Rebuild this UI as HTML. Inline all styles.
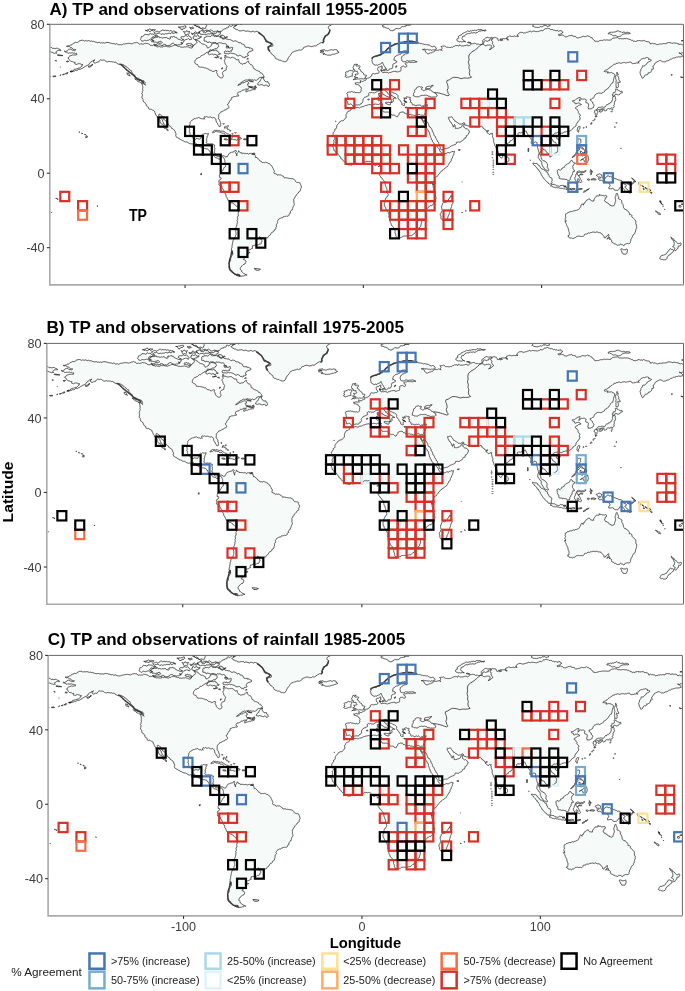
<!DOCTYPE html>
<html><head><meta charset="utf-8"><title>TP and observations of rainfall</title>
<style>
html,body{margin:0;padding:0;background:#fff;}
body{width:685px;height:991px;overflow:hidden;}
svg{display:block;will-change:transform;}
text{font-family:"Liberation Sans",sans-serif;}
.ttl{font-weight:bold;font-size:17.05px;fill:#000;}
.tk{font-size:12.6px;fill:#3d3d3d;}
.ax{font-weight:bold;font-size:14.8px;fill:#000;}
.lg{font-size:10.85px;fill:#1a1a1a;}
.lgt{font-size:11.75px;fill:#1a1a1a;}
.tp{font-weight:bold;font-size:14.1px;fill:#000;}
</style></head><body>
<svg width="685" height="991" viewBox="0 0 685 991">
<rect width="685" height="991" fill="#fff"/>
<defs><path id="coast" fill="#f6faf8" fill-rule="evenodd" stroke="#1e1e1e" stroke-width="0.8" stroke-opacity="0.95" vector-effect="non-scaling-stroke" d="M-166.9 -53.9L-165.9 -54.1L-166.2 -53.5L-167.4 -53.4L-166.9 -53.9ZM-169 -53L-167.8 -53.4L-168.3 -52.9L-169 -53ZM-170.5 -52.6L-169.8 -52.9L-170.3 -52.5ZM-174.5 -52.1L-173 -52.3L-172.6 -52L-174.2 -51.9L-174.5 -52.1ZM-176.9 -51.9L-175.8 -52L-176.2 -51.6L-177 -51.6ZM-178.3 -51.9L-177.6 -51.8L-178.1 -51.6ZM178.2 -51.8L179.6 -51.5L179 -51.4ZM172.8 -53L173.6 -52.9L173.2 -52.7ZM-163.5 -54.8L-164.8 -54.6L-164.3 -54.4L-163.3 -54.6ZM-171.8 -63.7L-169.5 -63.4L-168.7 -63.2L-170.3 -63.2L-171.8 -63.4L-171.8 -63.7ZM-166.5 -60.3L-165.5 -60.2L-165.9 -59.8L-166.9 -60L-166.5 -60.3ZM-170.3 -57.2L-170.1 -57.1L-170.2 -57ZM-173.1 -60.6L-172.3 -60.4L-172.8 -60.3ZM-152.5 -58.6L-152 -58.5L-152.4 -58.3ZM72.28 -11.5L72.5 -11.72L72.72 -11.5L72.5 -11.28L72.28 -11.5ZM72.28 -10.8L72.5 -11.02L72.72 -10.8L72.5 -10.58L72.28 -10.8ZM72.28 -10L72.5 -10.22L72.72 -10L72.5 -9.78L72.28 -10ZM72.28 -8.3L72.5 -8.52L72.72 -8.3L72.5 -8.08L72.28 -8.3ZM72.78 -7L73 -7.22L73.22 -7L73 -6.78L72.78 -7ZM72.78 -6L73 -6.22L73.22 -6L73 -5.78L72.78 -6ZM72.78 -5L73 -5.22L73.22 -5L73 -4.78L72.78 -5ZM72.78 -4.2L73 -4.42L73.22 -4.2L73 -3.98L72.78 -4.2ZM72.78 -3.3L73 -3.52L73.22 -3.3L73 -3.08L72.78 -3.3ZM72.78 -2L73 -2.22L73.22 -2L73 -1.78L72.78 -2ZM72.78 -0.5L73 -0.72L73.22 -0.5L73 -0.28L72.78 -0.5ZM72.78 0.6L73 0.38L73.22 0.6L73 0.82L72.78 0.6ZM123.5 -24.4L123.8 -24.7L124.1 -24.4L123.8 -24.1L123.5 -24.4ZM125 -24.8L125.3 -25.1L125.6 -24.8L125.3 -24.5L125 -24.8ZM127.6 -26.5L127.9 -26.8L128.2 -26.5L127.9 -26.2L127.6 -26.5ZM128 -27L128.3 -27.3L128.6 -27L128.3 -26.7L128 -27ZM129 -28.3L129.3 -28.6L129.6 -28.3L129.3 -28L129 -28.3ZM129.7 -29L130 -29.3L130.3 -29L130 -28.7L129.7 -29ZM130.3 -30.4L130.6 -30.7L130.9 -30.4L130.6 -30.1L130.3 -30.4ZM130.7 -30.6L131 -30.9L131.3 -30.6L131 -30.3L130.7 -30.6ZM139.2 -33.1L139.5 -33.4L139.8 -33.1L139.5 -32.8L139.2 -33.1ZM139.5 -34.1L139.8 -34.4L140.1 -34.1L139.8 -33.8L139.5 -34.1ZM141.9 -27.1L142.2 -27.4L142.5 -27.1L142.2 -26.8L141.9 -27.1ZM141 -24.8L141.3 -25.1L141.6 -24.8L141.3 -24.5L141 -24.8ZM-78.15 -24.4L-77.8 -24.75L-77.45 -24.4L-77.8 -24.05L-78.15 -24.4ZM-77.75 -25.1L-77.4 -25.45L-77.05 -25.1L-77.4 -24.75L-77.75 -25.1ZM-76.85 -24.3L-76.5 -24.65L-76.15 -24.3L-76.5 -23.95L-76.85 -24.3ZM-76.15 -23.5L-75.8 -23.85L-75.45 -23.5L-75.8 -23.15L-76.15 -23.5ZM-75.15 -22.8L-74.8 -23.15L-74.45 -22.8L-74.8 -22.45L-75.15 -22.8ZM-73.85 -21.2L-73.5 -21.55L-73.15 -21.2L-73.5 -20.85L-73.85 -21.2ZM-76.35 -25.4L-76 -25.75L-75.65 -25.4L-76 -25.05L-76.35 -25.4ZM-78.85 -26.6L-78.5 -26.95L-78.15 -26.6L-78.5 -26.25L-78.85 -26.6ZM-72.15 -21.8L-71.8 -22.15L-71.45 -21.8L-71.8 -21.45L-72.15 -21.8ZM156.5 6.6L157.3 7L157.6 7.4L156.9 7.2ZM158.2 7.6L159.3 8.2L159.9 8.5L159.5 8.6L158.4 8ZM157.2 8.2L158 8.5L157.7 8.8L157.1 8.5ZM161.3 10.2L162.3 10.6L162 10.8L161.3 10.5ZM166.6 14.7L167.2 15.1L167.1 15.6L166.7 15.5ZM167.2 16L167.8 16.4L167.5 16.6ZM169.2 19.4L169.5 19.5L169.3 19.7ZM168 16.8L168.4 16.7L168.3 17ZM-168 -65.6L-167.71 -65.64L-167.45 -65.5L-167.17 -65.44L-166.9 -65.57L-166.63 -65.66L-166.35 -65.74L-166.1 -65.92L-166 -66.2L-165.82 -66.42L-165.61 -66.6L-165.31 -66.57L-165.05 -66.71L-164.78 -66.71L-164.51 -66.71L-164.26 -66.58L-164 -66.5L-163.78 -66.23L-163.44 -66.13L-163.11 -66.11L-162.78 -66.05L-162.45 -65.91L-162.09 -65.92L-161.82 -66.15L-161.5 -66.3L-161.74 -66.47L-162.04 -66.46L-162.3 -66.57L-162.59 -66.56L-162.89 -66.57L-163.14 -66.74L-163.37 -66.93L-163.5 -67.2L-163.68 -67.35L-163.9 -67.41L-164.13 -67.44L-164.36 -67.4L-164.47 -67.6L-164.67 -67.71L-164.86 -67.82L-165 -68L-165.23 -68.1L-165.47 -68.17L-165.71 -68.1L-165.93 -67.97L-166.17 -68.01L-166.35 -68.19L-166.6 -68.16L-166.8 -68.3L-166.45 -68.43L-166.07 -68.39L-165.72 -68.54L-165.34 -68.43L-164.98 -68.55L-164.73 -68.85L-164.38 -69.01L-164 -69L-163.68 -69.1L-163.45 -69.34L-163.19 -69.54L-163 -69.8L-162.62 -69.92L-162.25 -70.06L-161.85 -70.16L-161.57 -70.47L-161.18 -70.29L-160.76 -70.23L-160.44 -70.53L-160 -70.6L-159.75 -70.94L-159.4 -71.18L-159 -71.29L-158.61 -71.46L-158.19 -71.44L-157.78 -71.49L-157.35 -71.46L-157 -71.2L-156.76 -71.06L-156.48 -71.09L-156.28 -71.28L-155.99 -71.28L-155.75 -71.2L-155.5 -71.16L-155.24 -71.21L-155 -71.1L-154.65 -71.31L-154.23 -71.28L-153.87 -71.13L-153.5 -71L-153.09 -70.91L-152.72 -71.11L-152.35 -70.97L-152 -70.8L-151.54 -70.88L-151.11 -70.73L-150.68 -70.57L-150.27 -70.39L-149.8 -70.38L-149.4 -70.14L-148.95 -70.24L-148.5 -70.3L-148.02 -70.32L-147.65 -70L-147.22 -70.19L-146.76 -70.07L-146.31 -70L-145.88 -70.11L-145.44 -69.97L-145 -70.1L-144.5 -70.24L-144 -70.35L-143.48 -70.27L-142.96 -70.25L-142.5 -70.02L-141.98 -69.99L-141.5 -69.8L-141 -69.7L-140.6 -69.58L-140.22 -69.74L-139.83 -69.65L-139.51 -69.41L-139.09 -69.37L-138.74 -69.61L-138.34 -69.52L-138 -69.3L-137.76 -69.18L-137.53 -69.04L-137.27 -69.13L-136.99 -69.13L-136.72 -69.1L-136.46 -69.19L-136.25 -69L-136 -68.9L-135.77 -69.04L-135.52 -69.11L-135.29 -69.24L-135.03 -69.3L-134.8 -69.47L-134.52 -69.44L-134.26 -69.44L-134 -69.5L-133.64 -69.64L-133.26 -69.66L-132.89 -69.72L-132.51 -69.76L-132.14 -69.85L-131.75 -69.85L-131.38 -69.76L-131 -69.7L-130.73 -69.68L-130.46 -69.63L-130.19 -69.58L-129.93 -69.53L-129.66 -69.62L-129.47 -69.82L-129.2 -69.9L-129 -70.1L-128.81 -70.14L-128.61 -70.15L-128.4 -70.17L-128.22 -70.09L-128.04 -70.18L-127.84 -70.19L-127.68 -70.31L-127.5 -70.4L-127.28 -70.19L-126.98 -70.15L-126.68 -70.21L-126.42 -70.06L-126.26 -69.81L-126.08 -69.57L-125.82 -69.39L-125.5 -69.4L-125.22 -69.41L-125.01 -69.61L-124.73 -69.62L-124.5 -69.46L-124.25 -69.38L-124 -69.46L-123.74 -69.51L-123.5 -69.4L-123.2 -69.54L-122.94 -69.76L-122.62 -69.9L-122.28 -69.84L-121.95 -69.77L-121.62 -69.81L-121.29 -69.77L-121 -69.6L-120.53 -69.51L-120.1 -69.28L-119.8 -68.89L-119.36 -68.67L-118.87 -68.77L-118.39 -68.62L-118 -68.94L-117.5 -69L-117.18 -68.78L-116.8 -68.81L-116.64 -68.47L-116.36 -68.23L-115.98 -68.23L-115.7 -67.98L-115.35 -67.92L-115 -68L-114.75 -68.1L-114.48 -68.08L-114.25 -67.95L-114 -67.85L-113.73 -67.81L-113.48 -67.91L-113.2 -67.9L-113 -67.7L-112.69 -67.97L-112.34 -68.19L-111.93 -68.32L-111.53 -68.15L-111.14 -68.27L-110.74 -68.36L-110.35 -68.22L-110 -68L-109.67 -68.06L-109.35 -67.99L-109.02 -67.93L-108.73 -67.8L-108.44 -67.98L-108.18 -68.2L-107.84 -68.18L-107.5 -68.2L-107.32 -68.33L-107.1 -68.35L-106.96 -68.5L-106.81 -68.66L-106.59 -68.63L-106.41 -68.75L-106.21 -68.8L-106 -68.8L-105.6 -68.82L-105.21 -68.74L-104.84 -68.58L-104.53 -68.34L-104.13 -68.35L-103.77 -68.19L-103.37 -68.23L-103 -68.1L-102.69 -67.84L-102.3 -67.78L-101.9 -67.89L-101.52 -67.72L-101.14 -67.78L-100.77 -67.85L-100.37 -67.96L-100 -67.8L-99.75 -67.86L-99.5 -67.94L-99.26 -68.03L-99 -68.06L-98.76 -67.95L-98.53 -67.81L-98.26 -67.9L-98 -67.8L-97.8 -67.61L-97.56 -67.49L-97.29 -67.45L-97.05 -67.34L-96.78 -67.32L-96.51 -67.35L-96.28 -67.51L-96 -67.5L-96.07 -67.81L-95.92 -68.09L-95.66 -68.24L-95.5 -68.5L-95.34 -68.58L-95.17 -68.66L-95.06 -68.8L-94.92 -68.92L-94.88 -69.11L-94.78 -69.26L-94.59 -69.33L-94.5 -69.5L-94.2 -69.6L-93.96 -69.79L-93.68 -69.94L-93.5 -70.2L-93.58 -70.44L-93.76 -70.62L-93.73 -70.88L-93.81 -71.12L-93.98 -71.3L-94.21 -71.41L-94.38 -71.58L-94.5 -71.8L-94.31 -71.7L-94.1 -71.75L-93.89 -71.7L-93.76 -71.53L-93.54 -71.48L-93.41 -71.3L-93.21 -71.36L-93 -71.3L-92.81 -71.13L-92.57 -71.09L-92.33 -71.01L-92.1 -70.96L-91.92 -70.75L-91.92 -70.48L-91.66 -70.41L-91.5 -70.2L-91.24 -70.09L-91.04 -69.88L-90.86 -69.65L-90.6 -69.53L-90.33 -69.44L-90.07 -69.31L-89.78 -69.39L-89.5 -69.3L-89.28 -69.29L-89.11 -69.16L-88.94 -69.03L-88.73 -68.98L-88.59 -68.82L-88.42 -68.69L-88.22 -68.61L-88 -68.6L-88.06 -68.42L-88 -68.23L-87.87 -68.1L-87.78 -67.94L-87.69 -67.77L-87.71 -67.59L-87.63 -67.42L-87.5 -67.3L-87.26 -67.48L-86.96 -67.47L-86.69 -67.58L-86.5 -67.8L-86.25 -67.96L-85.96 -68.05L-85.69 -68.21L-85.58 -68.51L-85.38 -68.73L-85.34 -69.03L-85.23 -69.31L-85.2 -69.6L-84.91 -69.47L-84.61 -69.55L-84.41 -69.78L-84.12 -69.87L-83.83 -69.89L-83.55 -69.97L-83.25 -69.96L-83 -69.8L-82.85 -69.66L-82.68 -69.52L-82.47 -69.52L-82.27 -69.45L-82.06 -69.51L-81.84 -69.46L-81.67 -69.33L-81.5 -69.2L-81.45 -68.97L-81.36 -68.75L-81.36 -68.5L-81.2 -68.3L-81.33 -68.06L-81.59 -67.96L-81.74 -67.76L-81.79 -67.5L-82.04 -67.42L-82.2 -67.2L-82.35 -67L-82.5 -66.8L-82.74 -66.97L-83.03 -66.96L-83.31 -66.95L-83.58 -66.86L-83.75 -66.63L-83.94 -66.43L-84.24 -66.43L-84.5 -66.3L-84.73 -66.28L-84.92 -66.14L-85.14 -66.17L-85.36 -66.13L-85.55 -66.25L-85.78 -66.27L-85.98 -66.36L-86.2 -66.4L-86.31 -66.24L-86.3 -66.04L-86.29 -65.84L-86.41 -65.67L-86.47 -65.47L-86.64 -65.36L-86.79 -65.22L-87 -65.2L-87.29 -65.16L-87.54 -65.02L-87.8 -64.86L-88.1 -64.9L-88.25 -64.64L-88.49 -64.48L-88.76 -64.37L-89 -64.2L-89.21 -64.06L-89.45 -63.98L-89.57 -63.77L-89.75 -63.59L-89.97 -63.46L-90.19 -63.34L-90.44 -63.43L-90.7 -63.4L-90.93 -63.24L-91.17 -63.1L-91.29 -62.85L-91.5 -62.66L-91.74 -62.49L-91.93 -62.27L-92.21 -62.19L-92.5 -62.2L-92.63 -61.98L-92.86 -61.88L-93.09 -61.86L-93.33 -61.82L-93.59 -61.8L-93.78 -61.63L-93.93 -61.44L-94 -61.2L-94.14 -61.01L-94.3 -60.83L-94.47 -60.66L-94.51 -60.41L-94.64 -60.21L-94.63 -59.96L-94.72 -59.74L-94.7 -59.5L-94.71 -59.26L-94.57 -59.07L-94.37 -58.95L-94.2 -58.8L-93.9 -58.67L-93.62 -58.51L-93.29 -58.47L-93 -58.3L-92.91 -58.13L-92.93 -57.95L-92.79 -57.82L-92.67 -57.69L-92.57 -57.52L-92.59 -57.33L-92.41 -57.26L-92.3 -57.1L-92 -57.13L-91.73 -56.99L-91.44 -57.01L-91.15 -57.04L-90.86 -57.03L-90.58 -56.95L-90.29 -56.95L-90 -57L-89.76 -56.89L-89.51 -56.81L-89.29 -56.62L-89.01 -56.64L-88.74 -56.61L-88.49 -56.52L-88.21 -56.49L-88 -56.3L-87.65 -56.19L-87.29 -56.24L-87.02 -56.01L-86.73 -55.8L-86.53 -55.48L-86.21 -55.3L-85.84 -55.35L-85.5 -55.2L-85.08 -55.07L-84.76 -54.77L-84.33 -54.75L-83.9 -54.72L-83.52 -54.95L-83.18 -55.24L-82.74 -55.24L-82.3 -55.2L-82.25 -54.98L-82.25 -54.75L-82.27 -54.51L-82.44 -54.34L-82.43 -54.1L-82.27 -53.93L-82.19 -53.72L-82.2 -53.5L-82.07 -53.35L-81.89 -53.26L-81.81 -53.07L-81.82 -52.87L-81.86 -52.67L-81.78 -52.48L-81.66 -52.32L-81.5 -52.2L-81.32 -52.11L-81.18 -51.97L-80.98 -51.9L-80.86 -51.74L-80.74 -51.57L-80.58 -51.44L-80.38 -51.4L-80.2 -51.3L-79.89 -51.19L-79.57 -51.24L-79.28 -51.35L-79 -51.5L-78.94 -51.79L-78.75 -52.02L-78.65 -52.3L-78.7 -52.6L-78.83 -52.78L-78.93 -52.98L-79.07 -53.15L-79.21 -53.32L-79.16 -53.56L-79 -53.74L-78.99 -53.98L-79.1 -54.2L-78.86 -54.41L-78.63 -54.63L-78.46 -54.91L-78.21 -55.1L-77.88 -55.14L-77.55 -55.15L-77.31 -55.38L-77 -55.5L-77.09 -55.73L-77.09 -55.97L-77.09 -56.22L-76.96 -56.44L-76.84 -56.65L-76.85 -56.9L-76.74 -57.11L-76.6 -57.3L-76.65 -57.48L-76.7 -57.66L-76.85 -57.78L-76.93 -57.95L-77.06 -58.09L-77.23 -58.17L-77.34 -58.32L-77.4 -58.5L-77.52 -58.74L-77.69 -58.94L-77.64 -59.21L-77.69 -59.47L-77.82 -59.69L-77.93 -59.92L-78.07 -60.14L-78.1 -60.4L-78.05 -60.57L-78.08 -60.75L-77.96 -60.88L-77.84 -61.01L-77.6 -61.24L-77.4 -61.5L-77.58 -61.7L-77.72 -61.94L-77.87 -62.16L-78 -62.4L-77.69 -62.49L-77.37 -62.45L-77.06 -62.49L-76.74 -62.49L-76.42 -62.45L-76.1 -62.52L-75.81 -62.38L-75.5 -62.3L-75.24 -62.23L-75.03 -62.07L-74.78 -61.97L-74.51 -62.05L-74.3 -62.21L-74.04 -62.24L-73.77 -62.29L-73.6 -62.5L-73.31 -62.35L-73.08 -62.12L-72.74 -62.2L-72.44 -62.03L-72.25 -61.76L-71.96 -61.63L-71.66 -61.49L-71.5 -61.2L-71.38 -61.03L-71.17 -60.98L-70.98 -60.89L-70.77 -60.92L-70.6 -61.04L-70.39 -61L-70.2 -61.01L-70 -61L-69.97 -60.78L-69.8 -60.63L-69.89 -60.43L-69.85 -60.22L-69.85 -60.01L-69.75 -59.82L-69.68 -59.62L-69.5 -59.5L-69.33 -59.36L-69.25 -59.16L-69.05 -59.08L-68.84 -59.07L-68.65 -58.96L-68.43 -58.95L-68.28 -58.8L-68.2 -58.6L-67.95 -58.55L-67.73 -58.68L-67.53 -58.81L-67.39 -59.01L-67.16 -58.91L-66.92 -58.99L-66.69 -58.94L-66.5 -58.8L-66.41 -58.97L-66.31 -59.12L-66.11 -59.13L-65.96 -59.26L-65.81 -59.36L-65.71 -59.51L-65.58 -59.64L-65.5 -59.8L-65.29 -59.99L-65.03 -60.11L-64.76 -60.19L-64.5 -60.3L-64.37 -60.05L-64.42 -59.77L-64.41 -59.49L-64.21 -59.28L-63.98 -59.14L-63.84 -58.9L-63.69 -58.69L-63.5 -58.5L-63.28 -58.4L-63.04 -58.39L-62.8 -58.36L-62.57 -58.26L-62.39 -58.1L-62.3 -57.87L-62.15 -57.68L-62 -57.5L-61.97 -57.32L-61.95 -57.15L-61.92 -56.97L-61.88 -56.8L-61.79 -56.63L-61.79 -56.44L-61.61 -56.37L-61.5 -56.2L-61.26 -56.19L-61.03 -56.14L-60.85 -55.99L-60.74 -55.77L-60.62 -55.57L-60.4 -55.49L-60.2 -55.39L-60 -55.3L-59.74 -55.16L-59.44 -55.14L-59.17 -55.05L-58.92 -54.89L-58.62 -54.83L-58.34 -54.71L-58.1 -54.5L-58 -54.2L-57.8 -54.06L-57.65 -53.86L-57.42 -53.76L-57.17 -53.82L-56.96 -53.72L-56.84 -53.51L-56.65 -53.38L-56.5 -53.2L-56.39 -52.91L-56.17 -52.68L-55.94 -52.47L-55.8 -52.2L-55.94 -52.05L-56.06 -51.88L-56.27 -51.85L-56.46 -51.77L-56.65 -51.68L-56.79 -51.52L-57 -51.55L-57.2 -51.5L-57.47 -51.48L-57.74 -51.5L-58.02 -51.53L-58.28 -51.4L-58.45 -51.17L-58.74 -51.09L-58.95 -50.89L-59 -50.6L-59.25 -50.47L-59.43 -50.25L-59.72 -50.22L-59.92 -50.01L-60.2 -49.91L-60.49 -49.95L-60.78 -50.01L-61 -50.2L-61.33 -50.15L-61.62 -49.98L-61.93 -50.11L-62.25 -50.19L-62.57 -50.24L-62.88 -50.15L-63.21 -50.15L-63.5 -50.3L-63.8 -50.48L-64.15 -50.44L-64.43 -50.26L-64.75 -50.15L-65.07 -50.06L-65.38 -49.95L-65.67 -50.14L-66 -50.2L-66.19 -50.08L-66.38 -49.98L-66.6 -49.92L-66.83 -49.95L-66.94 -49.74L-67.06 -49.54L-67.26 -49.41L-67.5 -49.4L-67.75 -49.4L-67.93 -49.24L-68.11 -49.09L-68.26 -48.91L-68.5 -48.89L-68.67 -48.71L-68.82 -48.55L-69 -48.4L-69.2 -48.25L-69.44 -48.15L-69.55 -47.93L-69.68 -47.71L-69.91 -47.62L-70.16 -47.57L-70.29 -47.34L-70.5 -47.2L-70.25 -47.31L-69.99 -47.36L-69.75 -47.5L-69.5 -47.6L-69.28 -47.61L-69.07 -47.68L-68.9 -47.82L-68.7 -47.9L-68.54 -48.07L-68.5 -48.29L-68.31 -48.4L-68.2 -48.6L-67.97 -48.61L-67.74 -48.57L-67.53 -48.69L-67.29 -48.64L-67.04 -48.62L-66.82 -48.74L-66.66 -48.92L-66.5 -49.1L-66.23 -49.11L-65.99 -49.23L-65.73 -49.28L-65.47 -49.3L-65.2 -49.29L-64.95 -49.19L-64.75 -49L-64.5 -48.9L-64.51 -48.71L-64.48 -48.53L-64.43 -48.34L-64.3 -48.2L-64.5 -48.05L-64.75 -48.04L-64.98 -47.98L-65.2 -47.9L-65.04 -47.71L-64.92 -47.48L-64.85 -47.25L-64.8 -47L-64.67 -46.79L-64.64 -46.54L-64.44 -46.4L-64.3 -46.2L-64.08 -46.34L-63.81 -46.36L-63.55 -46.32L-63.34 -46.17L-63.16 -46L-62.92 -45.94L-62.66 -45.9L-62.5 -45.7L-62.31 -45.75L-62.12 -45.76L-61.95 -45.65L-61.75 -45.64L-61.56 -45.61L-61.38 -45.56L-61.2 -45.65L-61 -45.6L-60.8 -45.82L-60.59 -46.03L-60.3 -46.07L-60 -46.1L-60.27 -45.9L-60.48 -45.63L-60.5 -45.29L-60.7 -45L-60.93 -44.97L-61.15 -44.94L-61.38 -44.88L-61.61 -44.9L-61.84 -44.97L-62.08 -44.9L-62.32 -44.86L-62.5 -44.7L-62.72 -44.64L-62.92 -44.75L-63.08 -44.61L-63.28 -44.53L-63.49 -44.53L-63.65 -44.39L-63.79 -44.24L-64 -44.2L-64.27 -44.2L-64.5 -44.32L-64.72 -44.18L-64.95 -44.06L-65.15 -43.89L-65.4 -43.88L-65.63 -43.78L-65.8 -43.6L-65.88 -43.8L-65.93 -44.01L-66.04 -44.19L-66.1 -44.4L-65.93 -44.48L-65.79 -44.6L-65.63 -44.72L-65.43 -44.71L-65.23 -44.72L-65.07 -44.83L-64.95 -44.98L-64.8 -45.1L-64.63 -45.29L-64.5 -45.5L-64.68 -45.38L-64.9 -45.4L-65.06 -45.27L-65.21 -45.13L-65.4 -45.22L-65.59 -45.31L-65.78 -45.19L-66 -45.2L-66.31 -45.19L-66.58 -45.03L-66.78 -44.77L-67.1 -44.7L-67.3 -44.66L-67.49 -44.7L-67.69 -44.74L-67.89 -44.7L-67.97 -44.51L-68.13 -44.37L-68.29 -44.22L-68.5 -44.2L-68.64 -44L-68.84 -43.88L-69.06 -43.8L-69.29 -43.73L-69.52 -43.73L-69.75 -43.73L-69.97 -43.64L-70.2 -43.6L-70.38 -43.4L-70.52 -43.17L-70.61 -42.9L-70.8 -42.7L-70.6 -42.5L-70.58 -42.22L-70.31 -42.19L-70.1 -42L-70.01 -41.81L-70 -41.6L-70.27 -41.44L-70.59 -41.44L-70.89 -41.57L-71.2 -41.5L-71.37 -41.37L-71.57 -41.32L-71.76 -41.21L-71.98 -41.25L-72.18 -41.21L-72.39 -41.22L-72.59 -41.15L-72.8 -41.2L-72.97 -41.15L-73.14 -41.1L-73.23 -40.94L-73.34 -40.8L-73.47 -40.67L-73.65 -40.62L-73.81 -40.73L-74 -40.7L-74 -40.51L-74.11 -40.36L-74.08 -40.18L-74.1 -40L-74.17 -39.69L-74.31 -39.4L-74.63 -39.29L-74.8 -39L-74.91 -38.83L-75.08 -38.73L-75.23 -38.59L-75.3 -38.4L-75.47 -38.1L-75.44 -37.76L-75.73 -37.59L-75.9 -37.3L-76.04 -37.07L-76.3 -37L-76.23 -36.7L-75.98 -36.51L-75.84 -36.25L-75.7 -36L-75.6 -35.81L-75.63 -35.59L-75.5 -35.42L-75.5 -35.2L-75.77 -35.08L-75.95 -34.86L-76.21 -34.72L-76.5 -34.7L-76.69 -34.63L-76.88 -34.55L-77.01 -34.38L-77.08 -34.19L-77.23 -34.06L-77.42 -34L-77.63 -34.01L-77.8 -33.9L-78.01 -33.93L-78.21 -33.84L-78.39 -33.73L-78.5 -33.55L-78.63 -33.39L-78.81 -33.29L-79.02 -33.32L-79.2 -33.2L-79.41 -33.21L-79.59 -33.11L-79.81 -33.14L-79.98 -33.02L-80.01 -32.8L-80.12 -32.61L-80.28 -32.46L-80.5 -32.4L-80.74 -32.16L-80.96 -31.9L-81.15 -31.61L-81.3 -31.3L-81.32 -31.05L-81.28 -30.79L-81.26 -30.53L-81.4 -30.3L-81.35 -30.03L-81.25 -29.78L-81.4 -29.53L-81.35 -29.24L-81.13 -29.09L-80.92 -28.93L-80.82 -28.67L-80.6 -28.5L-80.59 -28.24L-80.42 -28.03L-80.47 -27.78L-80.42 -27.53L-80.33 -27.29L-80.17 -27.1L-80.1 -26.85L-80.1 -26.6L-80.08 -26.4L-80.16 -26.21L-80.03 -26.06L-80.02 -25.85L-80.13 -25.67L-80.09 -25.45L-80.21 -25.29L-80.4 -25.2L-80.58 -25.2L-80.75 -25.14L-80.93 -25.17L-81.1 -25.2L-81.19 -25.5L-81.35 -25.77L-81.59 -25.97L-81.8 -26.2L-81.78 -26.4L-81.84 -26.6L-81.95 -26.77L-82.01 -26.97L-82.15 -27.11L-82.3 -27.24L-82.45 -27.37L-82.6 -27.5L-82.66 -27.82L-82.74 -28.14L-82.78 -28.47L-82.8 -28.8L-82.88 -28.97L-82.98 -29.13L-83.13 -29.24L-83.3 -29.31L-83.34 -29.49L-83.43 -29.65L-83.54 -29.8L-83.7 -29.9L-83.98 -30L-84.27 -29.89L-84.55 -29.83L-84.8 -29.7L-84.97 -29.73L-85.15 -29.75L-85.28 -29.87L-85.4 -29.99L-85.51 -30.14L-85.64 -30.27L-85.82 -30.26L-86 -30.3L-86.28 -30.27L-86.5 -30.09L-86.79 -30.15L-87.04 -30.01L-87.27 -30.16L-87.54 -30.21L-87.78 -30.35L-88 -30.5L-88.19 -30.42L-88.33 -30.27L-88.53 -30.19L-88.73 -30.26L-88.91 -30.37L-89.13 -30.35L-89.32 -30.29L-89.5 -30.2L-89.41 -29.93L-89.33 -29.66L-89.36 -29.35L-89.2 -29.1L-89.43 -29.23L-89.7 -29.27L-89.92 -29.09L-90.2 -29.1L-90.36 -29.2L-90.48 -29.33L-90.66 -29.32L-90.85 -29.31L-91.02 -29.25L-91.21 -29.28L-91.39 -29.35L-91.5 -29.5L-91.79 -29.52L-92 -29.71L-92.26 -29.79L-92.46 -29.98L-92.75 -29.91L-92.94 -29.69L-93.22 -29.62L-93.5 -29.7L-93.81 -29.58L-94.04 -29.33L-94.23 -29.35L-94.39 -29.24L-94.56 -29.29L-94.7 -29.4L-94.94 -29.27L-95.21 -29.22L-95.34 -28.97L-95.59 -28.84L-95.82 -28.71L-96.07 -28.6L-96.31 -28.5L-96.5 -28.3L-96.65 -28.05L-96.87 -27.87L-97.06 -27.66L-97.3 -27.5L-97.28 -27.29L-97.39 -27.11L-97.31 -26.93L-97.24 -26.74L-97.36 -26.58L-97.43 -26.39L-97.42 -26.2L-97.4 -26L-97.49 -25.78L-97.7 -25.64L-97.76 -25.41L-97.86 -25.21L-97.93 -24.97L-97.86 -24.74L-97.78 -24.52L-97.7 -24.3L-97.7 -24.06L-97.62 -23.84L-97.55 -23.62L-97.52 -23.39L-97.59 -23.16L-97.57 -22.91L-97.72 -22.73L-97.8 -22.5L-97.61 -22.41L-97.5 -22.23L-97.44 -22.04L-97.44 -21.84L-97.36 -21.66L-97.37 -21.47L-97.35 -21.28L-97.3 -21.1L-97.32 -20.86L-97.25 -20.64L-97.09 -20.44L-97.11 -20.2L-96.86 -20.14L-96.64 -20.04L-96.46 -19.85L-96.4 -19.6L-96.09 -19.48L-95.8 -19.3L-95.68 -19.17L-95.55 -19.05L-95.59 -18.87L-95.5 -18.7L-95.23 -18.58L-94.93 -18.6L-94.72 -18.4L-94.5 -18.2L-94.24 -18.17L-94.03 -18.31L-93.93 -18.56L-93.71 -18.68L-93.47 -18.6L-93.23 -18.7L-93.01 -18.62L-92.8 -18.5L-92.62 -18.46L-92.45 -18.49L-92.3 -18.4L-92.13 -18.34L-91.95 -18.34L-91.77 -18.35L-91.6 -18.44L-91.5 -18.6L-91.52 -18.79L-91.44 -18.96L-91.35 -19.12L-91.22 -19.25L-91.03 -19.27L-90.89 -19.39L-90.77 -19.53L-90.6 -19.6L-90.56 -19.94L-90.65 -20.27L-90.71 -20.45L-90.64 -20.63L-90.55 -20.79L-90.4 -20.9L-90.22 -21.02L-90.01 -21.05L-89.8 -21.07L-89.6 -21L-89.41 -21.08L-89.27 -21.24L-89.09 -21.33L-88.9 -21.4L-88.68 -21.32L-88.44 -21.28L-88.19 -21.27L-87.98 -21.15L-87.73 -21.17L-87.48 -21.16L-87.29 -21.33L-87.1 -21.5L-87.01 -21.19L-87.12 -20.89L-87.12 -20.57L-87.3 -20.3L-87.52 -20.11L-87.67 -19.87L-87.8 -19.59L-87.7 -19.3L-87.8 -19.05L-87.88 -18.79L-88.03 -18.56L-88.1 -18.3L-88.08 -18.05L-88.07 -17.81L-87.95 -17.58L-87.97 -17.33L-87.98 -17.08L-88.08 -16.84L-88.2 -16.63L-88.3 -16.4L-88.13 -16.29L-88.02 -16.13L-87.88 -15.98L-87.7 -15.9L-87.5 -15.85L-87.34 -15.72L-87.15 -15.8L-86.95 -15.8L-86.76 -15.71L-86.56 -15.76L-86.37 -15.79L-86.2 -15.9L-85.99 -15.89L-85.81 -15.78L-85.6 -15.73L-85.4 -15.8L-85.19 -15.81L-85 -15.71L-84.8 -15.77L-84.6 -15.8L-84.42 -15.68L-84.36 -15.48L-84.26 -15.3L-84.07 -15.2L-83.89 -15.11L-83.7 -15.04L-83.49 -15.1L-83.3 -15L-83.45 -14.87L-83.61 -14.75L-83.64 -14.55L-83.7 -14.35L-83.66 -14.15L-83.76 -13.96L-83.68 -13.78L-83.6 -13.6L-83.47 -13.43L-83.44 -13.21L-83.48 -13L-83.56 -12.8L-83.43 -12.62L-83.45 -12.39L-83.49 -12.18L-83.6 -12L-83.65 -11.73L-83.57 -11.47L-83.74 -11.26L-83.8 -11L-83.47 -10.88L-83.2 -10.66L-83.25 -10.48L-83.18 -10.31L-83.07 -10.17L-83 -10L-82.93 -9.69L-82.74 -9.42L-82.51 -9.2L-82.2 -9.1L-81.89 -9.03L-81.62 -8.86L-81.3 -8.92L-81 -8.8L-80.82 -8.89L-80.72 -9.06L-80.55 -9.15L-80.44 -9.31L-80.24 -9.23L-80.03 -9.27L-79.87 -9.38L-79.7 -9.5L-79.43 -9.31L-79.11 -9.35L-78.81 -9.42L-78.5 -9.4L-78.17 -9.34L-77.87 -9.17L-77.68 -8.89L-77.4 -8.7L-77.17 -8.78L-76.97 -8.91L-76.75 -8.78L-76.5 -8.8L-76.45 -9.02L-76.35 -9.22L-76.18 -9.37L-76 -9.5L-75.95 -9.78L-75.8 -10.02L-75.74 -10.32L-75.5 -10.5L-75.32 -10.7L-75.1 -10.83L-74.87 -10.99L-74.6 -11L-74.31 -11.09L-74.09 -11.31L-73.8 -11.39L-73.5 -11.3L-73.34 -11.42L-73.14 -11.41L-72.95 -11.43L-72.79 -11.53L-72.58 -11.57L-72.45 -11.73L-72.38 -11.92L-72.3 -12.1L-72.12 -12.13L-71.94 -12.15L-71.77 -12.23L-71.6 -12.3L-71.52 -12.12L-71.38 -11.98L-71.35 -11.79L-71.3 -11.6L-71.55 -11.4L-71.8 -11.2L-71.68 -11.02L-71.61 -10.82L-71.59 -10.61L-71.6 -10.4L-71.33 -10.22L-71.14 -9.94L-71.08 -9.63L-71.1 -9.3L-71.03 -9.64L-71.12 -9.97L-71 -10.28L-70.9 -10.6L-70.75 -10.82L-70.58 -11.03L-70.4 -11.23L-70.2 -11.4L-70.14 -11.58L-70.16 -11.77L-70.04 -11.91L-70 -12.1L-69.88 -11.97L-69.75 -11.85L-69.76 -11.67L-69.7 -11.5L-69.6 -11.33L-69.42 -11.27L-69.28 -11.14L-69.13 -11.04L-68.95 -11.09L-68.76 -11.14L-68.58 -11.07L-68.4 -11L-68.34 -10.7L-68.1 -10.5L-67.94 -10.7L-67.69 -10.76L-67.45 -10.67L-67.21 -10.76L-67.01 -10.63L-66.76 -10.63L-66.53 -10.69L-66.3 -10.6L-66.03 -10.59L-65.81 -10.44L-65.6 -10.6L-65.34 -10.65L-65.09 -10.63L-64.85 -10.55L-64.71 -10.35L-64.5 -10.2L-64.31 -10.31L-64.2 -10.5L-64 -10.6L-63.78 -10.55L-63.59 -10.63L-63.38 -10.57L-63.21 -10.7L-63 -10.7L-62.76 -10.62L-62.5 -10.63L-62.26 -10.54L-62 -10.6L-62.16 -10.49L-62.35 -10.41L-62.48 -10.26L-62.6 -10.1L-62.38 -10.04L-62.16 -10.11L-61.93 -10.13L-61.74 -10.26L-61.54 -10.17L-61.34 -10.07L-61.15 -9.96L-61 -9.8L-60.87 -9.66L-60.72 -9.55L-60.67 -9.37L-60.69 -9.18L-60.62 -9.01L-60.52 -8.86L-60.51 -8.67L-60.6 -8.5L-60.39 -8.48L-60.2 -8.37L-60.01 -8.46L-59.8 -8.52L-59.7 -8.34L-59.55 -8.2L-59.41 -8.05L-59.2 -8L-59.17 -7.79L-59.03 -7.64L-58.87 -7.52L-58.67 -7.46L-58.55 -7.3L-58.39 -7.18L-58.29 -7.01L-58.3 -6.8L-58.15 -6.68L-58.01 -6.56L-57.82 -6.56L-57.64 -6.56L-57.54 -6.41L-57.39 -6.3L-57.33 -6.13L-57.2 -6L-56.9 -5.85L-56.57 -5.76L-56.23 -5.72L-55.9 -5.8L-55.66 -5.69L-55.4 -5.72L-55.19 -5.86L-54.94 -5.92L-54.72 -5.82L-54.48 -5.76L-54.24 -5.74L-54 -5.7L-53.74 -5.48L-53.48 -5.26L-53.14 -5.22L-52.8 -5.2L-52.75 -5.01L-52.61 -4.87L-52.44 -4.78L-52.32 -4.62L-52.15 -4.51L-51.96 -4.49L-51.85 -4.33L-51.7 -4.2L-51.62 -3.97L-51.41 -3.84L-51.25 -3.67L-51.1 -3.5L-51.04 -3.3L-51.04 -3.08L-50.89 -2.94L-50.79 -2.76L-50.73 -2.55L-50.57 -2.41L-50.51 -2.21L-50.5 -2L-50.31 -1.76L-50.05 -1.6L-50.11 -1.29L-50 -1L-50.04 -0.79L-50.11 -0.58L-50.24 -0.41L-50.3 -0.2L-50.15 -0.1L-50.03 0.05L-49.84 0.1L-49.73 0.25L-49.54 0.28L-49.36 0.21L-49.2 0.32L-49 0.3L-48.86 0.51L-48.62 0.58L-48.49 0.78L-48.4 1L-48.18 1L-47.97 1.03L-47.78 0.92L-47.61 0.78L-47.42 0.87L-47.22 0.94L-47.01 0.96L-46.8 0.9L-46.58 0.92L-46.36 0.89L-46.13 0.9L-45.96 1.05L-45.8 1.21L-45.59 1.29L-45.4 1.4L-45.3 1.6L-45.13 1.69L-44.95 1.74L-44.78 1.81L-44.63 1.93L-44.54 2.1L-44.55 2.3L-44.4 2.43L-44.3 2.6L-44.04 2.56L-43.8 2.43L-43.54 2.4L-43.28 2.47L-43.01 2.44L-42.76 2.54L-42.51 2.63L-42.3 2.8L-42.02 2.71L-41.72 2.75L-41.43 2.77L-41.15 2.83L-40.86 2.86L-40.57 2.84L-40.3 2.95L-40 2.9L-39.78 2.94L-39.61 3.07L-39.42 3.18L-39.2 3.2L-39 3.32L-38.78 3.35L-38.65 3.54L-38.5 3.7L-38.37 3.89L-38.21 4.05L-38.17 4.28L-38.05 4.48L-37.85 4.62L-37.68 4.79L-37.44 4.89L-37.2 4.8L-37.05 4.92L-36.89 5.02L-36.7 5L-36.52 5.02L-36.33 4.97L-36.15 5.02L-35.97 5.05L-35.8 5.1L-35.6 5.2L-35.51 5.41L-35.5 5.62L-35.5 5.83L-35.36 5.97L-35.19 6.1L-35.2 6.31L-35.1 6.5L-34.89 6.75L-34.84 7.07L-34.87 7.39L-34.8 7.7L-34.85 7.92L-34.98 8.11L-35.1 8.3L-35.28 8.43L-35.25 8.65L-35.3 8.87L-35.31 9.1L-35.2 9.3L-35.37 9.49L-35.51 9.69L-35.78 9.66L-36 9.8L-36.13 10.01L-36.34 10.14L-36.41 10.38L-36.5 10.6L-36.77 10.66L-36.92 10.89L-37.08 11.1L-37.27 11.28L-37.45 11.47L-37.64 11.66L-37.75 11.92L-37.7 12.2L-37.88 12.36L-38.11 12.44L-38.33 12.56L-38.47 12.76L-38.52 13L-38.58 13.23L-38.67 13.47L-38.9 13.6L-38.99 13.85L-39.13 14.08L-39.11 14.35L-39.02 14.6L-39.1 14.85L-39 15.1L-39.12 15.34L-39.1 15.6L-38.97 15.85L-38.99 16.13L-38.83 16.36L-38.75 16.62L-38.75 16.9L-38.9 17.14L-39.07 17.36L-39.2 17.6L-39.35 17.82L-39.42 18.08L-39.49 18.33L-39.64 18.56L-39.64 18.83L-39.76 19.07L-39.88 19.33L-39.8 19.6L-40.13 19.61L-40.37 19.82L-40.49 20.11L-40.68 20.36L-40.91 20.58L-41.01 20.89L-41.01 21.2L-40.9 21.5L-41.13 21.6L-41.39 21.61L-41.55 21.8L-41.72 21.99L-41.67 22.24L-41.68 22.5L-41.82 22.71L-42 22.9L-42.18 22.98L-42.35 23.07L-42.54 23.1L-42.73 23.15L-42.95 23.14L-43.11 22.99L-43.3 23.04L-43.5 23.1L-43.82 23.25L-44.16 23.19L-44.45 23.38L-44.8 23.4L-45.06 23.46L-45.27 23.63L-45.35 23.87L-45.51 24.08L-45.78 24.11L-46.01 23.96L-46.28 23.96L-46.5 24.1L-46.69 24.33L-46.97 24.45L-47.27 24.49L-47.5 24.68L-47.73 24.89L-47.78 25.19L-48 25.39L-48.2 25.6L-48.27 25.84L-48.19 26.07L-48.08 26.28L-48.08 26.53L-48.28 26.66L-48.4 26.87L-48.41 27.13L-48.6 27.3L-48.69 27.45L-48.8 27.58L-48.73 27.76L-48.8 27.93L-48.86 28.27L-48.8 28.6L-48.87 28.94L-49.11 29.2L-49.12 29.53L-49.12 29.87L-49.43 30.03L-49.59 30.34L-49.88 30.51L-50.2 30.6L-50.19 30.87L-50.32 31.1L-50.38 31.37L-50.61 31.52L-50.82 31.67L-51.08 31.71L-51.35 31.77L-51.5 32L-51.72 32.11L-51.82 32.34L-51.91 32.56L-52.11 32.71L-52.14 32.95L-52.27 33.15L-52.5 33.26L-52.6 33.5L-52.93 33.6L-53.2 33.8L-53.37 34.09L-53.5 34.4L-53.59 34.59L-53.78 34.67L-53.97 34.76L-54.18 34.72L-54.37 34.69L-54.55 34.78L-54.74 34.79L-54.9 34.9L-55.22 35.04L-55.55 34.94L-55.88 34.96L-56.2 34.9L-56.38 34.79L-56.6 34.76L-56.81 34.73L-57.02 34.79L-57.22 34.72L-57.43 34.69L-57.65 34.66L-57.8 34.5L-57.94 34.36L-58.12 34.3L-58.31 34.27L-58.5 34.3L-58.33 34.38L-58.15 34.47L-58.02 34.62L-57.85 34.71L-57.82 34.92L-57.8 35.12L-57.66 35.27L-57.5 35.4L-57.35 35.67L-57.21 35.94L-56.92 36.09L-56.8 36.4L-56.86 36.64L-56.95 36.87L-57.19 36.97L-57.32 37.19L-57.38 37.43L-57.36 37.68L-57.45 37.91L-57.6 38.1L-57.83 38.13L-58.05 38.17L-58.28 38.2L-58.5 38.13L-58.67 38.28L-58.82 38.45L-59.01 38.57L-59.2 38.7L-59.49 38.58L-59.81 38.58L-60.14 38.58L-60.39 38.36L-60.68 38.54L-60.85 38.83L-61.18 38.76L-61.5 38.9L-61.7 38.95L-61.9 38.93L-62.1 38.98L-62.3 39L-62.3 39.2L-62.24 39.39L-62.3 39.58L-62.46 39.71L-62.36 39.87L-62.27 40.03L-62.22 40.21L-62.2 40.4L-62.43 40.35L-62.66 40.4L-62.83 40.55L-63.05 40.63L-63.18 40.82L-63.37 40.96L-63.6 40.99L-63.8 41.1L-64.12 41.22L-64.46 41.17L-64.78 41.08L-65.1 41L-65.06 41.32L-64.88 41.58L-64.95 41.89L-64.9 42.2L-64.72 42.27L-64.53 42.27L-64.35 42.35L-64.26 42.53L-64.07 42.51L-63.9 42.58L-63.71 42.64L-63.6 42.8L-63.78 42.73L-63.96 42.77L-64.14 42.82L-64.3 42.9L-64.55 43.05L-64.71 43.3L-64.96 43.44L-65.2 43.6L-65.33 43.88L-65.31 44.2L-65.32 44.5L-65.3 44.8L-65.63 44.9L-65.84 45.18L-66.18 45.22L-66.5 45.1L-66.63 45.28L-66.61 45.49L-66.78 45.61L-66.87 45.81L-66.98 45.99L-67.18 46.06L-67.36 46.15L-67.5 46.3L-67.3 46.43L-67.06 46.48L-66.83 46.51L-66.61 46.59L-66.48 46.81L-66.23 46.88L-66.13 47.1L-66 47.3L-65.94 47.51L-66.02 47.71L-66.03 47.93L-65.9 48.1L-66.11 48.28L-66.37 48.39L-66.5 48.63L-66.62 48.88L-66.9 48.9L-67.19 48.92L-67.36 49.14L-67.6 49.3L-67.83 49.53L-68.08 49.72L-68.38 49.88L-68.5 50.2L-68.65 50.32L-68.8 50.44L-68.89 50.6L-68.93 50.79L-69.06 50.93L-69.12 51.12L-69.17 51.31L-69.1 51.5L-69.01 51.77L-68.87 52.01L-68.63 52.15L-68.4 52.3L-68.3 52.49L-68.35 52.7L-68.38 52.91L-68.3 53.1L-68.14 53.18L-67.96 53.2L-67.84 53.32L-67.7 53.43L-67.44 53.65L-67.2 53.9L-66.92 53.93L-66.67 54.06L-66.55 54.31L-66.33 54.49L-66.06 54.48L-65.81 54.58L-65.57 54.71L-65.3 54.7L-65.63 54.74L-65.95 54.66L-66.23 54.81L-66.5 55L-66.7 55.12L-66.93 55.08L-67.13 55.19L-67.34 55.26L-67.55 55.32L-67.78 55.28L-68 55.3L-68.2 55.4L-68.42 55.34L-68.63 55.45L-68.85 55.48L-69.05 55.37L-69.25 55.51L-69.49 55.5L-69.73 55.47L-69.9 55.3L-70.1 55.2L-70.31 55.1L-70.54 55.15L-70.76 55.09L-70.98 54.95L-71.23 54.99L-71.34 54.78L-71.5 54.6L-71.72 54.51L-71.95 54.46L-72.15 54.31L-72.4 54.32L-72.57 54.15L-72.78 54.03L-72.86 53.8L-73 53.6L-73.21 53.4L-73.42 53.22L-73.6 52.98L-73.61 52.69L-73.74 52.4L-74.01 52.26L-74.3 52.18L-74.6 52.2L-74.88 52.14L-75.1 51.95L-75.25 51.72L-75.34 51.45L-75.33 51.18L-75.4 50.93L-75.46 50.66L-75.4 50.4L-75.42 50.17L-75.5 49.96L-75.44 49.73L-75.31 49.54L-75.35 49.32L-75.31 49.1L-75.37 48.88L-75.5 48.7L-75.51 48.48L-75.45 48.26L-75.41 48.03L-75.25 47.87L-75.09 47.72L-74.96 47.55L-74.8 47.39L-74.7 47.2L-74.59 46.89L-74.51 46.56L-74.57 46.23L-74.6 45.9L-74.43 45.72L-74.35 45.49L-74.39 45.24L-74.32 45.01L-74.26 44.76L-74.09 44.58L-73.89 44.45L-73.7 44.3L-73.65 43.99L-73.43 43.77L-73.37 43.49L-73.3 43.2L-73.4 43.05L-73.42 42.86L-73.54 42.72L-73.61 42.56L-73.63 42.36L-73.63 42.17L-73.79 42.07L-73.9 41.9L-74.08 41.69L-74.17 41.42L-74.13 41.14L-74.1 40.87L-74.09 40.6L-74.02 40.34L-73.94 40.06L-73.7 39.9L-73.76 39.68L-73.87 39.49L-73.78 39.27L-73.83 39.04L-73.76 38.8L-73.57 38.66L-73.56 38.43L-73.6 38.2L-73.53 37.88L-73.52 37.56L-73.4 37.26L-73.2 37L-73.3 36.79L-73.24 36.57L-73.18 36.36L-73.15 36.15L-73.09 35.94L-72.97 35.74L-72.76 35.67L-72.6 35.5L-72.33 35.36L-72.17 35.11L-72.25 34.81L-72.13 34.53L-71.99 34.29L-71.91 34.03L-71.79 33.78L-71.8 33.5L-71.64 33.31L-71.47 33.13L-71.49 32.88L-71.47 32.63L-71.52 32.39L-71.63 32.17L-71.65 31.91L-71.5 31.7L-71.69 31.46L-71.7 31.16L-71.64 30.87L-71.79 30.6L-71.6 30.37L-71.44 30.1L-71.47 29.8L-71.5 29.5L-71.55 29.31L-71.54 29.11L-71.48 28.92L-71.4 28.74L-71.23 28.61L-71.18 28.4L-71.12 28.2L-71.2 28L-71.04 27.87L-70.99 27.66L-70.94 27.47L-70.86 27.29L-70.89 27.09L-70.91 26.89L-70.88 26.69L-70.8 26.5L-70.73 26.22L-70.72 25.93L-70.8 25.63L-71.04 25.44L-70.85 25.23L-70.64 25.04L-70.57 24.77L-70.5 24.5L-70.65 24.27L-70.7 24L-70.78 23.72L-70.67 23.45L-70.54 23.18L-70.27 23.06L-70.23 22.78L-70.2 22.5L-70.3 22.24L-70.21 21.98L-70.32 21.74L-70.39 21.49L-70.26 21.25L-70.09 21.04L-70.07 20.77L-70.1 20.5L-70.12 20.23L-70.06 19.97L-70.07 19.7L-70.17 19.45L-70.3 19.2L-70.27 18.93L-70.3 18.66L-70.3 18.4L-70.42 18.26L-70.58 18.17L-70.76 18.11L-70.95 18.13L-71.17 17.86L-71.4 17.6L-71.69 17.41L-71.92 17.16L-72 16.99L-72.16 16.9L-72.32 16.81L-72.5 16.8L-72.73 16.62L-72.93 16.4L-73.1 16.13L-73.4 16.03L-73.71 15.99L-74.02 16.01L-74.27 15.82L-74.5 15.6L-74.72 15.54L-74.94 15.46L-75.17 15.39L-75.34 15.23L-75.53 15.08L-75.74 14.96L-75.87 14.75L-75.9 14.5L-76.09 14.23L-76.2 13.92L-76.38 13.63L-76.4 13.3L-76.54 13.15L-76.59 12.95L-76.78 12.87L-76.93 12.73L-77.08 12.58L-77.09 12.38L-77.1 12.18L-77.2 12L-77.19 11.8L-77.3 11.63L-77.24 11.44L-77.28 11.25L-77.44 11.14L-77.6 11.03L-77.67 10.85L-77.8 10.7L-77.99 10.54L-78.11 10.33L-78.22 10.11L-78.22 9.86L-78.28 9.63L-78.33 9.39L-78.48 9.21L-78.6 9L-78.69 8.83L-78.74 8.64L-78.79 8.44L-78.96 8.32L-79.14 8.24L-79.25 8.06L-79.36 7.9L-79.4 7.7L-79.37 7.42L-79.48 7.16L-79.63 6.91L-79.9 6.8L-80.08 6.74L-80.26 6.67L-80.45 6.63L-80.65 6.63L-80.78 6.49L-80.95 6.39L-81.11 6.27L-81.2 6.1L-81.2 5.86L-81.08 5.65L-80.99 5.44L-81 5.2L-81.03 4.94L-81.14 4.7L-81.2 4.44L-81.3 4.2L-81.14 3.9L-80.82 3.77L-80.57 3.57L-80.3 3.4L-80.13 3.22L-80.09 2.98L-79.88 2.84L-79.8 2.6L-80.04 2.41L-80.29 2.23L-80.6 2.24L-80.9 2.2L-80.84 1.92L-80.77 1.65L-80.76 1.36L-80.9 1.1L-80.7 0.95L-80.52 0.78L-80.52 0.52L-80.4 0.3L-80.29 0.02L-80.26 -0.27L-80.09 -0.52L-80 -0.8L-79.73 -0.92L-79.43 -0.92L-79.21 -1.1L-79 -1.3L-79 -1.62L-78.84 -1.89L-78.6 -2.1L-78.5 -2.4L-78.42 -2.62L-78.32 -2.84L-78.19 -3.04L-78.06 -3.24L-77.86 -3.36L-77.68 -3.52L-77.44 -3.6L-77.3 -3.8L-77.37 -4.01L-77.35 -4.23L-77.51 -4.41L-77.52 -4.64L-77.5 -4.87L-77.57 -5.09L-77.49 -5.3L-77.4 -5.5L-77.55 -5.66L-77.75 -5.76L-77.76 -5.99L-77.89 -6.17L-77.79 -6.37L-77.7 -6.57L-77.79 -6.77L-77.8 -7L-77.96 -7.28L-78.06 -7.6L-78.19 -7.9L-78.3 -8.2L-78.59 -8.29L-78.76 -8.54L-78.92 -8.79L-79.2 -8.9L-79.46 -8.69L-79.78 -8.56L-80.06 -8.37L-80.4 -8.3L-80.35 -8.08L-80.31 -7.85L-80.25 -7.63L-80.3 -7.4L-80.51 -7.5L-80.75 -7.49L-80.97 -7.55L-81.2 -7.6L-81.45 -7.8L-81.69 -8.01L-82.02 -8.03L-82.3 -8.2L-82.56 -8.24L-82.82 -8.27L-83.04 -8.42L-83.3 -8.5L-83.43 -8.69L-83.58 -8.86L-83.67 -9.07L-83.7 -9.3L-83.89 -9.32L-84.08 -9.37L-84.21 -9.51L-84.31 -9.68L-84.49 -9.72L-84.66 -9.78L-84.82 -9.88L-85 -9.9L-85.18 -9.93L-85.35 -10.01L-85.51 -9.91L-85.7 -9.9L-85.72 -10.18L-85.79 -10.45L-85.77 -10.72L-85.8 -11L-85.99 -11.16L-86.03 -11.39L-86.07 -11.62L-86.21 -11.81L-86.44 -11.87L-86.65 -11.99L-86.72 -12.23L-86.9 -12.4L-87.06 -12.59L-87.2 -12.8L-87.37 -12.98L-87.6 -13.1L-87.83 -13.06L-88.07 -13.01L-88.25 -13.18L-88.5 -13.2L-88.71 -13.19L-88.91 -13.28L-89.12 -13.26L-89.32 -13.32L-89.55 -13.32L-89.75 -13.44L-89.94 -13.57L-90 -13.8L-90.19 -13.85L-90.38 -13.79L-90.58 -13.77L-90.74 -13.65L-90.84 -13.82L-91.04 -13.87L-91.2 -14.01L-91.4 -14L-91.67 -14.2L-91.97 -14.31L-92.21 -14.54L-92.5 -14.7L-92.73 -14.77L-92.96 -14.82L-93.13 -14.98L-93.26 -15.18L-93.39 -15.37L-93.59 -15.5L-93.76 -15.66L-93.8 -15.9L-93.97 -16.04L-94.17 -16.12L-94.39 -16.14L-94.6 -16.06L-94.81 -16.01L-94.98 -15.88L-95.19 -15.86L-95.4 -15.9L-95.59 -15.9L-95.74 -15.77L-95.92 -15.78L-96.09 -15.73L-96.26 -15.82L-96.45 -15.83L-96.62 -15.77L-96.8 -15.7L-97 -15.69L-97.16 -15.81L-97.35 -15.82L-97.51 -15.92L-97.68 -16L-97.84 -16.09L-98.04 -16.08L-98.2 -16.2L-98.32 -16.38L-98.5 -16.49L-98.7 -16.56L-98.88 -16.68L-99.1 -16.7L-99.27 -16.85L-99.49 -16.84L-99.7 -16.8L-99.94 -16.8L-100.18 -16.87L-100.43 -16.91L-100.59 -17.11L-100.77 -17.28L-101.01 -17.33L-101.24 -17.41L-101.4 -17.6L-101.59 -17.51L-101.79 -17.56L-101.97 -17.66L-102.13 -17.77L-102.32 -17.87L-102.4 -18.06L-102.6 -18.07L-102.8 -18.1L-102.97 -18.28L-103.22 -18.32L-103.38 -18.5L-103.44 -18.74L-103.67 -18.73L-103.88 -18.84L-104.1 -18.89L-104.3 -19L-104.49 -19.09L-104.64 -19.24L-104.86 -19.29L-104.99 -19.48L-105.17 -19.6L-105.25 -19.81L-105.29 -20.02L-105.4 -20.2L-105.37 -20.53L-105.23 -20.84L-105.26 -21.17L-105.3 -21.5L-105.54 -21.67L-105.66 -21.94L-105.65 -22.22L-105.7 -22.5L-105.88 -22.6L-106.04 -22.74L-106.07 -22.95L-106.15 -23.15L-106.28 -23.3L-106.45 -23.41L-106.66 -23.44L-106.8 -23.6L-106.95 -23.79L-107.19 -23.85L-107.36 -24.03L-107.6 -24.06L-107.71 -24.3L-107.95 -24.41L-107.92 -24.66L-108 -24.9L-108.17 -25.01L-108.33 -25.15L-108.54 -25.14L-108.74 -25.22L-108.83 -25.41L-109.01 -25.52L-109.11 -25.71L-109.3 -25.8L-109.44 -26.05L-109.47 -26.34L-109.73 -26.51L-109.8 -26.8L-109.9 -27.12L-110.06 -27.41L-110.35 -27.58L-110.6 -27.8L-110.71 -27.95L-110.85 -28.08L-111.02 -28.15L-111.2 -28.2L-111.31 -28.35L-111.46 -28.45L-111.62 -28.56L-111.8 -28.6L-111.98 -28.85L-112.1 -29.14L-112.36 -29.31L-112.5 -29.6L-112.6 -29.77L-112.74 -29.92L-112.87 -30.07L-112.91 -30.27L-112.98 -30.46L-113.01 -30.65L-113.05 -30.86L-113.2 -31L-113.39 -31.13L-113.63 -31.12L-113.8 -31.26L-114 -31.35L-114.16 -31.51L-114.36 -31.63L-114.57 -31.71L-114.8 -31.7L-114.92 -31.45L-114.94 -31.18L-114.85 -30.93L-114.7 -30.7L-114.66 -30.47L-114.51 -30.31L-114.39 -30.12L-114.2 -30L-114.1 -29.81L-113.98 -29.64L-113.79 -29.55L-113.63 -29.42L-113.5 -29.26L-113.36 -29.11L-113.23 -28.96L-113.1 -28.8L-112.83 -28.58L-112.76 -28.24L-112.68 -27.92L-112.6 -27.6L-112.49 -27.41L-112.4 -27.21L-112.37 -26.98L-112.24 -26.8L-112.04 -26.7L-111.89 -26.53L-111.77 -26.34L-111.6 -26.2L-111.36 -25.95L-111.28 -25.61L-111.11 -25.32L-111 -25L-110.93 -24.73L-110.81 -24.48L-110.65 -24.24L-110.4 -24.1L-110.19 -23.96L-110.02 -23.76L-109.98 -23.49L-109.8 -23.3L-109.64 -23.22L-109.5 -23.1L-109.82 -23.05L-110.1 -22.9L-110.29 -23.16L-110.37 -23.47L-110.62 -23.65L-110.9 -23.8L-111.07 -23.97L-111.28 -24.06L-111.51 -24.08L-111.74 -24.05L-111.83 -24.25L-111.96 -24.43L-112.07 -24.62L-112.2 -24.8L-112.22 -25.12L-112.09 -25.41L-112.2 -25.71L-112.3 -26L-112.47 -26.11L-112.58 -26.28L-112.77 -26.31L-112.97 -26.32L-113.15 -26.37L-113.31 -26.46L-113.5 -26.53L-113.6 -26.7L-113.86 -26.91L-113.94 -27.22L-114.2 -27.41L-114.5 -27.5L-114.34 -27.69L-114.27 -27.92L-114.32 -28.17L-114.2 -28.4L-114.33 -28.55L-114.38 -28.74L-114.45 -28.92L-114.56 -29.08L-114.75 -29.17L-114.84 -29.35L-115 -29.47L-115.2 -29.5L-115.35 -29.6L-115.46 -29.74L-115.64 -29.79L-115.76 -29.93L-115.7 -30.12L-115.75 -30.31L-115.83 -30.5L-116 -30.6L-116.12 -30.73L-116.24 -30.86L-116.35 -31.01L-116.36 -31.2L-116.46 -31.35L-116.61 -31.45L-116.64 -31.63L-116.7 -31.8L-116.83 -32.05L-116.81 -32.33L-117.03 -32.49L-117.2 -32.7L-117.14 -32.99L-117.28 -33.24L-117.44 -33.48L-117.7 -33.6L-117.92 -33.66L-118.12 -33.77L-118.28 -33.93L-118.5 -34L-118.76 -34.11L-118.96 -34.3L-119.21 -34.44L-119.5 -34.4L-119.78 -34.29L-120.07 -34.38L-120.34 -34.48L-120.6 -34.6L-120.67 -34.82L-120.74 -35.04L-120.69 -35.28L-120.8 -35.5L-120.98 -35.6L-121.18 -35.61L-121.32 -35.75L-121.42 -35.93L-121.6 -36.01L-121.76 -36.13L-121.88 -36.29L-121.9 -36.5L-121.9 -36.77L-122.03 -37.01L-122.16 -37.26L-122.4 -37.4L-122.4 -37.61L-122.5 -37.8L-122.78 -37.89L-123 -38.1L-123.22 -38.33L-123.53 -38.41L-123.65 -38.7L-123.7 -39L-123.75 -39.2L-123.74 -39.4L-123.74 -39.61L-123.8 -39.8L-123.96 -39.94L-124.09 -40.11L-124.2 -40.31L-124.4 -40.4L-124.43 -40.73L-124.24 -41L-124.27 -41.32L-124.1 -41.6L-124.17 -41.93L-124.11 -42.26L-124.33 -42.52L-124.5 -42.8L-124.28 -43.05L-124.14 -43.35L-124.12 -43.67L-124.1 -44L-123.99 -44.17L-123.93 -44.36L-123.85 -44.54L-123.81 -44.73L-123.96 -44.88L-124.02 -45.09L-124.04 -45.29L-124 -45.5L-123.9 -45.66L-123.84 -45.83L-123.93 -46.01L-123.9 -46.2L-123.94 -46.45L-123.94 -46.71L-123.98 -46.97L-124.1 -47.2L-124.18 -47.54L-124.24 -47.88L-124.44 -48.17L-124.7 -48.4L-124.52 -48.38L-124.36 -48.31L-124.23 -48.45L-124.05 -48.47L-123.75 -48.32L-123.5 -48.1L-123.32 -48.03L-123.13 -48.07L-123.02 -47.93L-122.86 -47.83L-122.82 -47.64L-122.71 -47.49L-122.58 -47.35L-122.4 -47.3L-122.6 -47.53L-122.7 -47.81L-122.77 -48.13L-122.6 -48.4L-122.59 -48.74L-122.8 -49L-122.96 -49.1L-123.08 -49.25L-123.18 -49.41L-123.2 -49.6L-123.37 -49.67L-123.54 -49.7L-123.72 -49.74L-123.89 -49.66L-124.04 -49.77L-124.22 -49.79L-124.32 -49.95L-124.5 -50L-124.81 -50.03L-125.09 -50.15L-125.39 -50.27L-125.6 -50.5L-125.73 -50.65L-125.86 -50.8L-126.04 -50.9L-126.21 -51L-126.4 -51.08L-126.61 -51.04L-126.8 -51.03L-127 -51L-127.28 -51.06L-127.53 -51.2L-127.68 -51.44L-127.8 -51.7L-127.94 -51.9L-128.16 -52.02L-128.19 -52.26L-128.2 -52.5L-128.38 -52.57L-128.55 -52.65L-128.62 -52.84L-128.8 -52.94L-128.95 -53.09L-129.15 -53.13L-129.27 -53.3L-129.3 -53.5L-129.58 -53.69L-129.88 -53.87L-130.05 -54.16L-130.3 -54.4L-130.21 -54.62L-130.24 -54.86L-130.33 -55.08L-130.4 -55.3L-130.58 -55.23L-130.76 -55.26L-130.91 -55.37L-131.08 -55.44L-131.22 -55.55L-131.3 -55.71L-131.48 -55.76L-131.6 -55.9L-131.73 -56.15L-131.89 -56.38L-132.15 -56.47L-132.4 -56.6L-132.52 -56.74L-132.65 -56.88L-132.8 -57.02L-132.99 -57.05L-133.19 -57.11L-133.31 -57.27L-133.38 -57.45L-133.5 -57.6L-133.68 -57.66L-133.83 -57.79L-134.02 -57.77L-134.21 -57.76L-134.34 -57.91L-134.53 -57.96L-134.67 -58.1L-134.7 -58.3L-135.01 -58.36L-135.29 -58.49L-135.59 -58.55L-135.9 -58.5L-136.13 -58.55L-136.35 -58.47L-136.57 -58.39L-136.8 -58.4L-136.97 -58.5L-137.17 -58.52L-137.37 -58.51L-137.54 -58.61L-137.7 -58.74L-137.91 -58.73L-138.09 -58.83L-138.2 -59L-138.45 -59.03L-138.65 -59.19L-138.81 -59.37L-138.88 -59.61L-139.12 -59.64L-139.34 -59.7L-139.59 -59.71L-139.8 -59.6L-140 -59.67L-140.21 -59.7L-140.36 -59.87L-140.56 -59.95L-140.75 -59.82L-140.98 -59.86L-141.19 -59.89L-141.4 -59.9L-141.6 -59.99L-141.82 -59.97L-142.05 -59.95L-142.22 -59.81L-142.36 -59.99L-142.57 -60.06L-142.79 -60.09L-143 -60.1L-143.26 -60.06L-143.44 -59.86L-143.69 -59.82L-143.94 -59.87L-144.17 -59.93L-144.4 -60.03L-144.62 -60.13L-144.8 -60.3L-144.99 -60.41L-145.17 -60.53L-145.31 -60.71L-145.53 -60.78L-145.75 -60.78L-145.96 -60.82L-146.19 -60.9L-146.4 -60.8L-146.64 -60.79L-146.87 -60.83L-147.12 -60.79L-147.34 -60.9L-147.6 -60.93L-147.82 -60.8L-148.02 -60.67L-148.2 -60.5L-148.34 -60.39L-148.46 -60.25L-148.44 -60.07L-148.5 -59.9L-148.82 -59.78L-149.12 -59.62L-149.28 -59.72L-149.46 -59.74L-149.64 -59.7L-149.8 -59.6L-149.99 -59.51L-150.2 -59.52L-150.36 -59.37L-150.44 -59.18L-150.63 -59.2L-150.82 -59.26L-151.01 -59.24L-151.2 -59.3L-151.28 -59.51L-151.39 -59.71L-151.6 -59.79L-151.8 -59.9L-151.67 -60.04L-151.57 -60.2L-151.49 -60.38L-151.42 -60.56L-151.21 -60.56L-151.05 -60.69L-150.98 -60.89L-150.8 -61L-150.99 -60.92L-151.18 -60.83L-151.32 -60.66L-151.53 -60.61L-151.73 -60.52L-151.95 -60.54L-152.14 -60.44L-152.3 -60.3L-152.43 -60.14L-152.59 -60L-152.79 -59.99L-153 -59.98L-153.1 -59.82L-153.23 -59.67L-153.32 -59.49L-153.5 -59.4L-153.72 -59.25L-153.8 -59L-153.94 -58.77L-154.2 -58.7L-154.26 -58.52L-154.35 -58.35L-154.49 -58.2L-154.5 -58L-154.72 -58.04L-154.94 -58.01L-155.13 -57.87L-155.37 -57.88L-155.58 -57.76L-155.82 -57.77L-155.97 -57.6L-156.1 -57.4L-156.33 -57.39L-156.52 -57.25L-156.73 -57.16L-156.95 -57.11L-157.11 -56.95L-157.22 -56.75L-157.37 -56.56L-157.6 -56.5L-157.92 -56.38L-158.26 -56.31L-158.51 -56.08L-158.8 -55.9L-159.04 -55.91L-159.27 -55.84L-159.5 -55.89L-159.73 -55.92L-159.96 -55.87L-160.16 -55.72L-160.31 -55.54L-160.5 -55.4L-160.71 -55.38L-160.87 -55.26L-161.07 -55.25L-161.27 -55.27L-161.47 -55.29L-161.66 -55.2L-161.85 -55.13L-162 -55L-162.32 -54.9L-162.64 -54.8L-162.97 -54.83L-163.3 -54.8L-163.48 -54.85L-163.67 -54.87L-163.86 -54.93L-164.05 -54.88L-164.22 -54.77L-164.42 -54.78L-164.6 -54.67L-164.7 -54.5L-164.55 -54.67L-164.35 -54.78L-164.12 -54.8L-163.9 -54.8L-163.67 -54.88L-163.44 -54.79L-163.27 -54.94L-163.1 -55.1L-162.98 -55.28L-162.77 -55.36L-162.61 -55.5L-162.59 -55.73L-162.41 -55.83L-162.21 -55.86L-162 -55.87L-161.8 -55.9L-161.59 -56.03L-161.37 -56.12L-161.12 -56.07L-160.89 -56.16L-160.65 -56.2L-160.4 -56.23L-160.25 -56.44L-160 -56.5L-159.77 -56.5L-159.54 -56.48L-159.31 -56.51L-159.12 -56.66L-159.03 -56.88L-158.83 -57L-158.67 -57.15L-158.5 -57.3L-158.39 -57.48L-158.19 -57.53L-158.13 -57.72L-158.11 -57.91L-157.97 -58.04L-157.87 -58.2L-157.68 -58.22L-157.5 -58.3L-157.69 -58.33L-157.82 -58.47L-158 -58.47L-158.17 -58.38L-158.49 -58.52L-158.7 -58.8L-158.95 -58.79L-159.21 -58.84L-159.47 -58.86L-159.67 -59.05L-159.93 -58.98L-160.09 -58.76L-160.35 -58.8L-160.6 -58.7L-160.77 -58.61L-160.91 -58.47L-161.1 -58.42L-161.29 -58.47L-161.45 -58.57L-161.63 -58.61L-161.82 -58.6L-162 -58.6L-162.13 -58.84L-162.1 -59.12L-162.09 -59.4L-161.9 -59.6L-162.11 -59.62L-162.32 -59.62L-162.53 -59.57L-162.73 -59.66L-162.89 -59.81L-163.07 -59.93L-163.29 -59.96L-163.5 -60L-163.69 -59.98L-163.88 -60.05L-164.07 -60.06L-164.26 -60.07L-164.38 -60.21L-164.52 -60.34L-164.66 -60.47L-164.8 -60.6L-164.91 -60.83L-165.13 -60.95L-165.24 -61.16L-165.3 -61.4L-165.46 -61.58L-165.7 -61.64L-165.83 -61.84L-166 -62L-165.69 -62.04L-165.48 -62.28L-165.43 -62.59L-165.2 -62.8L-165.02 -62.92L-164.91 -63.11L-164.7 -63.13L-164.5 -63.2L-164.24 -63.19L-164 -63.3L-163.74 -63.39L-163.59 -63.62L-163.34 -63.57L-163.09 -63.6L-162.85 -63.53L-162.6 -63.5L-162.4 -63.61L-162.17 -63.59L-161.96 -63.5L-161.74 -63.5L-161.51 -63.55L-161.35 -63.71L-161.12 -63.63L-160.9 -63.7L-160.98 -63.87L-161.01 -64.05L-161.06 -64.22L-161.1 -64.4L-161.32 -64.37L-161.49 -64.23L-161.69 -64.31L-161.91 -64.31L-162.07 -64.46L-162.27 -64.55L-162.48 -64.5L-162.7 -64.5L-162.9 -64.55L-163.09 -64.62L-163.27 -64.74L-163.49 -64.74L-163.68 -64.66L-163.89 -64.64L-164.1 -64.66L-164.3 -64.6L-164.54 -64.59L-164.78 -64.63L-165.02 -64.64L-165.25 -64.73L-165.44 -64.54L-165.7 -64.5L-165.96 -64.49L-166.2 -64.6L-166.32 -64.76L-166.44 -64.92L-166.63 -64.98L-166.8 -65.1L-167.14 -65.14L-167.47 -65.17L-167.73 -65.39L-168 -65.6ZM-120 -76.2L-119.59 -76.21L-119.4 -76.58L-119.04 -76.71L-118.89 -77.07L-118.49 -76.95L-118.34 -76.56L-117.98 -76.38L-117.6 -76.5L-117.38 -76.66L-117.23 -76.88L-116.93 -76.92L-116.8 -77.2L-117.14 -77.12L-117.49 -77.15L-117.82 -77.22L-118.15 -77.35L-118.51 -77.17L-118.84 -76.95L-119.23 -77.08L-119.5 -77.4L-119.89 -77.66L-120.34 -77.52L-120.64 -77.21L-121.04 -77.05L-121.52 -77.07L-121.78 -76.67L-122.17 -76.88L-122.6 -76.8L-122.29 -76.65L-121.96 -76.74L-121.78 -76.73L-121.61 -76.65L-121.62 -76.45L-121.5 -76.3L-121.26 -76.33L-121.12 -76.54L-120.92 -76.63L-120.72 -76.72L-120.53 -76.59L-120.4 -76.41L-120.26 -76.18L-120 -76.2ZM-103 -77.9L-102.65 -77.66L-102.41 -77.3L-101.97 -77.31L-101.6 -77.08L-101.47 -77.55L-101.15 -77.92L-100.67 -77.94L-100.2 -77.9L-100.07 -78.1L-99.88 -78.24L-99.76 -78.46L-99.5 -78.5L-99.74 -78.79L-99.72 -79.16L-100.07 -79.16L-100.41 -79.27L-100.63 -79.05L-100.88 -78.87L-101.21 -78.98L-101.5 -78.8L-101.81 -78.73L-102.12 -78.7L-102.45 -78.8L-102.75 -78.63L-103.05 -78.52L-103.37 -78.48L-103.68 -78.52L-104 -78.5L-103.66 -78.45L-103.32 -78.51L-103.11 -78.46L-102.97 -78.3L-102.96 -78.1L-103 -77.9ZM-97 -77.6L-96.73 -77.65L-96.51 -77.47L-96.25 -77.57L-96.17 -77.84L-95.95 -77.84L-95.73 -77.84L-95.51 -77.86L-95.3 -77.9L-95.36 -78.16L-95.52 -78.38L-95.73 -78.56L-96 -78.6L-96.25 -78.53L-96.33 -78.29L-96.56 -78.31L-96.78 -78.35L-97.01 -78.28L-97.2 -78.13L-97.38 -78.3L-97.6 -78.4L-97.29 -78.39L-97.07 -78.17L-97.07 -77.88L-97 -77.6ZM-80.5 -73L-80.07 -73.03L-79.69 -72.83L-79.44 -72.49L-79.07 -72.27L-78.73 -72.52L-78.32 -72.62L-77.91 -72.86L-77.5 -72.6L-77.34 -72.79L-77.09 -72.78L-77.19 -73.01L-77.07 -73.23L-76.83 -73.21L-76.68 -73.38L-76.47 -73.32L-76.3 -73.2L-76.55 -73.07L-76.81 -73.16L-77.08 -73.12L-77.29 -72.97L-77.47 -73.22L-77.79 -73.19L-77.98 -73.41L-78 -73.7L-78.34 -73.84L-78.66 -74.03L-79.08 -74.03L-79.28 -74.41L-79.61 -74.18L-79.75 -73.8L-80.18 -73.9L-80.5 -73.6L-80.37 -73.3L-80.5 -73ZM-77 -67.5L-76.84 -67.37L-76.64 -67.37L-76.43 -67.39L-76.26 -67.27L-76.07 -67.13L-75.87 -67.25L-75.71 -67.39L-75.5 -67.4L-75.67 -67.56L-75.64 -67.79L-75.75 -67.98L-75.7 -68.2L-75.91 -68.26L-76.1 -68.14L-76.22 -68.31L-76.4 -68.41L-76.55 -68.29L-76.73 -68.23L-76.91 -68.17L-77.1 -68.2L-77.07 -68L-76.91 -67.87L-76.98 -67.69L-77 -67.5ZM-80.6 -61.8L-80.34 -61.66L-80.05 -61.65L-79.79 -61.51L-79.5 -61.5L-79.63 -61.65L-79.68 -61.84L-79.73 -62.02L-79.8 -62.2L-79.99 -62.05L-80.12 -61.84L-80.36 -61.85L-80.6 -61.8ZM-79.7 -56L-79 -56.2L-79.2 -56.8ZM-78 -63.1L-77 -63L-77.5 -63.5ZM-65.5 -61.3L-64.5 -61.5L-65 -61.8ZM-73.2 -78.4L-72.97 -78.3L-72.76 -78.17L-72.51 -78.07L-72.38 -77.84L-72.17 -77.68L-72.03 -77.45L-71.76 -77.45L-71.5 -77.4L-71.16 -77.16L-70.74 -77.17L-70.35 -77.05L-70.07 -76.75L-69.72 -76.5L-69.3 -76.53L-68.89 -76.47L-68.5 -76.6L-68.17 -76.64L-67.84 -76.65L-67.53 -76.77L-67.19 -76.74L-66.88 -76.57L-66.52 -76.64L-66.21 -76.48L-66 -76.2L-65.51 -76.39L-64.99 -76.47L-64.48 -76.38L-64 -76.16L-63.48 -76.08L-62.98 -75.94L-62.56 -76.3L-62 -76.3L-61.59 -76.24L-61.27 -75.97L-60.85 -75.91L-60.5 -76.13L-60.12 -76.28L-59.72 -76.17L-59.35 -76.08L-59 -75.9L-58.74 -75.84L-58.58 -75.62L-58.31 -75.58L-58.13 -75.38L-57.9 -75.26L-57.67 -75.16L-57.53 -74.93L-57.3 -74.8L-57.1 -74.72L-57 -74.52L-56.95 -74.3L-56.77 -74.17L-56.57 -74.06L-56.34 -74.07L-56.26 -73.86L-56.1 -73.7L-55.87 -73.48L-55.79 -73.18L-55.58 -72.93L-55.6 -72.6L-55.41 -72.55L-55.27 -72.43L-55.24 -72.24L-55.11 -72.1L-55.06 -71.93L-55.03 -71.75L-55.05 -71.57L-55 -71.4L-54.93 -71.08L-54.82 -70.78L-54.61 -70.52L-54.3 -70.4L-54 -70.47L-53.7 -70.49L-53.43 -70.35L-53.14 -70.26L-52.84 -70.26L-52.57 -70.12L-52.28 -70.09L-52 -70L-51.78 -69.83L-51.55 -69.66L-51.29 -69.53L-51 -69.5L-50.95 -69.25L-50.84 -69.01L-50.82 -68.76L-50.8 -68.5L-50.98 -68.29L-51.26 -68.25L-51.54 -68.25L-51.77 -68.1L-52.04 -68.17L-52.3 -68.08L-52.54 -67.97L-52.8 -67.9L-53.1 -67.81L-53.31 -67.58L-53.38 -67.28L-53.5 -67L-53.43 -66.72L-53.55 -66.47L-53.42 -66.24L-53.3 -66L-53.1 -65.99L-52.94 -65.89L-52.78 -65.76L-52.74 -65.56L-52.68 -65.38L-52.53 -65.26L-52.33 -65.24L-52.2 -65.1L-51.97 -64.96L-51.82 -64.72L-51.75 -64.46L-51.7 -64.2L-51.57 -64.05L-51.43 -63.92L-51.23 -63.96L-51.04 -63.88L-51.04 -63.68L-50.9 -63.53L-50.76 -63.4L-50.6 -63.3L-50.42 -63.24L-50.25 -63.17L-50.09 -63.08L-49.97 -62.93L-49.8 -62.83L-49.71 -62.66L-49.71 -62.47L-49.6 -62.3L-49.54 -62.11L-49.49 -61.91L-49.39 -61.73L-49.2 -61.64L-49 -61.61L-48.82 -61.52L-48.7 -61.36L-48.5 -61.3L-48.26 -61.35L-48.04 -61.25L-47.87 -61.09L-47.68 -60.95L-47.46 -60.88L-47.26 -60.78L-47.03 -60.82L-46.8 -60.8L-46.62 -60.73L-46.44 -60.78L-46.26 -60.74L-46.13 -60.59L-45.99 -60.48L-45.86 -60.36L-45.68 -60.33L-45.5 -60.3L-45.33 -60.21L-45.2 -60.06L-45.01 -60.04L-44.82 -60.03L-44.64 -60.1L-44.45 -60.05L-44.3 -59.91L-44.1 -59.9L-43.84 -60L-43.57 -59.94L-43.35 -60.11L-43.1 -60.2L-42.99 -60.46L-42.89 -60.72L-42.66 -60.89L-42.4 -61L-42.39 -61.26L-42.35 -61.51L-42.3 -61.76L-42.2 -62L-42.04 -62.16L-42.02 -62.37L-41.85 -62.49L-41.65 -62.56L-41.57 -62.74L-41.42 -62.87L-41.34 -63.06L-41.2 -63.2L-40.95 -63.43L-40.79 -63.74L-40.53 -63.98L-40.4 -64.3L-40.22 -64.56L-40.02 -64.82L-39.8 -65.07L-39.5 -65.2L-39.22 -65.22L-39.01 -65.41L-38.75 -65.51L-38.56 -65.71L-38.3 -65.62L-38.02 -65.65L-37.78 -65.8L-37.5 -65.8L-37.26 -65.86L-37.02 -65.88L-36.8 -66.01L-36.64 -66.2L-36.4 -66.2L-36.17 -66.28L-35.93 -66.27L-35.7 -66.2L-35.5 -66.12L-35.29 -66.1L-35.09 -66.17L-34.92 -66.3L-34.74 -66.38L-34.54 -66.41L-34.35 -66.46L-34.2 -66.6L-33.97 -66.76L-33.79 -66.97L-33.64 -67.21L-33.62 -67.5L-33.36 -67.58L-33.14 -67.74L-32.87 -67.82L-32.6 -67.8L-32.25 -67.9L-32.03 -68.18L-31.68 -68.21L-31.35 -68.32L-31.01 -68.34L-30.67 -68.41L-30.34 -68.34L-30 -68.3L-29.7 -68.14L-29.39 -68.03L-29.05 -68.05L-28.73 -68.17L-28.41 -68.15L-28.09 -68.22L-27.84 -68.45L-27.5 -68.5L-27.2 -68.44L-26.9 -68.42L-26.6 -68.46L-26.31 -68.56L-26.07 -68.77L-25.91 -69.05L-25.61 -69.16L-25.3 -69.2L-25.17 -69.4L-24.99 -69.57L-24.77 -69.7L-24.52 -69.66L-24.43 -69.88L-24.22 -70.01L-24.02 -70.12L-23.8 -70.2L-23.61 -70.27L-23.41 -70.25L-23.21 -70.18L-23.01 -70.26L-22.83 -70.33L-22.64 -70.41L-22.48 -70.51L-22.3 -70.6L-22.46 -70.79L-22.59 -71L-22.6 -71.25L-22.6 -71.5L-22.43 -71.59L-22.3 -71.74L-22.22 -71.93L-22.04 -72.03L-22.01 -72.23L-21.93 -72.41L-21.9 -72.62L-22 -72.8L-21.93 -72.96L-21.83 -73.11L-21.83 -73.3L-21.9 -73.46L-21.65 -73.69L-21.5 -74L-21.27 -73.91L-21.02 -73.91L-20.77 -73.92L-20.57 -74.07L-20.41 -74.25L-20.23 -74.4L-19.99 -74.44L-19.8 -74.6L-19.85 -74.93L-19.75 -75.25L-19.5 -75.48L-19.4 -75.8L-19.29 -76.1L-19.02 -76.28L-18.92 -76.58L-18.7 -76.8L-18.79 -77.12L-18.95 -77.42L-19.26 -77.56L-19.5 -77.8L-19.59 -78.11L-19.68 -78.42L-19.58 -78.73L-19.4 -79L-19.16 -79.14L-18.95 -79.32L-18.7 -79.43L-18.42 -79.44L-18.29 -79.7L-18.05 -79.87L-17.76 -79.88L-17.5 -80L-17.17 -80.39L-16.81 -80.76L-16.49 -81.16L-16.04 -81.42L-15.56 -81.13L-15.01 -81.23L-14.5 -81.36L-14 -81.5L-16.06 -81.6L-18.05 -82.11L-20.1 -82.52L-21.86 -83.64L-23.86 -83.11L-25.92 -83.05L-27.95 -83.36L-30 -83.5L-32.49 -84.08L-35 -84.55L-37.53 -84.93L-40 -85.6L-42.57 -85.43L-45.11 -85.09L-47.83 -85.14L-50 -83.5L-51.41 -82.7L-52.81 -81.88L-54.4 -82.24L-55.97 -82.63L-57.41 -81.91L-58.93 -81.37L-60.54 -81.57L-62 -82.3L-62.58 -82.33L-63.06 -81.99L-63.61 -82.09L-64.16 -82.14L-64.66 -81.93L-65.08 -81.58L-65.54 -81.29L-66 -81L-66.55 -80.63L-67.18 -80.47L-67.81 -80.3L-68.46 -80.25L-69.11 -80.46L-69.79 -80.35L-70.34 -79.96L-71 -79.8L-71.28 -79.55L-71.65 -79.54L-71.83 -79.23L-71.98 -78.92L-72.32 -78.9L-72.64 -78.78L-72.87 -78.52L-73.2 -78.4ZM-80 -73.7L-79.91 -73.3L-79.59 -73.05L-79.17 -72.92L-79.02 -72.51L-78.71 -72.12L-78.2 -72.14L-77.79 -72.35L-77.5 -72.7L-77.13 -72.45L-76.91 -72.05L-76.46 -71.97L-76.04 -72.12L-75.71 -71.8L-75.27 -71.94L-74.92 -71.66L-74.5 -71.8L-74.11 -71.63L-73.86 -71.28L-73.49 -71.11L-73.13 -70.91L-72.71 -70.94L-72.32 -71.12L-71.89 -71.24L-71.5 -71L-71.17 -70.96L-70.87 -70.8L-70.63 -70.54L-70.28 -70.51L-70.09 -70.17L-69.72 -70.03L-69.4 -70.29L-69 -70.2L-68.78 -70.07L-68.54 -69.99L-68.45 -69.76L-68.39 -69.52L-68.19 -69.4L-67.96 -69.37L-67.71 -69.46L-67.5 -69.3L-67.29 -69.23L-67.12 -69.1L-66.88 -69.1L-66.72 -68.93L-66.73 -68.71L-66.68 -68.5L-66.54 -68.32L-66.5 -68.1L-66.28 -67.78L-65.89 -67.79L-65.57 -67.58L-65.21 -67.7L-64.82 -67.61L-64.45 -67.72L-64.31 -67.35L-64 -67.1L-63.84 -67.43L-63.48 -67.45L-63.25 -67.21L-62.92 -67.16L-62.73 -66.94L-62.57 -66.69L-62.26 -66.78L-62 -66.6L-61.97 -66.4L-61.96 -66.19L-62.05 -65.98L-62.28 -65.93L-62.42 -65.78L-62.62 -65.72L-62.82 -65.7L-63 -65.8L-63.21 -65.7L-63.28 -65.48L-63.49 -65.52L-63.7 -65.45L-63.88 -65.32L-64.1 -65.37L-64.27 -65.26L-64.4 -65.1L-64.46 -64.83L-64.72 -64.71L-64.84 -64.49L-65 -64.3L-65 -64.01L-64.96 -63.73L-64.83 -63.43L-64.5 -63.4L-64.67 -63.16L-64.84 -62.94L-65.15 -62.98L-65.4 -62.8L-65.62 -62.77L-65.82 -62.88L-66.01 -62.77L-66.22 -62.73L-66.09 -62.5L-66.24 -62.28L-66.41 -62.13L-66.6 -62L-66.82 -62.05L-66.88 -62.28L-67.1 -62.27L-67.25 -62.42L-67.45 -62.34L-67.66 -62.36L-67.9 -62.38L-68 -62.6L-68.24 -62.76L-68.39 -63.01L-68.63 -63.16L-68.89 -63.28L-69.23 -63.25L-69.49 -63.46L-69.7 -63.21L-70 -63.1L-70.21 -63.13L-70.41 -63.2L-70.62 -63.12L-70.84 -63.18L-70.96 -63.38L-71.06 -63.58L-71.31 -63.53L-71.5 -63.7L-71.65 -63.87L-71.78 -64.06L-72.01 -63.96L-72.23 -64.09L-72.44 -64.14L-72.65 -64.16L-72.87 -64.21L-73 -64.4L-73.29 -64.48L-73.5 -64.27L-73.78 -64.19L-74 -64.39L-74.2 -64.61L-74.5 -64.6L-74.76 -64.53L-75 -64.4L-75.31 -64.38L-75.56 -64.19L-75.88 -64.13L-76.15 -64.31L-76.43 -64.23L-76.72 -64.28L-77.01 -64.32L-77.3 -64.3L-77.56 -64.5L-77.88 -64.4L-77.91 -64.73L-78.2 -64.9L-78.04 -65.06L-78.08 -65.29L-77.93 -65.42L-77.78 -65.57L-77.62 -65.75L-77.37 -65.74L-77.13 -65.71L-77 -65.5L-76.61 -65.5L-76.25 -65.67L-75.8 -65.67L-75.6 -65.27L-75.23 -65.28L-74.91 -65.47L-74.56 -65.69L-74.2 -65.5L-74 -65.59L-73.96 -65.81L-73.92 -66.03L-74.09 -66.17L-73.99 -66.32L-73.85 -66.43L-73.67 -66.42L-73.5 -66.5L-73.37 -66.77L-73.53 -67.03L-73.5 -67.31L-73.3 -67.5L-73.62 -67.57L-73.9 -67.74L-74.17 -67.56L-74.44 -67.37L-74.79 -67.45L-75.1 -67.26L-75.44 -67.43L-75.5 -67.8L-75.72 -67.99L-75.99 -67.89L-76.23 -67.98L-76.49 -67.95L-76.5 -68.22L-76.47 -68.48L-76.67 -68.67L-76.8 -68.9L-76.84 -69.18L-76.99 -69.42L-77.23 -69.57L-77.52 -69.57L-77.73 -69.75L-78 -69.73L-78.22 -69.56L-78.5 -69.6L-78.76 -69.68L-79.03 -69.69L-79.18 -69.94L-79.45 -70.03L-79.75 -69.97L-79.98 -70.17L-80.21 -69.99L-80.5 -70L-80.82 -70L-81.01 -70.26L-81.24 -70.1L-81.5 -69.97L-81.68 -69.72L-81.99 -69.77L-82.24 -69.87L-82.5 -69.9L-82.89 -69.97L-83.06 -70.32L-83.37 -70.06L-83.75 -70.21L-84.1 -70.22L-84.44 -70.32L-84.72 -70.11L-85 -69.9L-85.3 -70.09L-85.52 -70.37L-85.87 -70.29L-86.21 -70.38L-86.52 -70.6L-86.9 -70.59L-87.08 -70.2L-87.5 -70.2L-87.66 -70.38L-87.7 -70.62L-87.97 -70.61L-88.12 -70.84L-88.39 -70.88L-88.54 -71.11L-88.81 -71.1L-89 -70.9L-89.19 -71.15L-89.49 -71.09L-89.42 -71.37L-89.6 -71.6L-89.38 -71.81L-89.46 -72.11L-89.39 -72.37L-89.47 -72.63L-89.36 -72.93L-89.09 -73.08L-88.77 -73.21L-88.5 -73L-88.27 -73.23L-88.22 -73.56L-87.9 -73.59L-87.62 -73.73L-87.36 -73.51L-87.05 -73.65L-86.79 -73.52L-86.5 -73.5L-86.13 -73.35L-85.77 -73.52L-85.58 -73.84L-85.29 -74.07L-84.93 -74.21L-84.54 -74.24L-84.13 -74.11L-84 -73.7L-83.8 -73.49L-83.51 -73.52L-83.23 -73.5L-82.99 -73.63L-82.73 -73.59L-82.5 -73.73L-82.26 -73.81L-82 -73.8L-81.75 -73.73L-81.49 -73.69L-81.24 -73.63L-81.01 -73.51L-80.74 -73.37L-80.5 -73.55L-80.22 -73.53L-80 -73.7ZM-117.5 -69L-117.24 -68.77L-117.19 -68.42L-116.86 -68.46L-116.53 -68.41L-116.27 -68.58L-115.97 -68.56L-115.64 -68.6L-115.5 -68.9L-115.23 -68.98L-114.96 -68.93L-114.68 -68.89L-114.43 -69.04L-114.16 -68.87L-113.86 -68.95L-113.6 -68.79L-113.5 -68.5L-113.07 -68.68L-112.63 -68.51L-112.69 -69.01L-112.28 -69.31L-111.89 -69.2L-111.48 -69.24L-111.05 -69.06L-111 -68.6L-110.67 -68.61L-110.37 -68.49L-110.06 -68.63L-109.73 -68.61L-109.33 -68.64L-109.03 -68.38L-108.88 -68.76L-108.5 -68.9L-108.1 -69.01L-107.98 -69.41L-107.68 -69.64L-107.34 -69.76L-106.94 -69.83L-106.53 -69.8L-106.21 -69.55L-106 -69.2L-105.81 -69.14L-105.62 -69.14L-105.39 -69.17L-105.26 -68.98L-105.05 -68.94L-104.87 -69.06L-104.65 -69.06L-104.5 -68.9L-104.2 -68.85L-103.95 -69.02L-103.63 -68.99L-103.42 -69.22L-103.17 -69.03L-102.86 -69.14L-102.6 -69.31L-102.3 -69.2L-102.03 -69.32L-102.01 -69.61L-101.75 -69.73L-101.5 -69.6L-101.72 -69.83L-101.89 -70.09L-102.17 -70.29L-102.5 -70.2L-102.41 -69.94L-102.14 -69.89L-101.9 -69.83L-101.66 -69.91L-101.55 -70.11L-101.35 -70.22L-101.14 -70.32L-101 -70.5L-100.83 -70.78L-100.9 -71.1L-101.19 -71.13L-101.32 -71.38L-101.53 -71.55L-101.55 -71.83L-101.77 -71.65L-101.96 -71.44L-102.25 -71.45L-102.5 -71.6L-102.79 -71.63L-102.97 -71.86L-103.24 -71.88L-103.47 -72.03L-103.76 -71.93L-103.99 -72.13L-104.23 -72.28L-104.5 -72.3L-104.74 -72.55L-104.83 -72.89L-104.99 -73L-105.14 -73.13L-105.34 -73.13L-105.5 -73L-105.7 -73.19L-105.96 -73.11L-106.1 -73.31L-106.1 -73.56L-106.31 -73.6L-106.51 -73.54L-106.75 -73.59L-106.9 -73.4L-107.11 -73.28L-107.34 -73.19L-107.58 -73.29L-107.72 -73.5L-107.97 -73.42L-108.04 -73.16L-108.27 -73.24L-108.5 -73.2L-108.44 -72.89L-108.3 -72.6L-108.35 -72.32L-108.61 -72.19L-108.87 -72.13L-109.13 -72.13L-109.2 -72.42L-109.48 -72.52L-109.74 -72.42L-110 -72.5L-110.1 -72.71L-110.31 -72.83L-110.46 -73L-110.66 -73.12L-110.82 -72.91L-111.08 -72.97L-111.24 -72.76L-111.5 -72.8L-111.75 -72.97L-112.02 -72.85L-112.32 -72.89L-112.51 -72.66L-112.77 -72.67L-113 -72.79L-113.24 -72.87L-113.5 -72.9L-113.7 -73.02L-113.94 -72.98L-114.16 -72.95L-114.36 -72.84L-114.59 -72.9L-114.66 -73.14L-114.72 -73.36L-114.9 -73.5L-115.1 -73.29L-115.35 -73.15L-115.64 -73.11L-115.92 -73.09L-116.2 -73.14L-116.48 -73.07L-116.74 -73.2L-117 -73.3L-117.31 -73.14L-117.65 -73.09L-117.89 -73.39L-118.27 -73.38L-118.38 -73.05L-118.57 -72.76L-118.96 -72.82L-119.2 -72.5L-119.18 -72.18L-119.05 -71.89L-118.75 -71.8L-118.5 -71.6L-118.22 -71.54L-118.03 -71.32L-117.8 -71.11L-117.5 -71.2L-117.74 -71.36L-117.98 -71.21L-118.15 -71.41L-118.41 -71.42L-118.6 -71.28L-118.72 -71.08L-118.88 -70.9L-119 -70.7L-118.75 -70.67L-118.51 -70.62L-118.24 -70.7L-118.13 -70.95L-117.93 -70.79L-117.9 -70.54L-117.7 -70.43L-117.5 -70.3L-117.38 -70.5L-117.15 -70.53L-116.94 -70.53L-116.73 -70.5L-116.55 -70.4L-116.33 -70.43L-116.1 -70.41L-116 -70.2L-115.65 -70.41L-115.26 -70.53L-114.86 -70.59L-114.5 -70.79L-114.05 -70.89L-113.6 -70.88L-113.28 -70.56L-113 -70.2L-113.25 -69.97L-113.58 -69.9L-113.93 -69.97L-114.21 -69.76L-114.64 -69.8L-114.84 -70.18L-115.16 -69.97L-115.5 -69.8L-115.7 -69.57L-115.88 -69.33L-116.23 -69.33L-116.41 -69.03L-116.64 -69.25L-116.96 -69.26L-117.27 -69.28L-117.5 -69.5L-117.54 -69.25L-117.5 -69ZM-125.2 -71.9L-125.12 -72.16L-124.92 -72.35L-125.02 -72.64L-124.85 -72.89L-124.9 -73.24L-124.61 -73.45L-124.31 -73.51L-124 -73.5L-123.67 -73.82L-123.25 -74.01L-123.03 -74.41L-122.73 -74.75L-122.3 -74.58L-121.85 -74.58L-121.37 -74.59L-121 -74.3L-120.47 -74.39L-120.21 -74.86L-119.7 -75.11L-119.23 -74.8L-118.75 -74.8L-118.26 -74.81L-117.78 -74.63L-117.5 -74.2L-117.15 -74.15L-116.86 -73.94L-116.47 -74.01L-116.32 -74.37L-116.06 -74.19L-115.78 -74.06L-115.68 -73.76L-115.5 -73.5L-115.68 -73.78L-116.01 -73.82L-116.26 -73.62L-116.57 -73.6L-116.81 -73.46L-117.02 -73.27L-117.11 -73.01L-117.3 -72.8L-117.68 -72.96L-118 -72.71L-118 -72.31L-118.34 -72.09L-118.63 -71.96L-118.89 -71.77L-119.16 -71.55L-119.5 -71.6L-119.79 -71.6L-120.02 -71.77L-120.33 -71.78L-120.51 -71.54L-120.8 -71.49L-121.05 -71.61L-121.23 -71.4L-121.5 -71.3L-121.78 -71.24L-122.02 -71.38L-122.3 -71.35L-122.53 -71.5L-122.81 -71.5L-123.03 -71.35L-123.25 -71.2L-123.5 -71.1L-123.75 -70.93L-124.02 -71.08L-124.27 -71.18L-124.53 -71.11L-124.68 -71.33L-124.88 -71.49L-125.03 -71.71L-125.2 -71.9ZM-90 -76.5L-89.48 -76.45L-88.96 -76.55L-88.5 -76.8L-87.98 -76.87L-87.39 -76.94L-87.02 -76.48L-86.55 -76.16L-86 -76.3L-85.64 -75.8L-85.26 -75.31L-84.63 -75.38L-84.03 -75.22L-83.41 -75.21L-82.79 -75.24L-82.26 -75.61L-82 -76.2L-81.74 -75.88L-81.33 -75.84L-80.94 -75.98L-80.56 -75.82L-80.43 -76.23L-80.03 -76.37L-79.62 -76.35L-79.3 -76.6L-79.16 -76.73L-79.11 -76.91L-78.96 -77.02L-78.81 -77.12L-78.67 -77.26L-78.57 -77.41L-78.39 -77.49L-78.2 -77.5L-77.92 -77.48L-77.76 -77.72L-77.52 -77.64L-77.27 -77.66L-77.22 -77.93L-77 -78.09L-76.75 -78.17L-76.5 -78.2L-76.03 -78.11L-75.71 -78.47L-75.74 -78.91L-75.46 -79.26L-75.07 -79.24L-74.75 -79.03L-74.38 -78.83L-74 -79L-73.76 -79.35L-73.38 -79.56L-73.01 -79.73L-72.63 -79.9L-72.35 -79.48L-71.87 -79.35L-71.52 -79.74L-71 -79.7L-70.91 -80.54L-70.24 -81.06L-69.55 -81.64L-68.71 -81.32L-67.98 -81.22L-67.25 -81.35L-66.43 -81.31L-66 -80.6L-65.47 -80.72L-64.92 -80.67L-64.41 -80.84L-63.92 -81.08L-63.34 -80.68L-62.69 -80.98L-62.09 -81.32L-62 -82L-63.97 -82.31L-65.94 -82.63L-68.13 -81.98L-68.71 -79.76L-70.5 -81.08L-70.88 -83.27L-72.93 -82.91L-75 -83L-76.83 -84.07L-78.91 -83.63L-80.56 -82.5L-82.46 -81.86L-84.37 -82.39L-86.21 -83.16L-88.22 -82.96L-90 -82L-90.81 -82.23L-91.49 -81.73L-91.54 -80.87L-92.29 -80.44L-93.05 -80.22L-93.64 -80.76L-94.36 -80.66L-95 -81L-94.87 -80.81L-94.94 -80.59L-95.15 -80.49L-95.17 -80.25L-95.04 -80.1L-94.99 -79.9L-94.88 -79.7L-95 -79.5L-94.57 -79.53L-94.18 -79.35L-93.75 -79.27L-93.46 -78.94L-93 -79.11L-92.53 -78.97L-92.02 -78.75L-92 -78.2L-91.76 -78.09L-91.51 -78L-91.26 -77.91L-91.03 -77.77L-90.8 -77.56L-90.6 -77.33L-90.32 -77.49L-90 -77.5L-90.16 -77.26L-90.06 -77L-90.15 -76.74L-90 -76.5ZM-80.5 -74.6L-81.03 -74.57L-81.43 -74.22L-81.69 -73.75L-82.2 -73.58L-82.72 -73.68L-83.05 -74.11L-83.53 -74.24L-84 -74.4L-84.55 -74.68L-84.84 -75.23L-85.37 -74.9L-85.99 -74.98L-86.52 -74.77L-87.05 -74.97L-87.58 -74.85L-88 -74.5L-88.52 -74.42L-88.85 -74.85L-89.28 -74.7L-89.74 -74.69L-90.21 -74.62L-90.62 -74.38L-90.98 -74.75L-91.5 -74.7L-91.64 -74.83L-91.63 -75.03L-91.82 -75.12L-91.81 -75.33L-92.03 -75.39L-92.11 -75.59L-92.3 -75.51L-92.5 -75.5L-92.38 -75.71L-92.16 -75.82L-92.19 -76.05L-92.29 -76.27L-92.08 -76.17L-91.88 -76.26L-91.73 -76.43L-91.5 -76.4L-90.98 -76.69L-90.39 -76.59L-90.03 -76.15L-89.73 -75.68L-89.14 -75.89L-88.61 -75.56L-88.1 -75.89L-88 -76.5L-87.53 -76.33L-87.11 -76.61L-86.64 -76.6L-86.24 -76.84L-85.79 -77.12L-85.29 -76.92L-84.94 -76.59L-84.5 -76.4L-84.21 -76.02L-83.73 -76.05L-83.28 -76.09L-82.98 -76.44L-82.55 -76.3L-82.17 -76.56L-81.72 -76.5L-81.5 -76.1L-81.33 -76.31L-81.06 -76.26L-80.94 -76.02L-80.67 -76.01L-80.44 -76L-80.23 -75.89L-80.19 -75.65L-80 -75.5L-80.25 -75.36L-80.3 -75.08L-80.27 -74.78L-80.5 -74.6ZM-95 -72.1L-94.89 -71.9L-94.67 -71.85L-94.48 -71.97L-94.26 -71.88L-94.06 -71.79L-93.85 -71.72L-93.75 -71.96L-93.5 -72L-93.31 -72.18L-93.06 -72.1L-92.97 -72.31L-92.8 -72.47L-92.59 -72.33L-92.33 -72.34L-92.08 -72.44L-92 -72.7L-91.79 -72.72L-91.63 -72.86L-91.42 -72.91L-91.22 -72.84L-91.13 -73.02L-91.04 -73.2L-90.97 -73.39L-91 -73.6L-91.35 -73.56L-91.47 -73.23L-91.75 -73.32L-92.05 -73.29L-92.29 -73.47L-92.56 -73.57L-92.54 -73.9L-92.8 -74.1L-93.15 -74.11L-93.44 -73.91L-93.75 -73.78L-93.96 -73.51L-94.2 -73.77L-94.5 -73.97L-94.85 -73.94L-95.2 -73.9L-95.23 -73.56L-95.13 -73.24L-95.32 -73.22L-95.52 -73.24L-95.53 -73.03L-95.7 -72.9L-95.54 -72.67L-95.47 -72.39L-95.29 -72.15L-95 -72.1ZM-97 -71.6L-97.27 -71.94L-97.69 -71.85L-97.91 -72.14L-98.2 -72.38L-98.56 -72.29L-98.81 -72.01L-99.18 -71.97L-99.5 -71.8L-99.99 -71.77L-100.34 -71.44L-100.83 -71.57L-101.05 -72.02L-101.46 -72L-101.85 -72.12L-102.13 -72.42L-102.5 -72.6L-102.44 -72.88L-102.5 -73.16L-102.23 -73.24L-102 -73.4L-101.67 -73.45L-101.35 -73.51L-101.05 -73.32L-100.7 -73.4L-100.54 -73.75L-100.16 -73.8L-99.86 -74.02L-99.5 -73.9L-99.22 -73.79L-98.97 -73.63L-98.65 -73.57L-98.39 -73.76L-98.12 -73.98L-97.79 -73.85L-97.61 -73.58L-97.3 -73.5L-97.16 -73.21L-96.98 -72.94L-96.66 -72.8L-96.5 -72.5L-96.69 -72.27L-96.61 -71.97L-96.85 -71.83L-97 -71.6ZM-104.5 -75.5L-104.76 -75.75L-105.13 -75.78L-105.44 -75.59L-105.81 -75.65L-106.13 -75.48L-106.3 -75.16L-106.66 -75.23L-107 -75.1L-107.26 -75.54L-107.77 -75.53L-108.05 -75.16L-108.5 -75.05L-108.86 -75.23L-109.25 -75.16L-109.66 -75.24L-110 -75L-110.38 -74.93L-110.76 -74.96L-111.17 -75.07L-111.49 -74.78L-111.86 -74.62L-112.25 -74.74L-112.61 -74.97L-113 -74.8L-113.64 -74.6L-114.1 -75.08L-114.65 -75.39L-115.24 -75.16L-115.92 -75.21L-116.4 -74.72L-116.94 -75.03L-117.5 -75.3L-117.49 -75.57L-117.32 -75.79L-117.06 -75.83L-116.81 -75.88L-116.65 -76.06L-116.42 -76.13L-116.18 -76.14L-116 -76.3L-115.41 -76.37L-114.98 -75.98L-114.4 -76.01L-114 -76.42L-113.49 -76.65L-113.04 -76.99L-112.45 -77L-112 -76.6L-111.54 -76.76L-111.15 -77.04L-110.8 -76.61L-110.25 -76.69L-109.81 -76.8L-109.38 -76.65L-108.93 -76.45L-108.5 -76.7L-108.15 -76.6L-107.78 -76.59L-107.61 -76.26L-107.33 -76.02L-107.03 -76.25L-106.73 -76.49L-106.41 -76.22L-106 -76.3L-105.69 -76.32L-105.5 -76.07L-105.37 -75.81L-105.45 -75.53L-105.21 -75.45L-104.98 -75.35L-104.72 -75.36L-104.5 -75.5ZM-97.8 -75L-98.1 -74.72L-98.42 -74.44L-98.8 -74.71L-99.24 -74.58L-99.68 -74.43L-100.1 -74.64L-100.27 -75.04L-100.5 -75.4L-100.59 -75.62L-100.76 -75.8L-100.86 -76.01L-101 -76.2L-100.68 -76.25L-100.47 -76L-100.21 -75.9L-99.93 -75.86L-99.7 -76.1L-99.64 -76.43L-99.34 -76.67L-99 -76.5L-98.77 -76.44L-98.68 -76.22L-98.58 -75.99L-98.32 -75.99L-98.11 -76.13L-97.89 -75.99L-97.74 -76.19L-97.5 -76.2L-97.65 -75.92L-97.8 -75.64L-97.81 -75.42L-98 -75.32L-97.89 -75.17L-97.8 -75ZM-88.5 -78L-88.92 -77.68L-89.4 -77.91L-89.83 -78.02L-90.24 -78.21L-90.69 -78.01L-91.12 -77.78L-91.61 -77.89L-92 -78.2L-92.24 -78.39L-92.54 -78.32L-92.84 -78.4L-92.97 -78.68L-93.18 -78.87L-93.45 -78.94L-93.74 -78.81L-94 -79L-94.14 -79.31L-94.46 -79.42L-94.42 -79.73L-94.4 -80.04L-94.64 -80.21L-94.93 -80.25L-95.21 -80.18L-95.5 -80.2L-94.94 -79.93L-94.43 -80.27L-93.89 -80.58L-93.89 -81.2L-93.48 -80.9L-92.98 -80.8L-92.43 -80.62L-92 -81L-91.61 -81.16L-91.22 -81.01L-90.82 -80.83L-90.43 -81.03L-90 -80.93L-89.57 -81.05L-89.28 -80.73L-89 -80.4L-88.94 -80.18L-88.73 -80.09L-88.5 -80.11L-88.37 -79.91L-88.28 -79.72L-88.11 -79.59L-88.04 -79.4L-88 -79.2L-88.22 -78.94L-88.27 -78.61L-88.46 -78.55L-88.57 -78.37L-88.6 -78.18L-88.5 -78ZM-93 -74.8L-93.39 -74.92L-93.73 -75.13L-94.11 -74.99L-94.52 -74.95L-94.91 -74.71L-95.3 -74.96L-95.59 -74.67L-96 -74.6L-96.32 -74.64L-96.51 -74.91L-96.5 -75.2L-96.5 -75.5L-96.25 -75.2L-95.89 -75.03L-95.51 -75.13L-95.15 -75.27L-94.77 -75.46L-94.74 -75.89L-94.38 -76.01L-94 -76L-93.84 -75.77L-93.62 -75.58L-93.37 -75.39L-93.06 -75.49L-92.82 -75.64L-92.53 -75.69L-92.23 -75.69L-92 -75.5L-92.18 -75.59L-92.35 -75.5L-92.4 -75.33L-92.54 -75.2L-92.73 -74.95L-93 -74.8ZM-86 -63.8L-85.76 -63.93L-85.5 -64.03L-85.23 -64.03L-84.96 -64.08L-84.69 -64.03L-84.48 -63.84L-84.31 -63.59L-84 -63.6L-83.69 -63.88L-83.27 -63.84L-82.83 -63.85L-82.62 -63.45L-82.19 -63.49L-81.82 -63.28L-81.66 -63.67L-81.3 -63.9L-81.19 -64.06L-81 -64.09L-80.88 -63.92L-80.68 -63.92L-80.36 -64.01L-80.2 -64.3L-80.44 -64.28L-80.67 -64.24L-80.79 -64.49L-81.06 -64.53L-81.24 -64.68L-81.28 -64.91L-81.4 -65.1L-81.5 -65.3L-81.74 -65.56L-82.1 -65.51L-82.2 -65.81L-82.35 -66.09L-82.68 -66.05L-82.97 -66.23L-83.22 -66.05L-83.5 -65.9L-83.71 -66.1L-83.99 -66.05L-84.22 -65.88L-84.5 -65.98L-84.67 -66.26L-84.99 -66.25L-85.19 -66.02L-85.5 -66L-85.53 -65.79L-85.73 -65.72L-85.89 -65.63L-86.08 -65.66L-86.38 -65.51L-86.7 -65.4L-86.89 -65.17L-86.88 -64.86L-87.13 -64.7L-87.2 -64.4L-87.04 -64.22L-87.12 -63.99L-86.93 -63.92L-86.74 -63.83L-86.58 -63.68L-86.37 -63.67L-86.18 -63.73L-86 -63.8ZM-98.3 -68.7L-97.96 -68.74L-97.77 -68.46L-97.51 -68.61L-97.3 -68.81L-97.06 -68.63L-97.04 -68.33L-96.8 -68.15L-96.5 -68.2L-96.34 -68.3L-96.15 -68.28L-95.96 -68.33L-95.79 -68.22L-95.72 -68.39L-95.7 -68.58L-95.51 -68.63L-95.4 -68.8L-95.53 -68.99L-95.76 -69L-95.99 -69.04L-96.17 -68.9L-96.25 -69.09L-96.42 -69.21L-96.48 -69.4L-96.5 -69.6L-96.71 -69.52L-96.9 -69.63L-97.11 -69.64L-97.29 -69.53L-97.52 -69.51L-97.66 -69.69L-97.79 -69.87L-98 -69.9L-98.19 -69.78L-98.38 -69.66L-98.61 -69.65L-98.81 -69.77L-98.96 -69.57L-99.2 -69.58L-99.2 -69.34L-99.4 -69.2L-99.2 -68.94L-98.87 -68.9L-98.6 -68.77L-98.3 -68.7ZM-83.5 -62.2L-83.29 -62.32L-83.06 -62.26L-82.86 -62.15L-82.64 -62.11L-82.44 -62.28L-82.19 -62.26L-82.06 -62.47L-82 -62.7L-81.77 -62.58L-81.51 -62.55L-81.25 -62.48L-81 -62.6L-81.28 -62.54L-81.48 -62.34L-81.78 -62.38L-81.93 -62.65L-82.19 -62.59L-82.27 -62.33L-82.35 -62.08L-82.6 -62L-82.78 -62.17L-83.02 -62.25L-83.26 -62.25L-83.5 -62.2ZM-59.3 -47.6L-59.02 -47.46L-58.71 -47.55L-58.46 -47.37L-58.15 -47.39L-57.85 -47.49L-57.61 -47.7L-57.31 -47.64L-57 -47.6L-56.89 -47.44L-56.7 -47.39L-56.51 -47.42L-56.34 -47.32L-56.15 -47.28L-56.04 -47.12L-55.86 -47.1L-55.7 -47L-55.51 -47.08L-55.3 -47.04L-55.18 -47.21L-54.97 -47.27L-54.81 -47.41L-54.59 -47.44L-54.4 -47.36L-54.2 -47.3L-54.01 -47.13L-53.77 -47.06L-53.73 -46.81L-53.6 -46.6L-53.32 -46.65L-53.12 -46.85L-52.85 -46.96L-52.7 -47.2L-52.65 -47.5L-52.81 -47.75L-52.75 -48.04L-52.9 -48.3L-53.07 -48.39L-53.23 -48.49L-53.41 -48.57L-53.6 -48.6L-53.61 -48.78L-53.66 -48.95L-53.69 -49.12L-53.7 -49.3L-53.9 -49.36L-54.1 -49.31L-54.29 -49.26L-54.48 -49.2L-54.68 -49.21L-54.87 -49.28L-55.06 -49.34L-55.2 -49.5L-55.34 -49.67L-55.54 -49.77L-55.57 -49.99L-55.6 -50.2L-55.8 -50.35L-56.02 -50.45L-56.15 -50.66L-56.2 -50.9L-56.1 -51.12L-56.02 -51.36L-55.79 -51.44L-55.6 -51.6L-55.81 -51.47L-56.05 -51.44L-56.25 -51.59L-56.51 -51.59L-56.7 -51.44L-56.79 -51.21L-57 -51.12L-57.2 -51L-57.43 -50.81L-57.6 -50.56L-57.66 -50.27L-57.8 -50L-57.91 -49.68L-58.02 -49.36L-58.21 -49.36L-58.38 -49.28L-58.51 -49.16L-58.6 -49L-58.81 -48.83L-58.93 -48.58L-59.09 -48.37L-59.3 -48.2L-59.39 -47.9L-59.3 -47.6ZM-64.5 -49.9L-62 -49.4L-61.7 -49.1L-63.5 -49.3L-64.5 -49.9ZM-64.4 -46.6L-62 -46.5L-62.5 -46L-64 -46.3L-64.4 -46.6ZM-61.5 -45.6L-60.6 -46.2L-60.3 -47L-61.4 -46.6L-61.5 -45.6ZM-84.9 -21.9L-84.73 -22.16L-84.52 -22.38L-84.21 -22.46L-84 -22.7L-83.92 -22.91L-83.74 -23.04L-83.53 -23.09L-83.32 -23.15L-83.14 -23.01L-82.92 -22.98L-82.73 -23.11L-82.5 -23.1L-82.29 -23.13L-82.09 -23.05L-81.97 -22.87L-81.75 -22.82L-81.55 -22.89L-81.34 -22.86L-81.12 -22.91L-81 -23.1L-80.8 -23.01L-80.67 -22.83L-80.5 -22.7L-80.35 -22.55L-80.15 -22.67L-79.93 -22.64L-79.71 -22.64L-79.5 -22.6L-79.29 -22.59L-79.1 -22.68L-78.89 -22.72L-78.69 -22.75L-78.51 -22.61L-78.43 -22.39L-78.22 -22.33L-78 -22.3L-77.83 -22.04L-77.55 -21.88L-77.28 -21.72L-77 -21.6L-76.86 -21.49L-76.74 -21.35L-76.58 -21.25L-76.41 -21.19L-76.23 -21.14L-76.07 -21.04L-75.88 -21.05L-75.7 -21.1L-75.57 -20.91L-75.39 -20.79L-75.19 -20.66L-74.95 -20.7L-74.72 -20.7L-74.54 -20.57L-74.36 -20.45L-74.2 -20.3L-74.52 -20.18L-74.84 -20.07L-75.17 -20L-75.5 -19.9L-75.75 -19.87L-75.98 -19.98L-76.17 -19.82L-76.4 -19.73L-76.63 -19.76L-76.87 -19.72L-77.05 -19.88L-77.3 -19.9L-77.44 -20.07L-77.43 -20.29L-77.5 -20.49L-77.5 -20.7L-77.75 -20.92L-78.02 -21.13L-78.3 -21.33L-78.5 -21.6L-78.75 -21.47L-79.02 -21.54L-79.29 -21.48L-79.54 -21.6L-79.81 -21.7L-79.96 -21.94L-80.23 -22L-80.5 -22L-80.82 -22.1L-81.13 -22.22L-81.46 -22.18L-81.8 -22.2L-82.02 -22.37L-82.29 -22.41L-82.53 -22.55L-82.8 -22.6L-82.96 -22.47L-83.14 -22.36L-83.23 -22.17L-83.39 -22.03L-83.6 -22.05L-83.8 -22.01L-84.01 -21.99L-84.2 -21.9L-84.38 -21.9L-84.55 -21.84L-84.74 -21.8L-84.9 -21.9ZM-74.4 -18.4L-74.2 -18.49L-74.01 -18.59L-73.86 -18.74L-73.74 -18.93L-73.75 -19.15L-73.63 -19.34L-73.47 -19.49L-73.4 -19.7L-73.19 -19.79L-72.96 -19.84L-72.73 -19.86L-72.5 -19.9L-72.18 -19.78L-71.85 -19.7L-71.67 -19.65L-71.48 -19.67L-71.33 -19.78L-71.2 -19.9L-70.89 -19.96L-70.57 -19.99L-70.29 -19.83L-70 -19.7L-69.81 -19.54L-69.66 -19.35L-69.43 -19.27L-69.2 -19.2L-68.95 -19.11L-68.81 -18.89L-68.58 -18.77L-68.4 -18.6L-68.6 -18.48L-68.83 -18.4L-69.06 -18.45L-69.3 -18.4L-69.59 -18.27L-69.87 -18.1L-70.2 -18.04L-70.5 -18.2L-70.73 -18.06L-70.93 -17.87L-71.2 -17.8L-71.4 -17.6L-71.56 -17.74L-71.74 -17.86L-71.82 -18.06L-72 -18.2L-72.17 -18.09L-72.37 -18.09L-72.56 -18.16L-72.75 -18.18L-72.94 -18.15L-73.13 -18.14L-73.3 -18.22L-73.5 -18.2L-73.74 -18.24L-73.98 -18.18L-74.23 -18.21L-74.4 -18.4ZM-78.3 -18.4L-77 -18.5L-76.2 -18L-76.8 -17.9L-77.9 -18L-78.3 -18.4ZM-67.2 -18.5L-65.6 -18.4L-65.7 -18L-67.2 -18L-67.2 -18.5ZM-128.4 -50.8L-128.21 -50.75L-128.09 -50.6L-127.9 -50.67L-127.71 -50.59L-127.54 -50.71L-127.34 -50.69L-127.16 -50.61L-127 -50.5L-126.77 -50.38L-126.68 -50.15L-126.43 -50.15L-126.21 -50.04L-126.02 -49.88L-125.76 -49.89L-125.53 -49.94L-125.3 -50L-125.13 -49.86L-124.93 -49.75L-124.71 -49.71L-124.49 -49.71L-124.38 -49.52L-124.27 -49.34L-124.14 -49.17L-124 -49L-123.79 -48.89L-123.62 -48.74L-123.51 -48.52L-123.3 -48.4L-123.46 -48.48L-123.64 -48.54L-123.83 -48.56L-124 -48.49L-124.17 -48.53L-124.35 -48.55L-124.52 -48.6L-124.7 -48.6L-125.02 -48.6L-125.29 -48.76L-125.49 -49.02L-125.8 -49.1L-126.04 -49.02L-126.28 -49.08L-126.43 -49.28L-126.68 -49.34L-126.74 -49.57L-126.92 -49.73L-127.12 -49.86L-127.3 -50L-127.47 -50.09L-127.65 -50.07L-127.76 -50.21L-127.91 -50.32L-128.03 -50.45L-128.1 -50.61L-128.29 -50.65L-128.4 -50.8ZM-132.9 -54L-132.62 -53.85L-132.32 -53.75L-132.03 -53.92L-131.7 -53.9L-131.67 -53.62L-131.55 -53.36L-131.49 -53.08L-131.5 -52.8L-131.35 -52.64L-131.13 -52.6L-131.01 -52.42L-131 -52.2L-131.22 -52.38L-131.44 -52.54L-131.71 -52.68L-132 -52.6L-132.16 -52.74L-132.37 -52.77L-132.48 -52.94L-132.6 -53.1L-132.67 -53.34L-132.62 -53.59L-132.77 -53.79L-132.9 -54ZM-154.6 -57.3L-153.3 -57.8L-152.2 -58.2L-152.8 -57.5L-154 -56.9L-154.6 -57.3ZM-61.9 -10.7L-61 -10.8L-61 -10.1L-61.9 -10.1ZM-74 41.8L-73.5 41.8L-73.5 43.3L-74.3 43.2ZM-71 54.2L-69.5 54.5L-70.5 55ZM-61.3 51.2L-59.5 51.3L-57.8 51.6L-58.7 52.2L-60.5 52.1L-61.3 51.2ZM-155.9 -19L-155 -19.4L-155.1 -19.9L-155.8 -20.2L-155.9 -19ZM-156.7 -20.9L-156 -20.8L-156.4 -20.6L-156.7 -20.9ZM-158.3 -21.6L-157.7 -21.3L-158.2 -21.3L-158.3 -21.6ZM-159.8 -22.2L-159.3 -22.2L-159.5 -21.9L-159.8 -22.2ZM-91.5 0.3L-90.8 0.2L-91.1 1L-91.5 0.3ZM-5.9 -35.8L-6.17 -35.61L-6.3 -35.3L-6.37 -35.13L-6.4 -34.95L-6.55 -34.83L-6.62 -34.66L-6.77 -34.54L-6.82 -34.35L-6.9 -34.19L-6.9 -34L-7.14 -33.97L-7.34 -33.84L-7.49 -33.67L-7.62 -33.48L-7.81 -33.33L-8.05 -33.31L-8.27 -33.32L-8.5 -33.3L-8.67 -33.07L-8.83 -32.83L-9.09 -32.7L-9.3 -32.5L-9.3 -32.18L-9.45 -31.9L-9.66 -31.68L-9.8 -31.4L-9.72 -31.08L-9.78 -30.75L-9.67 -30.43L-9.7 -30.1L-9.75 -29.84L-9.9 -29.63L-10.14 -29.5L-10.3 -29.3L-10.42 -29.13L-10.59 -29.02L-10.71 -28.84L-10.89 -28.73L-11.02 -28.56L-11.11 -28.37L-11.34 -28.36L-11.5 -28.2L-11.72 -28.19L-11.93 -28.25L-12.15 -28.24L-12.35 -28.15L-12.56 -28.07L-12.77 -27.98L-12.92 -27.81L-13 -27.6L-13.29 -27.59L-13.51 -27.4L-13.61 -27.15L-13.77 -26.93L-13.91 -26.71L-14.1 -26.52L-14.28 -26.34L-14.5 -26.2L-14.61 -26.01L-14.77 -25.85L-14.86 -25.63L-15.04 -25.49L-15.07 -25.25L-14.94 -25.05L-15.01 -24.83L-15 -24.6L-15.04 -24.42L-15.06 -24.23L-15.19 -24.08L-15.34 -23.98L-15.51 -23.91L-15.66 -23.82L-15.82 -23.74L-16 -23.7L-15.99 -23.4L-15.95 -23.1L-16.05 -22.8L-16.3 -22.6L-16.32 -22.4L-16.47 -22.27L-16.56 -22.09L-16.74 -22L-16.89 -21.87L-16.99 -21.69L-16.98 -21.5L-17 -21.3L-16.91 -21.1L-16.96 -20.88L-16.85 -20.69L-16.76 -20.5L-16.63 -20.33L-16.5 -20.17L-16.38 -20L-16.3 -19.8L-16.24 -19.61L-16.28 -19.41L-16.2 -19.22L-16.09 -19.06L-15.98 -18.87L-15.99 -18.66L-16.13 -18.5L-16.2 -18.3L-16.35 -18.06L-16.57 -17.89L-16.66 -17.61L-16.59 -17.34L-16.56 -17.05L-16.38 -16.83L-16.45 -16.57L-16.5 -16.3L-16.56 -16.1L-16.63 -15.9L-16.84 -15.84L-16.98 -15.68L-17.03 -15.49L-17.08 -15.29L-17.12 -15.1L-17.1 -14.9L-17.32 -14.85L-17.5 -14.7L-17.39 -14.41L-17.21 -14.16L-16.99 -13.94L-16.8 -13.7L-16.81 -13.37L-16.68 -13.06L-16.64 -12.88L-16.56 -12.72L-16.63 -12.56L-16.7 -12.4L-16.39 -12.32L-16.1 -12.17L-15.95 -11.89L-15.8 -11.6L-15.68 -11.35L-15.48 -11.16L-15.23 -11.04L-15 -10.9L-14.68 -10.78L-14.39 -10.61L-14.19 -10.33L-14.1 -10L-13.85 -9.8L-13.68 -9.52L-13.44 -9.29L-13.3 -9L-13.18 -8.86L-13.11 -8.69L-12.92 -8.67L-12.77 -8.56L-12.69 -8.23L-12.6 -7.9L-12.48 -7.73L-12.28 -7.69L-12.12 -7.56L-11.92 -7.54L-11.75 -7.44L-11.64 -7.27L-11.62 -7.07L-11.5 -6.9L-11.4 -6.74L-11.32 -6.56L-11.18 -6.42L-11.01 -6.34L-10.85 -6.22L-10.67 -6.17L-10.5 -6.07L-10.3 -6.1L-10.07 -6L-9.96 -5.77L-9.75 -5.67L-9.53 -5.58L-9.42 -5.37L-9.26 -5.2L-9.05 -5.09L-8.9 -4.9L-8.74 -4.77L-8.53 -4.78L-8.49 -4.58L-8.33 -4.45L-8.15 -4.55L-7.95 -4.54L-7.75 -4.53L-7.6 -4.4L-7.36 -4.45L-7.14 -4.54L-6.95 -4.36L-6.7 -4.33L-6.47 -4.39L-6.32 -4.57L-6.19 -4.76L-6 -4.9L-5.82 -4.93L-5.64 -4.93L-5.47 -5.01L-5.29 -4.99L-5.1 -4.95L-4.91 -4.97L-4.71 -5.03L-4.6 -5.2L-4.4 -5.24L-4.2 -5.31L-4 -5.33L-3.79 -5.33L-3.58 -5.31L-3.4 -5.2L-3.22 -5.07L-3 -5.1L-2.75 -5.01L-2.49 -4.98L-2.22 -4.96L-2 -4.8L-1.83 -4.95L-1.61 -5.02L-1.38 -5.04L-1.18 -4.92L-1.07 -5.11L-0.87 -5.21L-0.68 -5.29L-0.5 -5.4L-0.31 -5.5L-0.2 -5.69L-0.03 -5.83L0.18 -5.85L0.37 -5.98L0.59 -5.94L0.8 -5.98L1 -5.9L1.1 -6.1L1.29 -6.21L1.48 -6.29L1.68 -6.35L1.89 -6.33L2.09 -6.35L2.3 -6.31L2.5 -6.3L2.69 -6.28L2.85 -6.37L3 -6.3L3.16 -6.21L3.5 -6.23L3.8 -6.4L4.06 -6.34L4.29 -6.23L4.55 -6.16L4.8 -6.1L4.99 -5.84L5.26 -5.64L5.47 -5.4L5.6 -5.1L5.79 -4.87L6.08 -4.81L6.27 -4.59L6.3 -4.3L6.57 -4.31L6.81 -4.2L7.09 -4.23L7.3 -4.4L7.58 -4.56L7.9 -4.53L8.2 -4.53L8.5 -4.6L8.78 -4.55L9.03 -4.4L9.07 -4.1L9.3 -3.9L9.49 -3.75L9.58 -3.52L9.74 -3.33L9.8 -3.1L9.85 -2.82L9.95 -2.56L9.9 -2.28L9.9 -2L9.86 -1.73L9.81 -1.46L9.58 -1.28L9.5 -1L9.55 -0.73L9.4 -0.5L9.35 -0.25L9.3 -0L9.21 0.2L9.08 0.37L9.05 0.59L9 0.8L9.09 0.99L9.14 1.2L9.26 1.37L9.45 1.47L9.55 1.65L9.68 1.81L9.81 1.98L9.8 2.2L9.97 2.33L10.18 2.37L10.31 2.53L10.36 2.74L10.58 2.76L10.74 2.91L10.82 3.11L10.9 3.3L11.08 3.59L11.29 3.86L11.53 4.09L11.8 4.3L11.92 4.5L12.14 4.57L12.21 4.77L12.21 4.99L12.3 5.19L12.3 5.4L12.22 5.59L12.2 5.8L12.28 6.08L12.29 6.37L12.43 6.62L12.5 6.9L12.6 7.1L12.78 7.23L12.89 7.43L12.84 7.65L12.97 7.83L12.96 8.05L13.09 8.22L13.2 8.4L13.25 8.68L13.37 8.94L13.3 9.22L13.3 9.5L13.41 9.82L13.65 10.05L13.7 10.37L13.7 10.7L13.73 11.01L13.97 11.22L13.96 11.51L13.9 11.8L13.79 12L13.75 12.22L13.61 12.4L13.5 12.6L13.31 12.65L13.13 12.74L13.05 12.93L12.89 13.05L12.8 13.23L12.78 13.43L12.6 13.52L12.5 13.7L12.51 13.89L12.41 14.05L12.38 14.24L12.48 14.41L12.37 14.58L12.18 14.63L12.18 14.83L12.1 15L12.22 15.16L12.23 15.36L12.26 15.56L12.18 15.75L11.99 15.84L11.87 16L11.77 16.19L11.8 16.4L11.8 16.68L11.89 16.95L11.96 17.24L11.8 17.5L11.88 17.68L11.97 17.85L12.13 17.96L12.29 18.08L12.34 18.26L12.41 18.43L12.42 18.63L12.5 18.8L12.58 18.97L12.75 19.06L12.85 19.22L12.91 19.4L13 19.55L13.12 19.69L13.21 19.85L13.3 20L13.42 20.25L13.58 20.47L13.67 20.73L13.85 20.95L14.03 21.16L14.22 21.37L14.21 21.67L14.4 21.9L14.35 22.16L14.48 22.4L14.46 22.65L14.5 22.9L14.48 23.14L14.32 23.32L14.26 23.56L14.36 23.78L14.55 23.93L14.69 24.12L14.77 24.36L14.7 24.6L14.8 24.87L15.05 25.02L15.03 25.3L15.09 25.56L15.16 25.84L15.02 26.1L15.1 26.35L15.2 26.6L15.42 26.86L15.62 27.13L15.72 27.46L15.7 27.8L15.85 28.05L15.99 28.31L16.28 28.4L16.5 28.6L16.64 28.72L16.79 28.81L16.9 28.96L16.97 29.13L16.9 29.32L16.97 29.5L17.14 29.61L17.2 29.8L17.18 30.05L17.33 30.25L17.55 30.34L17.68 30.54L17.76 30.77L17.7 31L17.75 31.22L17.9 31.4L17.91 31.6L17.81 31.78L17.79 31.98L17.89 32.16L18.01 32.33L17.99 32.54L18.13 32.69L18.3 32.8L18.18 33.07L18.15 33.37L18.26 33.64L18.4 33.9L18.62 34.13L18.8 34.4L19.07 34.58L19.36 34.73L19.67 34.85L20 34.8L20.19 34.75L20.39 34.74L20.59 34.8L20.78 34.71L20.98 34.66L21.12 34.52L21.32 34.49L21.5 34.4L21.79 34.3L22.03 34.1L22.27 33.89L22.6 33.9L22.87 33.87L23.12 33.79L23.39 33.86L23.66 33.82L23.94 33.84L24.21 33.72L24.47 33.83L24.7 34L24.94 33.88L25.17 33.75L25.43 33.67L25.7 33.7L25.99 33.63L26.3 33.62L26.6 33.51L26.9 33.6L27.1 33.55L27.28 33.47L27.44 33.35L27.61 33.24L27.75 33.1L27.93 32.99L28.05 32.83L28.2 32.7L28.37 32.54L28.53 32.38L28.76 32.35L28.98 32.31L29.09 32.11L29.22 31.94L29.33 31.73L29.3 31.5L29.45 31.37L29.64 31.35L29.83 31.3L29.95 31.15L30.02 30.97L30.19 30.86L30.29 30.69L30.3 30.5L30.47 30.36L30.69 30.36L30.84 30.21L30.9 30.01L30.88 29.8L30.92 29.6L31.05 29.44L31.2 29.3L31.37 29.27L31.54 29.23L31.69 29.11L31.74 28.94L32.01 28.76L32.3 28.6L32.31 28.29L32.34 27.97L32.39 27.65L32.6 27.4L32.59 27.2L32.63 27.01L32.72 26.82L32.91 26.73L32.83 26.56L32.84 26.37L32.92 26.19L32.9 26L32.76 25.89L32.6 25.8L32.76 25.61L32.91 25.41L33.14 25.28L33.4 25.3L33.62 25.25L33.85 25.26L34.03 25.13L34.23 25.01L34.43 24.92L34.59 24.76L34.79 24.66L35 24.6L35.12 24.39L35.18 24.16L35.28 23.92L35.5 23.8L35.47 23.56L35.58 23.35L35.54 23.12L35.37 22.95L35.34 22.74L35.35 22.53L35.29 22.3L35.4 22.1L35.34 21.81L35.18 21.57L35.04 21.3L35.1 21L35.08 20.67L34.91 20.4L34.75 20.12L34.7 19.8L34.89 19.68L35.11 19.69L35.19 19.49L35.33 19.33L35.54 19.3L35.71 19.18L35.88 19.07L36 18.9L36.17 18.73L36.34 18.55L36.47 18.35L36.6 18.14L36.78 17.97L36.97 17.82L37.23 17.8L37.4 17.6L37.63 17.43L37.91 17.35L38.2 17.4L38.49 17.36L38.74 17.23L38.91 16.99L39.05 16.74L39.3 16.6L39.53 16.49L39.64 16.27L39.72 16.04L39.74 15.81L39.99 15.78L40.16 15.6L40.37 15.5L40.5 15.3L40.59 15.13L40.56 14.95L40.5 14.78L40.41 14.62L40.5 14.46L40.47 14.27L40.63 14.18L40.7 14L40.79 13.77L40.81 13.53L40.84 13.29L40.88 13.05L40.69 12.87L40.65 12.62L40.59 12.37L40.4 12.2L40.38 12L40.4 11.81L40.46 11.62L40.53 11.44L40.47 11.25L40.38 11.08L40.33 10.89L40.3 10.7L40.24 10.47L40.18 10.23L40.16 10L40.07 9.77L39.94 9.57L39.82 9.36L39.66 9.18L39.5 9L39.53 8.65L39.61 8.32L39.57 8.14L39.57 7.95L39.43 7.84L39.3 7.7L39.32 7.5L39.26 7.3L39.25 7.08L39.37 6.91L39.29 6.72L39.25 6.52L39.08 6.4L39 6.2L38.96 5.89L38.83 5.61L38.92 5.3L38.8 5L39.01 4.76L39.32 4.72L39.47 4.47L39.6 4.2L39.77 4.07L39.98 4L40.02 3.79L40.14 3.6L40.1 3.39L40.01 3.19L40.08 2.98L40.2 2.8L40.26 2.5L40.46 2.26L40.7 2.06L41 2L41.25 1.93L41.42 1.73L41.65 1.61L41.8 1.4L41.94 1.11L42.18 0.89L42.38 0.63L42.6 0.4L42.76 0.25L42.8 0.03L42.91 -0.15L43.11 -0.24L43.28 -0.39L43.3 -0.61L43.47 -0.74L43.6 -0.9L43.78 -1.04L43.95 -1.18L44.13 -1.35L44.37 -1.36L44.52 -1.55L44.58 -1.78L44.8 -1.87L45 -2L45.16 -2.2L45.33 -2.41L45.6 -2.41L45.82 -2.57L46.02 -2.73L46.17 -2.93L46.41 -3.03L46.6 -3.2L46.82 -3.28L47.05 -3.34L47.22 -3.51L47.36 -3.7L47.39 -3.94L47.57 -4.11L47.75 -4.27L47.8 -4.5L47.98 -4.79L48.16 -5.08L48.4 -5.33L48.6 -5.6L48.58 -5.92L48.79 -6.17L49.1 -6.26L49.3 -6.5L49.44 -6.76L49.43 -7.05L49.44 -7.35L49.6 -7.6L49.74 -7.78L49.79 -8.01L49.95 -8.17L50.16 -8.25L50.09 -8.47L50.1 -8.7L50.12 -8.94L50.3 -9.1L50.39 -9.26L50.43 -9.44L50.59 -9.54L50.7 -9.69L50.75 -9.88L50.87 -10.03L50.79 -10.21L50.8 -10.4L50.91 -10.56L50.89 -10.75L51.02 -10.9L51.05 -11.09L51.14 -11.25L51.17 -11.43L51.13 -11.62L51.2 -11.8L50.98 -11.64L50.72 -11.58L50.48 -11.72L50.2 -11.7L49.86 -11.69L49.62 -11.45L49.32 -11.33L49 -11.3L48.74 -11.1L48.44 -10.97L48.11 -11L47.8 -11.1L47.6 -11.17L47.38 -11.13L47.24 -10.96L47.03 -10.91L46.87 -10.78L46.68 -10.71L46.5 -10.63L46.3 -10.6L45.96 -10.53L45.64 -10.67L45.35 -10.49L45 -10.5L44.75 -10.47L44.49 -10.47L44.25 -10.56L44 -10.6L43.88 -10.73L43.79 -10.89L43.83 -11.06L43.79 -11.24L43.64 -11.35L43.46 -11.38L43.33 -11.52L43.3 -11.7L43.04 -11.83L42.87 -12.05L42.84 -12.33L42.8 -12.6L42.71 -12.92L42.44 -13.14L42.24 -13.38L42 -13.6L41.79 -13.86L41.69 -14.17L41.49 -14.44L41.2 -14.6L41.04 -14.72L40.97 -14.91L40.82 -15.03L40.68 -15.16L40.49 -15.21L40.36 -15.37L40.19 -15.45L40 -15.5L39.8 -15.75L39.73 -16.05L39.55 -16.31L39.3 -16.5L39.06 -16.74L38.84 -17.01L38.88 -17.36L38.8 -17.7L38.61 -17.8L38.41 -17.85L38.34 -18.05L38.19 -18.21L38.2 -18.42L38.24 -18.62L38.19 -18.82L38.1 -19L37.9 -19.14L37.79 -19.36L37.83 -19.61L37.71 -19.83L37.68 -20.06L37.59 -20.28L37.56 -20.52L37.4 -20.7L37.33 -21.04L37.39 -21.38L37.22 -21.47L37.14 -21.64L37.17 -21.83L37.1 -22L37.05 -22.26L36.87 -22.44L36.65 -22.57L36.4 -22.6L36.44 -22.8L36.39 -22.99L36.3 -23.16L36.2 -23.33L36.03 -23.45L35.96 -23.64L35.76 -23.67L35.6 -23.8L35.54 -24L35.56 -24.22L35.52 -24.42L35.4 -24.6L35.21 -24.88L35.03 -25.17L35.08 -25.35L35.01 -25.52L34.9 -25.65L34.8 -25.8L34.62 -26.03L34.45 -26.27L34.37 -26.56L34.2 -26.8L33.94 -26.97L33.76 -27.22L33.71 -27.52L33.6 -27.8L33.51 -27.95L33.43 -28.11L33.26 -28.16L33.11 -28.26L33.01 -28.58L32.9 -28.9L32.86 -29.18L32.71 -29.43L32.65 -29.73L32.4 -29.9L32.56 -29.82L32.7 -29.7L32.81 -29.44L32.93 -29.19L33.09 -28.96L33.2 -28.7L33.47 -28.59L33.67 -28.37L33.88 -28.17L34 -27.9L34.19 -27.8L34.4 -27.8L34.46 -28L34.37 -28.19L34.5 -28.33L34.6 -28.5L34.8 -28.7L34.94 -28.94L34.84 -29.22L34.9 -29.5L35.07 -29.2L35.16 -28.87L35.16 -28.52L35.3 -28.2L35.46 -27.96L35.6 -27.71L35.85 -27.56L36 -27.3L36.19 -27.23L36.29 -27.05L36.34 -26.86L36.51 -26.73L36.6 -26.57L36.64 -26.38L36.63 -26.18L36.7 -26L36.82 -25.82L36.82 -25.6L36.81 -25.38L36.9 -25.19L37.12 -25.12L37.32 -25.01L37.33 -24.77L37.5 -24.6L37.71 -24.61L37.9 -24.51L38.02 -24.34L38.17 -24.21L38.21 -24.01L38.32 -23.84L38.38 -23.66L38.5 -23.5L38.64 -23.3L38.69 -23.07L38.7 -22.81L38.55 -22.61L38.73 -22.46L38.96 -22.4L39.15 -22.24L39.2 -22L39.26 -21.81L39.34 -21.63L39.47 -21.47L39.54 -21.29L39.59 -21.09L39.55 -20.89L39.56 -20.69L39.6 -20.5L39.71 -20.34L39.78 -20.16L39.95 -20.08L40.14 -20.02L40.31 -19.93L40.4 -19.76L40.52 -19.6L40.5 -19.4L40.61 -19.2L40.58 -18.96L40.72 -18.78L40.9 -18.65L40.93 -18.43L41.05 -18.25L41.11 -18.03L41.3 -17.9L41.41 -17.67L41.59 -17.51L41.6 -17.26L41.6 -17.02L41.86 -17L42.06 -16.83L42.26 -16.66L42.3 -16.4L42.24 -16.22L42.31 -16.04L42.45 -15.91L42.49 -15.73L42.66 -15.42L42.8 -15.1L42.84 -14.76L42.97 -14.44L43.14 -14.14L43.2 -13.8L43.21 -13.51L43.22 -13.22L43.39 -12.97L43.5 -12.7L43.76 -12.67L44 -12.56L44.22 -12.73L44.5 -12.7L44.74 -12.84L44.95 -13.04L45.24 -12.96L45.5 -13.1L45.7 -13.13L45.89 -13.18L46.09 -13.24L46.24 -13.38L46.46 -13.42L46.66 -13.34L46.82 -13.49L47 -13.6L47.19 -13.5L47.4 -13.49L47.58 -13.61L47.79 -13.66L48 -13.62L48.21 -13.7L48.34 -13.87L48.5 -14L48.8 -14.15L49.01 -14.41L49.3 -14.57L49.6 -14.7L49.79 -14.75L49.99 -14.76L50.12 -14.9L50.27 -15.02L50.46 -15.05L50.64 -15.09L50.81 -15.18L51 -15.2L51.2 -15.22L51.33 -15.37L51.52 -15.33L51.7 -15.38L51.82 -15.52L51.94 -15.65L52.04 -15.8L52.2 -15.9L52.23 -16.08L52.23 -16.25L52.23 -16.43L52.3 -16.6L52.61 -16.75L52.95 -16.69L53.27 -16.81L53.6 -16.7L53.83 -16.64L54.07 -16.68L54.32 -16.63L54.54 -16.74L54.68 -16.94L54.87 -17.09L55.09 -17.17L55.3 -17.3L55.55 -17.46L55.85 -17.52L56.1 -17.68L56.3 -17.9L56.42 -18.15L56.42 -18.42L56.58 -18.64L56.8 -18.8L57.05 -18.78L57.24 -18.93L57.49 -18.88L57.7 -19L57.67 -19.33L57.88 -19.59L57.83 -19.89L57.8 -20.2L57.98 -20.22L58.16 -20.27L58.33 -20.33L58.5 -20.4L58.71 -20.58L58.81 -20.84L59.02 -21.03L59.1 -21.3L59.26 -21.57L59.37 -21.86L59.54 -22.12L59.8 -22.3L59.61 -22.34L59.48 -22.48L59.45 -22.67L59.3 -22.8L59.25 -23.06L59.13 -23.3L58.88 -23.4L58.7 -23.6L58.55 -23.69L58.4 -23.79L58.28 -23.94L58.1 -23.99L57.95 -23.87L57.77 -23.83L57.58 -23.84L57.4 -23.9L57.27 -24.07L57.11 -24.21L56.94 -24.34L56.8 -24.5L56.67 -24.65L56.65 -24.85L56.47 -24.92L56.3 -25L56.42 -25.15L56.53 -25.31L56.54 -25.5L56.54 -25.69L56.51 -25.89L56.6 -26.07L56.56 -26.27L56.4 -26.4L56.15 -26.31L56 -26.1L55.74 -26.01L55.57 -25.8L55.5 -25.54L55.4 -25.3L55.29 -24.98L55 -24.8L54.7 -24.67L54.5 -24.4L54.2 -24.43L53.9 -24.43L53.59 -24.35L53.4 -24.1L53.22 -24.1L53.04 -24.12L52.86 -24.11L52.7 -24.01L52.53 -24.09L52.35 -24.08L52.16 -24.09L52 -24L51.74 -24.08L51.6 -24.3L51.75 -24.54L51.69 -24.81L51.56 -25.04L51.5 -25.3L51.49 -25.61L51.6 -25.9L51.39 -25.99L51.2 -26.1L51.09 -25.89L50.89 -25.75L50.82 -25.53L50.8 -25.3L50.89 -25.05L50.8 -24.8L50.56 -24.91L50.42 -25.14L50.24 -25.33L50.2 -25.6L50.14 -25.78L50.18 -25.95L50.12 -26.12L50.1 -26.3L49.92 -26.43L49.71 -26.51L49.56 -26.68L49.5 -26.9L49.47 -27.09L49.4 -27.26L49.2 -27.32L49.1 -27.5L48.83 -27.62L48.68 -27.87L48.64 -28.15L48.5 -28.4L48.26 -28.53L48.13 -28.78L48.15 -29.06L48 -29.3L48 -29.48L47.94 -29.65L47.83 -29.79L47.7 -29.9L47.89 -30.07L48.13 -30.1L48.38 -30.09L48.6 -30L48.88 -30.17L49.2 -30.2L49.4 -30.27L49.62 -30.28L49.83 -30.23L50 -30.1L50.09 -29.88L50.18 -29.66L50.31 -29.45L50.5 -29.3L50.6 -29.12L50.68 -28.94L50.89 -28.89L51.02 -28.73L51.1 -28.54L51.24 -28.39L51.25 -28.19L51.3 -28L51.59 -27.93L51.89 -27.92L52.14 -27.74L52.4 -27.6L52.48 -27.44L52.6 -27.31L52.72 -27.16L52.9 -27.13L53.09 -27.14L53.27 -27.08L53.41 -26.97L53.5 -26.8L53.73 -26.55L54.04 -26.43L54.2 -26.34L54.39 -26.34L54.54 -26.42L54.7 -26.5L54.9 -26.42L55.12 -26.39L55.33 -26.46L55.5 -26.6L55.72 -26.69L55.9 -26.85L56.14 -26.91L56.3 -27.1L56.6 -27.06L56.9 -27L57 -26.67L56.92 -26.34L57.1 -26.06L57.3 -25.8L57.61 -25.85L57.91 -25.76L58.21 -25.71L58.5 -25.6L58.71 -25.36L59.01 -25.3L59.29 -25.43L59.6 -25.4L59.85 -25.38L60.06 -25.24L60.3 -25.15L60.55 -25.23L60.8 -25.23L61.04 -25.28L61.29 -25.25L61.5 -25.1L61.68 -25.1L61.85 -25.1L62.03 -25.1L62.2 -25.16L62.37 -25.11L62.55 -25.13L62.72 -25.19L62.9 -25.2L63.08 -25.07L63.27 -24.96L63.48 -25.02L63.7 -25.01L63.92 -25.05L64.13 -24.98L64.32 -25.07L64.5 -25.2L64.74 -25.09L64.96 -24.93L65.22 -25.03L65.49 -24.96L65.72 -25.05L65.94 -25.19L66.21 -25.21L66.4 -25.4L66.61 -25.25L66.7 -25L67 -24.87L67.19 -24.6L67.2 -24.26L67.4 -24L67.62 -24L67.81 -23.88L67.99 -23.76L68.2 -23.7L68.36 -23.52L68.39 -23.29L68.58 -23.16L68.8 -23.1L68.94 -22.93L69.16 -22.86L69.3 -22.69L69.5 -22.6L69.65 -22.82L69.89 -22.92L70.15 -22.97L70.4 -22.9L70.3 -22.62L70.1 -22.4L69.86 -22.42L69.66 -22.28L69.43 -22.3L69.2 -22.3L69.33 -22.03L69.6 -21.9L69.81 -21.76L69.97 -21.57L70.14 -21.39L70.3 -21.2L70.44 -21.07L70.56 -20.94L70.74 -20.88L70.9 -20.8L71.14 -20.89L71.36 -21L71.49 -21.22L71.63 -21.43L71.9 -21.43L72.11 -21.26L72.35 -21.34L72.6 -21.4L72.39 -21.13L72.42 -20.78L72.45 -20.44L72.7 -20.2L72.62 -19.9L72.62 -19.59L72.7 -19.29L72.8 -19L72.92 -18.68L73.18 -18.46L73.23 -18.13L73.2 -17.8L73.17 -17.62L73.16 -17.43L73.18 -17.24L73.09 -17.07L73.17 -16.9L73.25 -16.74L73.26 -16.54L73.4 -16.4L73.51 -16.12L73.51 -15.82L73.76 -15.62L73.8 -15.3L73.8 -15.12L73.81 -14.95L73.85 -14.76L74.01 -14.65L74.13 -14.52L74.3 -14.45L74.35 -14.27L74.4 -14.1L74.52 -13.82L74.72 -13.6L74.74 -13.3L74.7 -13L74.84 -12.81L75.01 -12.64L75.18 -12.45L75.2 -12.2L75.51 -12.08L75.67 -11.8L75.65 -11.48L75.8 -11.2L75.72 -10.89L75.86 -10.6L76.04 -10.36L76.2 -10.1L76.17 -9.77L76.2 -9.43L76.45 -9.2L76.6 -8.9L76.83 -8.7L77 -8.44L77.29 -8.34L77.5 -8.1L77.77 -8.31L78.1 -8.4L78.12 -8.62L78.21 -8.81L78.28 -9.02L78.4 -9.2L78.67 -9.4L79 -9.4L79.12 -9.62L79.07 -9.88L79.19 -10.09L79.3 -10.3L79.62 -10.25L79.9 -10.4L79.89 -10.68L79.98 -10.95L79.91 -11.22L79.9 -11.5L79.89 -11.72L80.02 -11.89L80.17 -12.03L80.28 -12.2L80.24 -12.4L80.26 -12.6L80.29 -12.8L80.3 -13L80.22 -13.32L80.36 -13.61L80.24 -13.89L80.2 -14.2L80.04 -14.45L80.08 -14.74L80.01 -15.03L80.1 -15.3L80.33 -15.38L80.46 -15.58L80.58 -15.8L80.8 -15.9L81.05 -15.99L81.21 -16.19L81.45 -16.27L81.7 -16.3L81.88 -16.49L82.14 -16.53L82.26 -16.75L82.3 -17L82.47 -17.26L82.7 -17.46L83 -17.55L83.3 -17.6L83.52 -17.79L83.79 -17.84L83.89 -18.11L84.1 -18.3L84.29 -18.41L84.37 -18.6L84.46 -18.79L84.48 -19L84.7 -19.03L84.86 -19.16L84.93 -19.37L85.1 -19.5L85.26 -19.61L85.34 -19.78L85.54 -19.8L85.68 -19.93L85.86 -19.85L86.05 -19.85L86.23 -19.92L86.4 -20L86.55 -20.22L86.8 -20.31L86.95 -20.53L86.9 -20.8L86.92 -20.98L86.94 -21.15L86.93 -21.33L87 -21.5L87.33 -21.58L87.56 -21.83L87.88 -21.75L88.2 -21.7L88.42 -21.67L88.64 -21.64L88.84 -21.75L89 -21.9L89.2 -21.91L89.4 -21.9L89.6 -21.85L89.8 -21.9L90.05 -21.94L90.21 -22.13L90.44 -22.22L90.6 -22.4L90.79 -22.52L91.02 -22.56L91.17 -22.74L91.4 -22.8L91.43 -22.61L91.53 -22.45L91.62 -22.28L91.8 -22.2L91.81 -21.86L91.9 -21.54L92.13 -21.29L92.3 -21L92.46 -20.76L92.7 -20.6L92.84 -20.43L92.82 -20.2L92.94 -20.04L93.1 -19.9L93.2 -19.65L93.33 -19.4L93.56 -19.24L93.7 -19L93.87 -18.78L94.13 -18.7L94.3 -18.48L94.3 -18.2L94.5 -18.04L94.56 -17.79L94.6 -17.53L94.5 -17.3L94.36 -16.99L94.28 -16.67L94.36 -16.34L94.3 -16L94.47 -15.9L94.61 -15.77L94.8 -15.83L95 -15.8L95.29 -15.86L95.56 -16.01L95.72 -16.27L96 -16.4L96.11 -16.6L96.28 -16.75L96.49 -16.82L96.7 -16.9L96.88 -16.81L97.01 -16.66L97.2 -16.61L97.4 -16.6L97.58 -16.33L97.58 -16.01L97.67 -15.71L97.6 -15.4L97.6 -15.13L97.54 -14.87L97.69 -14.64L97.8 -14.4L97.88 -14.23L97.85 -14.04L97.89 -13.86L97.92 -13.68L98 -13.51L98.1 -13.36L98.12 -13.17L98.2 -13L98.21 -12.73L98.22 -12.46L98.34 -12.22L98.5 -12L98.52 -11.82L98.51 -11.64L98.57 -11.46L98.67 -11.31L98.73 -11.14L98.7 -10.96L98.71 -10.78L98.7 -10.6L98.58 -10.28L98.43 -9.97L98.35 -9.64L98.3 -9.3L98.25 -9.03L98.41 -8.8L98.26 -8.57L98.3 -8.3L98.45 -8.1L98.6 -7.9L98.83 -7.71L98.92 -7.42L99.18 -7.28L99.3 -7L99.39 -6.77L99.54 -6.57L99.79 -6.55L100 -6.4L100.16 -6.24L100.26 -6.04L100.21 -5.81L100.3 -5.6L100.21 -5.35L100.17 -5.08L100.2 -4.8L100.4 -4.6L100.47 -4.34L100.6 -4.1L100.72 -3.86L100.8 -3.6L101.02 -3.51L101.19 -3.35L101.31 -3.14L101.3 -2.9L101.47 -2.79L101.62 -2.66L101.78 -2.51L101.8 -2.3L102.02 -2.08L102.26 -1.89L102.54 -1.76L102.8 -1.6L103 -1.64L103.2 -1.57L103.33 -1.41L103.5 -1.3L103.68 -1.36L103.86 -1.28L104.05 -1.29L104.2 -1.4L104.13 -1.7L104.1 -2L103.91 -2.17L103.78 -2.38L103.63 -2.59L103.5 -2.8L103.36 -3.05L103.35 -3.34L103.39 -3.62L103.4 -3.9L103.5 -4.11L103.53 -4.34L103.51 -4.57L103.5 -4.8L103.47 -4.99L103.32 -5.12L103.17 -5.22L103.1 -5.4L102.9 -5.59L102.81 -5.85L102.57 -5.98L102.4 -6.2L102.15 -6.29L101.9 -6.37L101.81 -6.62L101.6 -6.8L101.4 -6.71L101.19 -6.77L101.02 -6.9L100.8 -6.9L100.63 -7.18L100.4 -7.4L100.21 -7.54L100.11 -7.76L100.03 -7.97L100 -8.2L99.96 -8.45L99.85 -8.69L99.74 -8.94L99.8 -9.2L99.66 -9.37L99.56 -9.56L99.43 -9.75L99.2 -9.8L99.11 -10.08L99.2 -10.35L99.1 -10.62L99.2 -10.9L99.35 -11.14L99.56 -11.34L99.64 -11.61L99.6 -11.9L99.77 -12.08L99.85 -12.32L99.91 -12.55L99.9 -12.8L100.1 -13.07L100.1 -13.4L100.28 -13.28L100.5 -13.27L100.71 -13.32L100.9 -13.4L100.85 -13.19L100.94 -13L100.94 -12.8L100.9 -12.6L101.09 -12.7L101.3 -12.71L101.49 -12.62L101.7 -12.6L101.92 -12.48L102.17 -12.46L102.39 -12.34L102.5 -12.1L102.58 -11.77L102.8 -11.5L102.95 -11.34L103.16 -11.29L103.22 -11.09L103.3 -10.9L103.53 -10.76L103.77 -10.63L104.01 -10.47L104.3 -10.5L104.48 -10.37L104.6 -10.19L104.72 -10L104.8 -9.8L104.89 -9.51L104.85 -9.2L104.77 -8.9L104.8 -8.6L105 -8.65L105.2 -8.7L105.34 -8.97L105.6 -9.12L105.83 -9.29L106.1 -9.4L106.15 -9.58L106.27 -9.73L106.44 -9.81L106.6 -9.9L106.74 -10.07L106.91 -10.2L107.11 -10.3L107.3 -10.4L107.59 -10.52L107.85 -10.7L108.07 -10.96L108.4 -11L108.6 -11.18L108.71 -11.42L108.97 -11.46L109.2 -11.6L109.25 -11.91L109.13 -12.21L109.32 -12.47L109.3 -12.8L109.35 -13.05L109.3 -13.31L109.16 -13.53L109.2 -13.8L109.07 -14.11L108.82 -14.34L108.77 -14.68L108.9 -15L108.75 -15.25L108.64 -15.52L108.5 -15.78L108.3 -16L108.17 -16.28L107.98 -16.52L107.68 -16.59L107.4 -16.7L107.13 -16.88L106.83 -17L106.6 -17.25L106.6 -17.6L106.4 -17.71L106.23 -17.86L106.24 -18.1L106.1 -18.3L106.02 -18.51L105.84 -18.64L105.67 -18.79L105.6 -19L105.71 -19.2L105.67 -19.43L105.84 -19.58L105.9 -19.8L106.06 -20.02L106.19 -20.25L106.33 -20.5L106.6 -20.6L106.87 -20.68L107.11 -20.82L107.28 -21.05L107.4 -21.3L107.55 -21.46L107.76 -21.54L107.98 -21.6L108.2 -21.6L108.45 -21.63L108.7 -21.6L108.89 -21.76L109.13 -21.82L109.36 -21.73L109.6 -21.7L109.7 -21.55L109.8 -21.4L109.71 -21.13L109.75 -20.84L109.9 -20.59L109.9 -20.3L110.2 -20.36L110.5 -20.3L110.51 -20.51L110.43 -20.7L110.38 -20.9L110.4 -21.1L110.51 -21.29L110.69 -21.4L110.9 -21.42L111.1 -21.5L111.28 -21.53L111.46 -21.49L111.64 -21.46L111.82 -21.46L111.97 -21.57L112.15 -21.63L112.3 -21.74L112.4 -21.9L112.68 -22.05L112.98 -22.14L113.3 -22.07L113.6 -22.2L113.88 -22.35L114.2 -22.3L114.51 -22.32L114.81 -22.41L115.04 -22.62L115.3 -22.8L115.62 -22.77L115.92 -22.65L116.2 -22.8L116.5 -22.9L116.72 -23.09L116.95 -23.25L117.16 -23.44L117.4 -23.6L117.63 -23.77L117.7 -24.04L117.86 -24.27L118.1 -24.4L118.21 -24.61L118.42 -24.69L118.59 -24.83L118.8 -24.9L118.93 -25.08L119.14 -25.16L119.28 -25.34L119.5 -25.4L119.6 -25.58L119.6 -25.79L119.64 -26L119.6 -26.2L119.71 -26.48L119.9 -26.7L119.9 -26.92L120.03 -27.1L120.26 -27.13L120.4 -27.3L120.52 -27.49L120.6 -27.7L120.74 -27.88L120.8 -28.1L121.02 -28.22L121.23 -28.37L121.43 -28.51L121.6 -28.7L121.61 -28.95L121.58 -29.21L121.69 -29.45L121.9 -29.6L121.79 -29.79L121.74 -30.01L121.54 -30.13L121.4 -30.3L121.46 -30.52L121.63 -30.66L121.76 -30.84L121.9 -31L121.72 -31.27L121.7 -31.6L121.5 -31.83L121.21 -31.91L121.04 -32.15L120.9 -32.4L120.81 -32.59L120.77 -32.79L120.86 -32.99L120.8 -33.2L120.68 -33.46L120.48 -33.66L120.31 -33.91L120.3 -34.2L120.02 -34.35L119.76 -34.52L119.51 -34.72L119.2 -34.8L119.26 -35.03L119.25 -35.27L119.42 -35.44L119.6 -35.6L119.83 -35.69L120.08 -35.64L120.3 -35.76L120.4 -36L120.66 -36.18L120.9 -36.4L121.08 -36.53L121.31 -36.51L121.49 -36.63L121.71 -36.62L121.92 -36.65L122.14 -36.67L122.28 -36.85L122.5 -36.9L122.33 -37.05L122.11 -37.09L122.01 -37.3L121.8 -37.4L121.57 -37.54L121.33 -37.69L121.07 -37.77L120.8 -37.8L120.63 -37.73L120.48 -37.63L120.3 -37.59L120.13 -37.65L119.94 -37.62L119.79 -37.51L119.68 -37.36L119.6 -37.2L119.44 -37.31L119.25 -37.31L119.09 -37.4L118.9 -37.4L118.86 -37.57L118.81 -37.74L118.82 -37.92L118.8 -38.1L118.49 -38.2L118.19 -38.34L117.87 -38.41L117.6 -38.6L117.58 -38.86L117.7 -39.1L117.9 -39.15L118.1 -39.09L118.3 -39.11L118.5 -39.1L118.69 -39.19L118.9 -39.22L119.01 -39.39L119.2 -39.5L119.37 -39.67L119.57 -39.8L119.75 -39.97L120 -40L120.22 -40.15L120.48 -40.26L120.63 -40.51L120.9 -40.6L121.13 -40.6L121.36 -40.6L121.56 -40.71L121.7 -40.9L121.79 -40.73L121.77 -40.54L121.82 -40.37L121.9 -40.2L121.73 -40.07L121.59 -39.91L121.55 -39.7L121.5 -39.5L121.47 -39.31L121.39 -39.13L121.29 -38.97L121.2 -38.8L121.43 -38.93L121.7 -38.9L121.76 -39.09L121.89 -39.25L122.05 -39.37L122.2 -39.5L122.28 -39.72L122.46 -39.88L122.69 -39.89L122.9 -40L123.04 -39.86L123.22 -39.8L123.41 -39.87L123.6 -39.8L123.78 -39.85L123.94 -39.94L124.11 -39.89L124.3 -39.9L124.63 -39.81L124.9 -39.6L125.08 -39.46L125.3 -39.4L125.24 -39.23L125.19 -39.05L125.08 -38.89L125.1 -38.7L125 -38.48L125.03 -38.24L125.08 -38L125.2 -37.8L125.44 -37.82L125.64 -37.68L125.87 -37.69L126.1 -37.7L126.23 -37.58L126.35 -37.45L126.43 -37.28L126.6 -37.2L126.55 -36.95L126.51 -36.7L126.52 -36.45L126.5 -36.2L126.44 -35.95L126.36 -35.71L126.25 -35.46L126.3 -35.2L126.4 -35.04L126.41 -34.86L126.43 -34.68L126.4 -34.5L126.63 -34.62L126.89 -34.62L127.14 -34.56L127.4 -34.6L127.65 -34.66L127.9 -34.61L128.14 -34.69L128.3 -34.9L128.54 -34.93L128.74 -35.08L128.97 -35.14L129.2 -35.2L129.32 -35.4L129.26 -35.63L129.34 -35.84L129.5 -36L129.64 -36.27L129.66 -36.57L129.49 -36.81L129.4 -37.1L129.23 -37.21L129.09 -37.35L128.93 -37.49L128.9 -37.7L128.89 -37.99L128.77 -38.27L128.47 -38.34L128.3 -38.6L128.1 -38.78L127.92 -38.97L127.77 -39.22L127.5 -39.3L127.57 -39.55L127.6 -39.8L127.89 -39.91L128.18 -39.81L128.37 -40.02L128.6 -40.2L128.77 -40.26L128.91 -40.39L129.09 -40.42L129.27 -40.36L129.47 -40.65L129.7 -40.9L129.69 -41.11L129.75 -41.31L129.82 -41.51L129.9 -41.7L130.01 -41.88L130.21 -41.95L130.26 -42.15L130.4 -42.3L130.6 -42.45L130.8 -42.6L131.08 -42.67L131.37 -42.72L131.57 -42.93L131.8 -43.1L132 -43.05L132.2 -43.09L132.39 -43L132.6 -43L132.85 -43.13L133.13 -43.07L133.35 -42.9L133.6 -42.8L133.84 -42.95L133.99 -43.19L134.26 -43.25L134.5 -43.4L134.78 -43.46L135.03 -43.6L135.23 -43.8L135.5 -43.9L135.56 -44.09L135.65 -44.27L135.7 -44.47L135.87 -44.6L136 -44.76L136.22 -44.8L136.4 -44.89L136.6 -44.9L136.65 -45.08L136.81 -45.19L137 -45.18L137.15 -45.29L137.37 -45.56L137.6 -45.8L137.77 -45.89L137.85 -46.06L138.03 -46.13L138.15 -46.27L138.29 -46.4L138.32 -46.59L138.47 -46.71L138.5 -46.9L138.73 -47.15L138.93 -47.43L139.02 -47.58L139.03 -47.77L139.2 -47.84L139.3 -48L139.48 -48.21L139.65 -48.42L139.92 -48.52L140.2 -48.5L140.21 -48.8L140.4 -49.04L140.4 -49.33L140.5 -49.6L140.54 -49.85L140.63 -50.09L140.6 -50.34L140.6 -50.6L140.74 -50.83L140.73 -51.11L140.85 -51.34L140.9 -51.6L140.94 -51.83L141.11 -51.98L141.21 -52.18L141.4 -52.3L141.31 -52.49L141.27 -52.69L141.31 -52.89L141.3 -53.1L141.03 -53.17L140.8 -53.32L140.66 -53.57L140.4 -53.7L140.12 -53.76L139.87 -53.88L139.58 -53.96L139.4 -54.2L139.19 -54.17L139.03 -54.04L138.83 -54.07L138.64 -54.15L138.45 -54.11L138.29 -53.97L138.1 -53.99L137.9 -54L137.71 -54L137.55 -53.92L137.37 -53.86L137.2 -53.8L137.28 -54.01L137.27 -54.23L137.39 -54.42L137.6 -54.5L137.39 -54.48L137.2 -54.55L136.99 -54.5L136.8 -54.6L136.61 -54.57L136.41 -54.6L136.22 -54.55L136.04 -54.49L135.87 -54.6L135.67 -54.61L135.49 -54.69L135.3 -54.7L135.47 -54.94L135.75 -55.05L135.91 -55.28L136.1 -55.5L136.29 -55.44L136.49 -55.45L136.67 -55.54L136.87 -55.55L137.07 -55.59L137.22 -55.74L137.34 -55.91L137.4 -56.1L137.57 -56.16L137.76 -56.17L137.87 -56.31L137.98 -56.45L138.17 -56.48L138.33 -56.58L138.46 -56.71L138.5 -56.9L138.68 -57.05L138.91 -57.04L139.06 -57.19L139.19 -57.36L139.39 -57.43L139.57 -57.54L139.75 -57.65L139.9 -57.8L140.1 -57.88L140.25 -58.03L140.43 -58.14L140.64 -58.19L140.77 -58.37L140.87 -58.58L141.08 -58.66L141.3 -58.7L141.48 -58.63L141.66 -58.66L141.83 -58.74L141.97 -58.86L142.14 -58.94L142.32 -58.98L142.36 -59.17L142.5 -59.3L142.63 -59.16L142.81 -59.11L142.99 -59.12L143.16 -59.17L143.46 -59.35L143.8 -59.4L144.03 -59.32L144.27 -59.3L144.45 -59.12L144.7 -59.08L144.94 -59.12L145.17 -59.2L145.38 -59.31L145.6 -59.4L145.81 -59.38L146 -59.45L146.21 -59.47L146.41 -59.48L146.62 -59.54L146.83 -59.51L147 -59.38L147.2 -59.3L147.4 -59.3L147.58 -59.24L147.77 -59.29L147.95 -59.37L148.14 -59.42L148.32 -59.51L148.51 -59.46L148.7 -59.4L148.99 -59.48L149.21 -59.69L149.5 -59.76L149.8 -59.7L150.02 -59.7L150.24 -59.73L150.41 -59.59L150.62 -59.5L150.66 -59.28L150.8 -59.1L150.98 -58.96L151.2 -58.9L151.4 -58.98L151.61 -58.93L151.83 -58.95L151.99 -59.11L152.18 -59.04L152.39 -59L152.59 -59.01L152.8 -59L152.88 -59.17L153.06 -59.26L153.24 -59.24L153.41 -59.3L153.6 -59.3L153.76 -59.2L153.95 -59.19L154.1 -59.3L154.32 -59.43L154.57 -59.4L154.78 -59.3L155 -59.2L154.8 -59.39L154.53 -59.43L154.36 -59.64L154.3 -59.9L154.6 -60.05L154.84 -60.3L155.01 -60.28L155.19 -60.23L155.34 -60.32L155.5 -60.4L155.52 -60.64L155.67 -60.84L155.85 -60.99L155.96 -61.21L156.15 -61.36L156.39 -61.39L156.59 -61.5L156.8 -61.6L157.08 -61.62L157.3 -61.79L157.54 -61.63L157.82 -61.63L157.99 -61.85L158.26 -61.94L158.53 -61.98L158.8 -61.9L158.97 -62.03L159.13 -62.16L159.34 -62.12L159.55 -62.2L159.72 -62.06L159.87 -61.91L160.08 -61.9L160.3 -61.9L160.32 -61.69L160.38 -61.48L160.35 -61.26L160.2 -61.1L160.41 -61.13L160.61 -61.2L160.82 -61.21L161.03 -61.2L161.19 -61.05L161.41 -61.05L161.6 -60.97L161.8 -60.9L161.71 -60.74L161.62 -60.58L161.49 -60.44L161.3 -60.4L161.14 -60.15L160.85 -60.05L160.57 -60L160.3 -59.9L160.17 -59.72L159.96 -59.68L159.78 -59.58L159.6 -59.5L159.45 -59.27L159.43 -59L159.18 -58.89L158.96 -58.74L158.88 -58.49L158.65 -58.35L158.48 -58.18L158.3 -58L158.15 -57.89L158.05 -57.73L157.87 -57.68L157.68 -57.68L157.51 -57.65L157.33 -57.67L157.17 -57.74L157 -57.8L156.96 -57.55L156.77 -57.38L156.74 -57.14L156.7 -56.9L156.52 -56.63L156.36 -56.35L156.14 -56.11L155.9 -55.9L155.85 -55.59L155.94 -55.3L155.87 -54.98L155.6 -54.8L155.47 -54.62L155.41 -54.41L155.48 -54.21L155.5 -53.99L155.62 -53.81L155.59 -53.59L155.64 -53.39L155.7 -53.2L155.67 -52.86L155.85 -52.57L156.14 -52.39L156.3 -52.1L156.33 -51.8L156.42 -51.52L156.55 -51.26L156.7 -51L156.95 -51.07L157.16 -51.23L157.35 -51.42L157.6 -51.5L157.58 -51.72L157.72 -51.9L157.91 -51.99L158.05 -52.15L158.09 -52.36L158.16 -52.56L158.29 -52.73L158.5 -52.8L158.66 -52.93L158.87 -52.93L159.06 -52.87L159.25 -52.9L159.45 -52.94L159.63 -53.02L159.74 -53.19L159.9 -53.3L159.91 -53.49L160.02 -53.64L160.04 -53.82L160 -54L160.25 -53.89L160.53 -53.92L160.76 -54.06L161.01 -54.15L161.27 -54.23L161.48 -54.39L161.68 -54.56L161.8 -54.8L161.86 -54.97L161.99 -55.1L161.97 -55.27L161.97 -55.45L162.09 -55.76L162.1 -56.1L162.34 -55.99L162.61 -56.01L162.87 -56.06L163.1 -56.2L163.02 -56.52L162.92 -56.83L162.82 -57.15L162.6 -57.4L162.8 -57.4L162.95 -57.52L163.05 -57.69L163.2 -57.8L163.29 -58.1L163.44 -58.38L163.71 -58.58L163.8 -58.9L163.89 -59.06L163.99 -59.21L164.12 -59.36L164.31 -59.4L164.47 -59.49L164.65 -59.53L164.73 -59.7L164.9 -59.8L165.02 -59.95L165.21 -59.99L165.39 -60L165.56 -59.97L165.64 -60.14L165.76 -60.27L165.94 -60.31L166.1 -60.4L166.3 -60.5L166.51 -60.55L166.74 -60.5L166.94 -60.62L167.12 -60.48L167.34 -60.45L167.52 -60.32L167.7 -60.2L167.91 -59.99L168.16 -59.85L168.45 -59.83L168.73 -59.92L169.01 -59.9L169.27 -59.85L169.54 -59.92L169.8 -60L170.04 -60.12L170.18 -60.35L170.44 -60.42L170.7 -60.4L170.9 -60.47L171.1 -60.47L171.32 -60.46L171.5 -60.58L171.7 -60.65L171.83 -60.83L172.01 -60.92L172.2 -61L172.34 -61.17L172.5 -61.32L172.72 -61.34L172.93 -61.39L173.16 -61.33L173.38 -61.39L173.52 -61.56L173.7 -61.7L173.85 -61.83L174.05 -61.87L174.23 -61.99L174.44 -61.95L174.63 -61.96L174.82 -62L175.01 -62.06L175.2 -62.1L175.47 -62.2L175.72 -62.33L176 -62.44L176.29 -62.37L176.59 -62.42L176.82 -62.61L177.11 -62.56L177.4 -62.5L177.71 -62.54L178.01 -62.47L178.29 -62.6L178.6 -62.6L178.78 -62.66L178.93 -62.78L179.12 -62.75L179.3 -62.8L179.26 -62.97L179.22 -63.15L179.17 -63.32L179.2 -63.5L178.99 -63.7L178.73 -63.83L178.48 -63.97L178.3 -64.2L178.01 -64.25L177.8 -64.46L177.51 -64.49L177.3 -64.7L177.48 -64.74L177.67 -64.72L177.82 -64.61L177.99 -64.53L178.17 -64.47L178.36 -64.43L178.53 -64.51L178.7 -64.6L179.02 -64.72L179.36 -64.75L179.68 -64.89L180 -65L180.24 -65.1L180.5 -65.09L180.75 -65.07L181 -65L181.21 -65.51L181.07 -66.04L180.85 -66.51L180.66 -67L180.76 -67.57L180.47 -68.06L180.64 -68.58L181 -69L180.75 -68.9L180.52 -68.75L180.24 -68.74L180 -68.9L179.81 -68.95L179.64 -69.05L179.44 -69.09L179.25 -69.02L179.07 -69.07L178.89 -69.15L178.76 -69.29L178.6 -69.4L178.24 -69.37L177.95 -69.15L177.6 -69.28L177.25 -69.16L177.15 -69.54L176.82 -69.75L176.43 -69.69L176.1 -69.9L175.78 -69.86L175.47 -69.91L175.15 -69.92L174.84 -70.02L174.52 -70.03L174.2 -70.05L173.9 -69.92L173.6 -69.8L173.17 -69.87L172.89 -70.2L172.48 -70.09L172.08 -70.23L171.68 -70.24L171.28 -70.24L170.9 -70.14L170.5 -70.1L170.43 -69.92L170.35 -69.75L170.18 -69.65L170 -69.6L169.73 -69.67L169.45 -69.66L169.18 -69.66L168.9 -69.67L168.61 -69.68L168.35 -69.56L168.08 -69.59L167.8 -69.6L167.61 -69.56L167.47 -69.42L167.28 -69.45L167.1 -69.51L166.93 -69.44L166.75 -69.46L166.58 -69.53L166.4 -69.5L166.04 -69.29L165.62 -69.29L165.24 -69.11L164.82 -69.14L164.5 -69.42L164.1 -69.53L163.7 -69.61L163.3 -69.7L163.01 -69.57L162.7 -69.63L162.47 -69.84L162.17 -69.93L161.9 -69.8L161.67 -69.62L161.38 -69.6L161.1 -69.5L161.16 -69.83L161.02 -70.13L160.74 -70.31L160.6 -70.6L160.29 -70.6L160 -70.72L159.69 -70.7L159.4 -70.8L159.03 -70.81L158.67 -70.84L158.44 -71.13L158.09 -71.27L157.69 -71.24L157.36 -71.46L157.08 -71.18L156.7 -71.1L156.19 -71.25L155.67 -71.17L155.14 -71.24L154.75 -71.62L154.37 -71.23L153.83 -71.18L153.39 -70.93L152.9 -70.8L152.61 -71L152.26 -71L151.92 -70.91L151.58 -70.99L151.4 -71.31L151.11 -71.53L150.74 -71.44L150.4 -71.6L150.17 -71.78L149.91 -71.9L149.62 -71.98L149.34 -71.91L149.15 -72.14L148.86 -72.23L148.59 -72.33L148.3 -72.3L148.02 -72.31L147.78 -72.45L147.53 -72.34L147.25 -72.34L147 -72.46L146.72 -72.4L146.45 -72.43L146.2 -72.3L145.83 -72.31L145.46 -72.24L145.09 -72.29L144.73 -72.34L144.33 -72.39L143.95 -72.25L143.58 -72.41L143.3 -72.7L143.03 -72.77L142.8 -72.93L142.54 -72.81L142.25 -72.86L141.98 -72.83L141.72 -72.83L141.47 -72.72L141.2 -72.7L140.87 -72.71L140.54 -72.65L140.23 -72.54L139.9 -72.5L139.67 -72.33L139.49 -72.1L139.32 -71.87L139.2 -71.6L138.96 -71.65L138.72 -71.58L138.47 -71.6L138.25 -71.49L138.01 -71.51L137.78 -71.59L137.54 -71.51L137.3 -71.6L137.09 -71.63L136.88 -71.64L136.67 -71.69L136.45 -71.68L136.24 -71.59L136.02 -71.52L135.78 -71.55L135.6 -71.7L135.32 -71.71L135.05 -71.62L134.77 -71.6L134.51 -71.48L134.25 -71.33L133.96 -71.39L133.68 -71.35L133.4 -71.4L133.12 -71.36L132.89 -71.2L132.6 -71.23L132.36 -71.06L132.12 -70.91L131.83 -70.93L131.56 -70.91L131.3 -70.8L130.98 -70.95L130.64 -70.86L130.32 -70.9L130 -71L129.95 -71.29L129.8 -71.53L129.57 -71.7L129.3 -71.8L129.15 -71.92L129.1 -72.1L128.97 -72.24L128.78 -72.26L128.68 -72.41L128.61 -72.57L128.6 -72.75L128.5 -72.9L128.29 -72.92L128.09 -72.95L127.89 -73.01L127.69 -73.02L127.53 -73.16L127.34 -73.26L127.18 -73.4L127.1 -73.6L126.83 -73.54L126.57 -73.59L126.34 -73.73L126.15 -73.93L125.9 -73.87L125.7 -73.69L125.45 -73.62L125.2 -73.6L124.99 -73.45L124.73 -73.46L124.48 -73.41L124.24 -73.47L124 -73.51L123.77 -73.58L123.56 -73.72L123.3 -73.7L123.17 -73.57L123.08 -73.4L122.89 -73.41L122.72 -73.32L122.54 -73.29L122.39 -73.19L122.23 -73.11L122.1 -73L121.79 -73.01L121.48 -72.97L121.16 -72.97L120.9 -72.77L120.58 -72.8L120.27 -72.74L119.96 -72.8L119.7 -73L119.42 -73.17L119.32 -73.49L119.02 -73.59L118.7 -73.6L118.26 -73.59L117.83 -73.69L117.4 -73.86L117.19 -74.28L116.79 -74.16L116.41 -73.97L115.98 -74.02L115.6 -73.8L115.33 -73.84L115.09 -73.71L114.86 -73.59L114.61 -73.51L114.38 -73.36L114.11 -73.39L113.84 -73.44L113.6 -73.3L113.37 -73.35L113.24 -73.53L113.09 -73.7L112.9 -73.8L112.62 -74.05L112.24 -74.07L111.95 -74.29L111.58 -74.33L111.24 -74.23L110.91 -74.09L110.56 -73.97L110.2 -74L109.97 -74.02L109.79 -74.17L109.67 -74.35L109.5 -74.5L109.92 -74.5L110.3 -74.67L110.7 -74.79L111.11 -74.7L111.25 -75.11L111.6 -75.36L111.95 -75.59L112.3 -75.8L112.13 -75.9L111.93 -75.88L111.77 -75.98L111.61 -76.08L111.46 -76.2L111.33 -76.34L111.22 -76.51L111.2 -76.7L110.78 -76.65L110.36 -76.55L109.93 -76.51L109.55 -76.31L109.24 -76.66L108.77 -76.71L108.34 -76.59L107.9 -76.7L107.69 -76.88L107.41 -76.86L107.15 -76.81L106.89 -76.88L106.66 -77.03L106.51 -77.26L106.23 -77.23L106 -77.4L105.79 -77.3L105.56 -77.32L105.33 -77.33L105.11 -77.31L104.95 -77.49L104.78 -77.66L104.54 -77.69L104.3 -77.7L104 -77.89L103.65 -77.96L103.29 -77.94L102.98 -77.77L102.65 -77.64L102.3 -77.71L101.99 -77.58L101.7 -77.4L101.55 -77.12L101.29 -76.96L101.07 -76.75L100.8 -76.6L100.54 -76.62L100.32 -76.77L100.06 -76.78L99.81 -76.86L99.69 -76.6L99.43 -76.49L99.17 -76.43L98.9 -76.4L98.66 -76.26L98.39 -76.24L98.15 -76.1L97.87 -76.09L97.61 -76.14L97.34 -76.16L97.07 -76.2L96.8 -76.2L96.49 -76.2L96.25 -76.39L95.96 -76.3L95.67 -76.38L95.38 -76.4L95.11 -76.26L94.82 -76.21L94.6 -76L94.28 -76.1L94.02 -76.29L93.7 -76.42L93.36 -76.33L93.16 -76.05L92.83 -75.97L92.5 -75.94L92.2 -75.8L91.88 -75.69L91.56 -75.78L91.31 -75.57L91.03 -75.4L90.72 -75.48L90.41 -75.41L90.09 -75.34L89.8 -75.5L89.49 -75.69L89.13 -75.73L88.78 -75.66L88.43 -75.76L88.08 -75.67L87.79 -75.47L87.46 -75.35L87.2 -75.1L87.02 -74.88L86.8 -74.7L86.68 -74.47L86.75 -74.23L86.61 -74.02L86.4 -73.9L86.58 -73.76L86.8 -73.76L87 -73.68L87.2 -73.6L86.94 -73.77L86.63 -73.81L86.33 -73.76L86.05 -73.66L85.76 -73.53L85.45 -73.56L85.18 -73.69L84.9 -73.8L84.61 -73.6L84.27 -73.57L83.94 -73.53L83.6 -73.53L83.25 -73.52L82.96 -73.73L82.62 -73.68L82.3 -73.8L82.08 -73.79L81.9 -73.67L81.77 -73.5L81.61 -73.35L81.39 -73.38L81.21 -73.27L80.99 -73.3L80.8 -73.2L80.74 -72.92L80.65 -72.65L80.66 -72.35L80.5 -72.1L80.74 -71.9L80.98 -71.7L81.29 -71.73L81.6 -71.7L81.43 -71.77L81.24 -71.76L81.1 -71.89L80.93 -71.96L80.89 -72.14L80.85 -72.32L80.74 -72.48L80.6 -72.6L80.38 -72.49L80.17 -72.36L79.91 -72.37L79.67 -72.33L79.43 -72.27L79.18 -72.3L78.93 -72.29L78.7 -72.4L78.46 -72.32L78.2 -72.31L77.94 -72.3L77.7 -72.2L77.51 -72.05L77.26 -72.04L77.03 -72.09L76.8 -72L77.02 -71.92L77.25 -71.92L77.39 -71.72L77.61 -71.63L77.83 -71.7L78.06 -71.76L78.26 -71.62L78.5 -71.6L78.32 -71.58L78.15 -71.63L77.98 -71.58L77.81 -71.54L77.66 -71.43L77.54 -71.3L77.37 -71.25L77.2 -71.2L77.1 -71.4L76.93 -71.54L76.72 -71.6L76.51 -71.63L76.34 -71.49L76.12 -71.46L75.91 -71.46L75.7 -71.5L75.55 -71.74L75.59 -72.01L75.54 -72.27L75.4 -72.5L75.13 -72.71L74.79 -72.72L74.47 -72.81L74.2 -73L74.02 -72.91L73.81 -72.91L73.65 -73.02L73.45 -73.07L73.33 -72.92L73.15 -72.85L72.96 -72.81L72.8 -72.7L72.74 -72.45L72.8 -72.2L72.52 -72.1L72.32 -71.89L72.14 -71.66L71.9 -71.5L72.07 -71.33L72.08 -71.08L72.27 -70.93L72.5 -70.9L72.65 -70.62L72.65 -70.3L72.52 -70.01L72.5 -69.7L72.65 -69.53L72.71 -69.31L72.83 -69.12L72.87 -68.9L73.04 -68.75L73.19 -68.58L73.41 -68.53L73.6 -68.4L73.44 -68.15L73.33 -67.87L73.05 -67.76L72.8 -67.6L72.7 -67.42L72.56 -67.27L72.35 -67.24L72.18 -67.11L72.01 -67.01L71.86 -66.88L71.71 -66.72L71.5 -66.7L71.32 -66.66L71.13 -66.65L70.95 -66.61L70.8 -66.5L71.01 -66.52L71.16 -66.65L71.37 -66.67L71.52 -66.81L71.64 -66.98L71.64 -67.2L71.83 -67.3L71.9 -67.5L71.8 -67.75L71.9 -68.01L71.97 -68.25L72 -68.5L71.77 -68.64L71.62 -68.86L71.36 -68.84L71.1 -68.9L70.86 -68.96L70.61 -68.94L70.37 -68.89L70.13 -68.88L69.87 -68.87L69.62 -68.9L69.36 -68.82L69.2 -68.6L68.9 -68.56L68.59 -68.53L68.3 -68.65L68.1 -68.9L67.98 -69.04L67.82 -69.12L67.64 -69.1L67.46 -69.11L67.23 -69.35L67 -69.6L67.03 -69.81L67.03 -70.02L67.1 -70.22L67.2 -70.4L67.08 -70.58L67.02 -70.79L67 -71.01L66.9 -71.2L67.02 -71.37L67.17 -71.51L67.36 -71.61L67.5 -71.76L67.67 -71.91L67.89 -71.92L68.1 -72L68.2 -72.2L68.39 -72.45L68.63 -72.65L68.87 -72.88L69.2 -72.9L69.37 -72.98L69.52 -73.11L69.71 -73.04L69.9 -73.1L70.07 -73.01L70.2 -72.87L70.39 -72.82L70.55 -72.73L70.73 -72.79L70.92 -72.84L71.11 -72.81L71.3 -72.8L71.65 -72.83L71.95 -73.01L72.27 -72.88L72.6 -72.8L72.49 -72.49L72.21 -72.31L71.92 -72.19L71.6 -72.2L71.42 -72.14L71.26 -72.03L71.08 -71.95L70.9 -71.9L70.94 -71.72L70.9 -71.54L71 -71.39L71 -71.2L70.8 -71.3L70.59 -71.25L70.38 -71.18L70.18 -71.27L70.09 -71.06L69.91 -70.93L69.69 -70.93L69.5 -70.8L69.3 -70.96L69.08 -71.11L68.81 -71.12L68.6 -71.3L68.36 -71.13L68.07 -71.1L67.92 -70.86L67.8 -70.6L67.75 -70.42L67.81 -70.24L67.73 -70.07L67.59 -69.96L67.49 -69.8L67.49 -69.61L67.35 -69.5L67.2 -69.4L66.92 -69.28L66.61 -69.25L66.3 -69.21L66 -69.2L65.83 -69.29L65.64 -69.24L65.45 -69.24L65.28 -69.17L65.12 -69.27L64.98 -69.4L64.79 -69.37L64.6 -69.4L64.4 -69.35L64.22 -69.44L64.05 -69.34L63.86 -69.34L63.65 -69.34L63.49 -69.46L63.31 -69.54L63.2 -69.7L62.87 -69.75L62.56 -69.85L62.22 -69.92L61.9 -69.8L61.72 -69.77L61.54 -69.77L61.39 -69.65L61.2 -69.66L61.01 -69.7L60.83 -69.62L60.64 -69.66L60.5 -69.8L60.53 -69.57L60.43 -69.37L60.3 -69.19L60.2 -69L59.95 -68.82L59.66 -68.67L59.41 -68.47L59.1 -68.4L58.95 -68.71L58.64 -68.84L58.32 -68.86L58 -68.9L57.67 -68.83L57.44 -68.57L57.12 -68.55L56.8 -68.6L56.64 -68.52L56.46 -68.48L56.28 -68.48L56.1 -68.47L55.92 -68.5L55.75 -68.44L55.57 -68.46L55.4 -68.4L55.19 -68.39L55.01 -68.49L54.84 -68.59L54.66 -68.67L54.48 -68.79L54.32 -68.93L54.11 -68.98L53.9 -68.9L53.88 -68.57L53.7 -68.3L53.4 -68.38L53.2 -68.62L52.9 -68.65L52.6 -68.6L52.42 -68.63L52.24 -68.61L52.07 -68.66L51.89 -68.69L51.76 -68.56L51.58 -68.53L51.47 -68.37L51.3 -68.3L51.05 -68.29L50.81 -68.24L50.61 -68.11L50.43 -67.93L50.23 -67.77L49.99 -67.7L49.74 -67.72L49.5 -67.8L49.34 -67.73L49.22 -67.59L49.04 -67.59L48.87 -67.59L48.53 -67.56L48.2 -67.6L48.02 -67.62L47.85 -67.67L47.68 -67.64L47.5 -67.63L47.33 -67.71L47.16 -67.74L46.98 -67.72L46.8 -67.7L46.53 -67.88L46.28 -68.08L46.04 -68.29L45.8 -68.5L45.64 -68.4L45.48 -68.3L45.3 -68.27L45.11 -68.3L44.91 -68.33L44.74 -68.22L44.55 -68.28L44.4 -68.4L44.24 -68.24L44.03 -68.2L43.81 -68.14L43.6 -68.2L43.8 -68.01L43.95 -67.79L44.13 -67.57L44.2 -67.3L44.19 -67.07L44.07 -66.86L43.95 -66.67L43.8 -66.5L43.88 -66.33L44.05 -66.25L44.15 -66.1L44.3 -66L44.12 -66.1L43.91 -66.12L43.72 -66.22L43.6 -66.4L43.41 -66.32L43.2 -66.25L43.02 -66.38L42.8 -66.4L42.61 -66.37L42.45 -66.28L42.3 -66.17L42.14 -66.08L41.95 -66.1L41.77 -66.06L41.58 -66.05L41.4 -66.1L41.21 -66.08L41.04 -66.16L40.86 -66.15L40.68 -66.14L40.55 -65.99L40.35 -65.97L40.24 -65.82L40.1 -65.7L39.91 -65.59L39.72 -65.48L39.63 -65.28L39.5 -65.1L39.26 -65.2L39.01 -65.15L38.8 -65.01L38.61 -64.85L38.38 -64.79L38.17 -64.71L37.93 -64.75L37.7 -64.7L37.46 -64.54L37.17 -64.5L36.91 -64.39L36.7 -64.2L36.4 -64.31L36.09 -64.23L35.82 -64.38L35.6 -64.6L35.42 -64.78L35.31 -65.01L35.16 -65.23L34.9 -65.3L34.85 -65.6L34.8 -65.9L34.64 -66.05L34.51 -66.24L34.33 -66.38L34.1 -66.4L33.86 -66.39L33.62 -66.38L33.42 -66.5L33.2 -66.6L33.41 -66.52L33.63 -66.56L33.84 -66.53L34.05 -66.51L34.23 -66.65L34.46 -66.7L34.67 -66.61L34.9 -66.6L35.14 -66.45L35.42 -66.46L35.7 -66.45L35.93 -66.62L36.1 -66.41L36.37 -66.32L36.63 -66.34L36.9 -66.3L37.12 -66.3L37.34 -66.25L37.56 -66.3L37.77 -66.36L38 -66.32L38.16 -66.14L38.37 -66.04L38.6 -66.1L38.8 -66.3L39.08 -66.36L39.35 -66.35L39.61 -66.26L39.85 -66.35L40.11 -66.35L40.33 -66.52L40.6 -66.5L40.73 -66.67L40.94 -66.72L40.95 -66.94L41.1 -67.1L40.91 -67.27L40.67 -67.34L40.62 -67.58L40.5 -67.8L40.4 -68L40.22 -68.13L40.01 -68.17L39.81 -68.23L39.6 -68.27L39.39 -68.24L39.18 -68.21L39 -68.1L38.82 -68L38.62 -68.05L38.45 -68.14L38.25 -68.12L38.15 -68.3L37.96 -68.37L37.78 -68.43L37.6 -68.5L37.44 -68.68L37.27 -68.84L37.07 -68.98L36.83 -69.03L36.6 -68.96L36.36 -69L36.13 -69.04L35.9 -69.1L35.64 -69.17L35.38 -69.08L35.16 -69.23L34.91 -69.31L34.67 -69.17L34.39 -69.17L34.14 -69.29L33.9 -69.4L33.69 -69.37L33.48 -69.38L33.31 -69.51L33.11 -69.59L32.91 -69.63L32.71 -69.69L32.51 -69.77L32.3 -69.7L32.08 -69.72L31.86 -69.68L31.66 -69.77L31.46 -69.85L31.23 -69.82L31.03 -69.91L30.81 -69.95L30.6 -69.9L30.41 -69.97L30.2 -69.96L30 -69.95L29.79 -69.94L29.58 -69.95L29.41 -70.07L29.2 -70.08L29 -70.1L28.82 -70.18L28.71 -70.33L28.54 -70.43L28.34 -70.42L28.17 -70.49L28.01 -70.59L27.85 -70.71L27.8 -70.9L27.61 -70.89L27.46 -70.77L27.28 -70.73L27.1 -70.8L26.92 -70.84L26.74 -70.81L26.56 -70.81L26.4 -70.9L26.06 -70.95L25.83 -71.21L25.51 -71.17L25.2 -71.1L25.04 -71L24.86 -70.93L24.67 -70.97L24.48 -71.02L24.31 -70.93L24.18 -70.78L23.99 -70.77L23.8 -70.8L23.49 -70.8L23.18 -70.85L22.88 -70.75L22.6 -70.6L22.49 -70.42L22.4 -70.22L22.21 -70.12L21.99 -70.09L21.8 -70.15L21.6 -70.18L21.41 -70.07L21.2 -70.1L21.01 -70L20.8 -70.05L20.6 -70L20.4 -70.02L20.2 -70.01L20 -69.96L19.8 -69.93L19.6 -70L19.5 -69.84L19.33 -69.76L19.2 -69.63L19.01 -69.6L18.83 -69.64L18.66 -69.66L18.48 -69.7L18.3 -69.7L18.14 -69.57L17.94 -69.5L17.74 -69.6L17.53 -69.56L17.38 -69.44L17.23 -69.31L17.08 -69.18L16.9 -69.1L16.61 -68.93L16.34 -68.71L16.04 -68.56L15.7 -68.5L15.46 -68.28L15.16 -68.14L14.85 -68.01L14.6 -67.8L14.41 -67.74L14.31 -67.56L14.2 -67.41L14.03 -67.32L13.91 -67.16L13.86 -66.97L13.76 -66.81L13.6 -66.7L13.26 -66.65L13 -66.42L12.83 -66.14L12.6 -65.9L12.41 -65.72L12.33 -65.47L12.13 -65.32L12 -65.1L11.8 -64.83L11.62 -64.54L11.51 -64.4L11.35 -64.32L11.18 -64.31L11 -64.3L10.69 -64.18L10.5 -63.9L10.2 -63.77L10 -63.5L9.69 -63.36L9.35 -63.44L9.03 -63.34L8.7 -63.4L8.61 -63.21L8.42 -63.12L8.24 -63.04L8.09 -62.9L7.9 -62.99L7.69 -62.98L7.5 -62.92L7.3 -62.9L7.11 -62.95L6.91 -62.93L6.72 -62.89L6.55 -62.78L6.37 -62.7L6.18 -62.67L6.02 -62.56L5.9 -62.4L5.61 -62.33L5.41 -62.1L5.18 -61.93L5 -61.7L4.96 -61.45L5.09 -61.23L4.92 -61.05L4.9 -60.8L4.77 -60.54L4.83 -60.27L5 -60.05L5.1 -59.8L5.07 -59.51L5.11 -59.23L5.27 -58.98L5.5 -58.8L5.74 -58.75L5.89 -58.55L6.1 -58.42L6.2 -58.2L6.41 -58.18L6.6 -58.09L6.8 -58.05L7 -58L7.31 -58.07L7.58 -58.25L7.86 -58.05L8.2 -58.1L8.48 -58.21L8.68 -58.43L8.98 -58.49L9.2 -58.7L9.54 -58.68L9.84 -58.84L10.13 -59.01L10.4 -59.2L10.52 -59.47L10.7 -59.7L10.8 -59.51L10.83 -59.29L10.98 -59.13L11 -58.9L11.09 -58.72L11.24 -58.57L11.27 -58.36L11.4 -58.2L11.48 -57.99L11.57 -57.79L11.72 -57.63L11.9 -57.5L11.99 -57.25L12.06 -57L12.29 -56.87L12.5 -56.7L12.61 -56.48L12.83 -56.37L12.81 -56.12L12.9 -55.9L13.02 -55.66L13 -55.4L13.27 -55.21L13.6 -55.23L13.93 -55.23L14.2 -55.4L14.34 -55.52L14.49 -55.64L14.52 -55.83L14.6 -56L14.9 -56.17L15.24 -56.22L15.4 -56.15L15.55 -56.04L15.71 -56.13L15.9 -56.1L16.08 -56.29L16.13 -56.55L16.36 -56.68L16.5 -56.9L16.45 -57.14L16.57 -57.35L16.59 -57.57L16.6 -57.8L16.53 -58L16.54 -58.21L16.62 -58.41L16.7 -58.6L16.84 -58.79L17.05 -58.9L17.28 -58.94L17.5 -59L17.73 -59.12L17.9 -59.32L18.16 -59.27L18.4 -59.4L18.51 -59.57L18.62 -59.75L18.79 -59.87L19 -59.9L18.84 -60.04L18.64 -60.08L18.47 -60.2L18.4 -60.4L18.09 -60.47L17.89 -60.72L17.57 -60.77L17.3 -60.6L17.33 -60.84L17.2 -61.04L17.24 -61.27L17.2 -61.5L17.31 -61.72L17.53 -61.84L17.49 -62.08L17.6 -62.3L17.76 -62.55L17.94 -62.79L18.24 -62.84L18.5 -63L18.75 -63.2L18.97 -63.44L19.29 -63.51L19.6 -63.6L19.93 -63.59L20.19 -63.8L20.48 -63.95L20.8 -63.9L20.97 -64.05L21.17 -64.18L21.27 -64.41L21.5 -64.5L21.36 -64.74L21.3 -65L21.62 -65.04L21.86 -65.27L22.15 -65.42L22.3 -65.7L22.61 -65.73L22.89 -65.84L23.19 -65.77L23.5 -65.8L23.81 -65.78L24.07 -65.95L24.29 -65.74L24.6 -65.7L24.77 -65.56L24.88 -65.37L25.1 -65.38L25.3 -65.3L25.33 -65.05L25.4 -64.8L25.2 -64.66L25.06 -64.45L24.83 -64.38L24.6 -64.3L24.4 -64.29L24.25 -64.16L24.07 -64.16L23.89 -64.22L23.76 -64.07L23.56 -64.05L23.44 -63.92L23.3 -63.8L23.05 -63.66L22.77 -63.61L22.54 -63.45L22.3 -63.3L22.18 -63.05L21.99 -62.85L21.72 -62.78L21.5 -62.6L21.58 -62.37L21.48 -62.15L21.39 -61.93L21.4 -61.7L21.33 -61.49L21.42 -61.28L21.57 -61.12L21.6 -60.9L21.63 -60.6L21.7 -60.3L21.9 -60.22L22.08 -60.11L22.3 -60.1L22.5 -60L22.8 -59.96L23.1 -60L23.4 -59.91L23.7 -60L23.92 -60.1L24.06 -60.3L24.27 -60.42L24.49 -60.49L24.73 -60.56L24.96 -60.45L25.16 -60.32L25.4 -60.3L25.6 -60.28L25.77 -60.4L25.92 -60.28L26.12 -60.26L26.3 -60.32L26.48 -60.31L26.66 -60.38L26.8 -60.5L26.99 -60.49L27.15 -60.37L27.33 -60.42L27.51 -60.45L27.7 -60.46L27.88 -60.41L28.07 -60.45L28.2 -60.6L28.5 -60.44L28.83 -60.52L28.98 -60.22L29.3 -60.1L29.54 -60.12L29.75 -60L29.96 -59.88L30.2 -59.9L29.87 -59.87L29.56 -59.77L29.22 -59.69L28.9 -59.8L28.72 -59.62L28.49 -59.52L28.25 -59.53L28 -59.5L27.83 -59.62L27.63 -59.62L27.45 -59.71L27.25 -59.74L27.12 -59.57L26.92 -59.49L26.71 -59.53L26.5 -59.5L26.31 -59.7L26.05 -59.73L25.79 -59.69L25.54 -59.7L25.28 -59.67L25.08 -59.51L24.85 -59.41L24.6 -59.4L24.33 -59.4L24.07 -59.44L23.8 -59.39L23.6 -59.2L23.49 -58.96L23.5 -58.7L23.7 -58.59L23.78 -58.38L23.99 -58.33L24.2 -58.3L24.26 -58.08L24.4 -57.9L24.41 -57.71L24.42 -57.52L24.36 -57.33L24.2 -57.2L23.92 -57.05L23.6 -57.1L23.32 -57.14L23.06 -57.28L22.85 -57.47L22.6 -57.6L22.36 -57.48L22.1 -57.49L21.84 -57.5L21.6 -57.4L21.45 -57.24L21.36 -57.04L21.23 -56.85L21 -56.8L21.14 -56.63L21.2 -56.42L21.19 -56.2L21.1 -56L21.16 -55.79L21.08 -55.59L21.12 -55.39L21.2 -55.2L20.93 -54.99L20.6 -54.9L20.32 -54.78L20.03 -54.8L19.81 -54.6L19.6 -54.4L19.36 -54.5L19.1 -54.45L18.85 -54.44L18.6 -54.4L18.55 -54.6L18.5 -54.8L18.27 -54.86L18.05 -54.75L17.82 -54.75L17.6 -54.8L17.28 -54.67L16.96 -54.79L16.64 -54.74L16.4 -54.5L16.07 -54.5L15.79 -54.34L15.48 -54.25L15.2 -54.1L14.9 -54.13L14.61 -54.1L14.39 -53.88L14.1 -53.8L13.84 -54.01L13.53 -54.17L13.35 -54.23L13.17 -54.16L13.01 -54.25L12.9 -54.4L12.65 -54.32L12.42 -54.18L12.16 -54.16L11.9 -54.2L11.66 -54.22L11.43 -54.19L11.22 -54.09L11 -54L10.93 -54.21L10.8 -54.4L10.57 -54.48L10.38 -54.62L10.19 -54.75L10 -54.9L10.08 -55.07L10.04 -55.26L10.03 -55.46L9.9 -55.6L9.91 -55.79L10.01 -55.96L10.19 -56.04L10.3 -56.2L10.62 -56.31L10.9 -56.5L10.76 -56.62L10.63 -56.75L10.48 -56.85L10.3 -56.9L10.43 -57.08L10.51 -57.28L10.6 -57.48L10.6 -57.7L10.41 -57.69L10.25 -57.61L10.09 -57.5L9.9 -57.5L9.64 -57.31L9.4 -57.1L9.2 -57.08L9 -57.13L8.81 -57.05L8.6 -57.1L8.5 -56.95L8.33 -56.87L8.22 -56.73L8.1 -56.6L8.03 -56.35L7.98 -56.1L8.05 -55.85L8.1 -55.6L8.15 -55.4L8.25 -55.21L8.39 -55.06L8.6 -55L8.72 -54.81L8.87 -54.64L8.84 -54.42L8.9 -54.2L8.79 -54.01L8.6 -53.9L8.38 -53.76L8.12 -53.7L7.86 -53.65L7.6 -53.7L7.4 -53.66L7.2 -53.6L7 -53.55L6.8 -53.5L6.57 -53.5L6.4 -53.35L6.2 -53.42L6 -53.5L5.78 -53.6L5.54 -53.58L5.29 -53.55L5.1 -53.4L4.92 -53.33L4.79 -53.17L4.76 -52.98L4.7 -52.8L4.68 -52.59L4.62 -52.38L4.52 -52.18L4.3 -52.1L4.08 -51.99L3.96 -51.79L3.83 -51.58L3.6 -51.5L3.4 -51.39L3.2 -51.3L3.04 -51.2L2.85 -51.2L2.67 -51.17L2.5 -51.1L2.27 -51.04L2.07 -50.92L1.84 -50.88L1.6 -50.9L1.61 -50.72L1.65 -50.55L1.61 -50.38L1.6 -50.2L1.39 -50.03L1.13 -49.95L0.86 -49.97L0.6 -49.9L0.35 -49.7L0.1 -49.5L-0.14 -49.4L-0.39 -49.33L-0.65 -49.33L-0.9 -49.4L-1.12 -49.52L-1.3 -49.7L-1.6 -49.62L-1.9 -49.7L-1.72 -49.56L-1.66 -49.33L-1.66 -49.11L-1.6 -48.9L-1.54 -48.72L-1.4 -48.6L-1.67 -48.7L-1.95 -48.62L-2.23 -48.68L-2.5 -48.6L-2.69 -48.6L-2.86 -48.65L-3.04 -48.7L-3.2 -48.8L-3.39 -48.76L-3.52 -48.63L-3.71 -48.66L-3.88 -48.58L-4.06 -48.51L-4.25 -48.45L-4.42 -48.53L-4.6 -48.6L-4.51 -48.3L-4.4 -48L-4.4 -47.8L-4.21 -47.79L-4.05 -47.69L-3.87 -47.65L-3.69 -47.7L-3.5 -47.71L-3.32 -47.7L-3.16 -47.6L-3 -47.5L-2.78 -47.49L-2.55 -47.47L-2.34 -47.39L-2.2 -47.2L-2.16 -46.93L-2 -46.7L-1.83 -46.53L-1.65 -46.38L-1.4 -46.35L-1.2 -46.2L-1.23 -46.02L-1.2 -45.84L-1.09 -45.69L-1.1 -45.5L-1.17 -45.28L-1.28 -45.06L-1.32 -44.82L-1.2 -44.6L-1.18 -44.36L-1.26 -44.14L-1.39 -43.94L-1.4 -43.7L-1.59 -43.54L-1.8 -43.4L-1.98 -43.34L-2.15 -43.28L-2.34 -43.23L-2.5 -43.13L-2.63 -43.28L-2.8 -43.39L-3 -43.47L-3.2 -43.4L-3.52 -43.28L-3.85 -43.38L-4.17 -43.41L-4.5 -43.4L-4.8 -43.55L-5.13 -43.64L-5.46 -43.54L-5.8 -43.6L-5.97 -43.73L-6.16 -43.84L-6.36 -43.91L-6.58 -43.9L-6.81 -43.84L-6.96 -43.67L-7.18 -43.62L-7.4 -43.7L-7.61 -43.71L-7.8 -43.62L-8 -43.66L-8.2 -43.6L-8.51 -43.49L-8.84 -43.46L-9.01 -43.17L-9.3 -43L-9.24 -42.8L-9.2 -42.59L-9.07 -42.42L-8.9 -42.3L-8.81 -42.08L-8.86 -41.85L-8.89 -41.62L-8.8 -41.4L-8.76 -41.19L-8.65 -41.01L-8.68 -40.81L-8.7 -40.6L-8.85 -40.41L-8.92 -40.17L-9.03 -39.95L-9 -39.7L-9.14 -39.55L-9.26 -39.39L-9.36 -39.2L-9.4 -39L-9.27 -38.73L-9 -38.6L-8.83 -38.44L-8.8 -38.2L-8.84 -37.9L-8.67 -37.65L-8.7 -37.37L-8.8 -37.1L-8.61 -37L-8.4 -37.06L-8.21 -36.98L-8 -37L-7.67 -37L-7.4 -37.2L-7.08 -37.26L-6.8 -37.1L-6.53 -36.92L-6.3 -36.7L-6.06 -36.48L-5.9 -36.2L-5.64 -36.13L-5.4 -36L-5.15 -36.15L-4.97 -36.37L-4.74 -36.55L-4.5 -36.7L-4.25 -36.66L-4 -36.66L-3.75 -36.71L-3.5 -36.7L-3.32 -36.68L-3.14 -36.73L-2.99 -36.84L-2.8 -36.85L-2.64 -36.76L-2.46 -36.71L-2.28 -36.72L-2.1 -36.7L-1.84 -36.8L-1.62 -36.99L-1.48 -37.23L-1.4 -37.5L-1.21 -37.48L-1.03 -37.54L-0.84 -37.57L-0.7 -37.7L-0.49 -37.95L-0.43 -38.26L-0.27 -38.54L-0.1 -38.8L-0.24 -39.1L-0.4 -39.4L-0.26 -39.54L-0.15 -39.7L-0.06 -39.88L0.1 -40L0.27 -40.21L0.43 -40.42L0.56 -40.66L0.8 -40.8L1.04 -40.79L1.26 -40.87L1.39 -41.08L1.6 -41.2L1.88 -41.18L2.15 -41.27L2.31 -41.52L2.6 -41.6L2.77 -41.71L2.98 -41.68L3.15 -41.8L3.2 -42L3.15 -42.23L3.04 -42.44L3.11 -42.68L3 -42.9L3.13 -43.05L3.27 -43.18L3.45 -43.28L3.6 -43.4L3.87 -43.36L4.1 -43.21L4.38 -43.23L4.6 -43.4L4.88 -43.38L5.08 -43.18L5.34 -43.19L5.6 -43.2L5.83 -43.19L6.04 -43.09L6.27 -43.13L6.5 -43.1L6.69 -43.3L6.88 -43.51L7.16 -43.54L7.4 -43.7L7.68 -43.8L7.85 -44.05L8.11 -44.19L8.4 -44.2L8.61 -44.19L8.81 -44.15L9 -44.25L9.2 -44.3L9.5 -44.19L9.8 -44.1L9.89 -43.94L10.07 -43.87L10.21 -43.76L10.3 -43.6L10.37 -43.43L10.48 -43.27L10.52 -43.09L10.5 -42.9L10.62 -42.73L10.8 -42.61L11.01 -42.58L11.2 -42.5L11.43 -42.36L11.53 -42.11L11.79 -42.07L12 -41.9L12.27 -41.82L12.51 -41.7L12.66 -41.46L12.9 -41.3L13.13 -41.39L13.36 -41.32L13.58 -41.26L13.8 -41.2L13.97 -41.01L14.15 -40.84L14.39 -40.74L14.6 -40.6L14.77 -40.46L14.9 -40.28L15.08 -40.14L15.3 -40.1L15.35 -39.92L15.49 -39.79L15.62 -39.66L15.7 -39.5L15.7 -39.3L15.72 -39.09L15.81 -38.89L16 -38.8L15.89 -38.58L15.89 -38.34L15.82 -38.11L15.7 -37.9L15.89 -38L16.1 -38L16.4 -38.14L16.6 -38.4L16.65 -38.6L16.76 -38.78L16.94 -38.87L17.1 -39L16.89 -39.1L16.75 -39.28L16.74 -39.52L16.6 -39.7L16.81 -39.82L17.02 -39.94L17.08 -40.19L17.2 -40.4L17.51 -40.42L17.82 -40.42L18.15 -40.43L18.4 -40.2L18.5 -40.2L18.33 -40.3L18.14 -40.38L18.04 -40.55L17.9 -40.7L17.61 -40.73L17.38 -40.91L17.15 -41.07L16.9 -41.2L16.7 -41.34L16.48 -41.45L16.24 -41.45L16 -41.5L15.95 -41.7L15.9 -41.9L15.64 -41.81L15.36 -41.82L15.15 -42L14.9 -42.1L14.65 -42.25L14.37 -42.36L14.15 -42.55L13.9 -42.7L13.74 -42.86L13.6 -43.04L13.57 -43.27L13.6 -43.5L13.28 -43.48L13.02 -43.67L12.88 -43.95L12.6 -44.1L12.43 -44.34L12.3 -44.6L12.23 -44.8L12.2 -45L12.2 -45.21L12.3 -45.4L12.52 -45.41L12.7 -45.54L12.93 -45.56L13.1 -45.7L13.39 -45.56L13.7 -45.6L13.71 -45.41L13.81 -45.25L13.85 -45.08L13.9 -44.9L14.1 -44.9L14.25 -45.03L14.39 -45.15L14.5 -45.3L14.66 -45.02L14.9 -44.8L14.91 -44.57L15.03 -44.37L15.2 -44.21L15.4 -44.1L15.61 -44.01L15.71 -43.81L15.84 -43.64L16 -43.5L16.27 -43.46L16.53 -43.46L16.74 -43.28L17 -43.2L17.17 -43.12L17.36 -43.17L17.45 -43.01L17.6 -42.9L17.86 -42.8L18.14 -42.8L18.34 -42.61L18.6 -42.5L18.8 -42.38L19 -42.26L19.14 -42.07L19.3 -41.9L19.46 -41.62L19.5 -41.3L19.45 -41.13L19.38 -40.96L19.4 -40.78L19.4 -40.6L19.58 -40.31L19.7 -40L20.02 -39.88L20.2 -39.6L20.35 -39.47L20.49 -39.33L20.58 -39.16L20.7 -39L20.75 -38.8L20.87 -38.63L21.01 -38.48L21.1 -38.3L21.3 -38.23L21.41 -38.05L21.53 -37.89L21.6 -37.7L21.71 -37.49L21.79 -37.27L21.7 -37.04L21.7 -36.8L21.93 -36.75L22.09 -36.58L22.27 -36.43L22.5 -36.4L22.68 -36.38L22.86 -36.37L23.01 -36.49L23.2 -36.5L23.07 -36.74L23.11 -37.02L23.08 -37.29L22.9 -37.5L23.01 -37.65L23.16 -37.75L23.31 -37.88L23.5 -37.9L23.79 -37.99L24 -38.2L23.82 -38.38L23.67 -38.59L23.4 -38.61L23.2 -38.8L22.91 -38.98L22.8 -39.3L22.94 -39.47L23.16 -39.51L23.29 -39.68L23.3 -39.9L23.16 -40.05L23.08 -40.25L22.91 -40.37L22.7 -40.4L22.94 -40.35L23.17 -40.41L23.42 -40.36L23.6 -40.2L23.8 -40.17L24.01 -40.2L24.2 -40.12L24.4 -40.1L24.2 -40.21L24.04 -40.37L23.95 -40.58L23.9 -40.8L24.08 -40.88L24.2 -41.05L24.4 -41.02L24.58 -41.09L24.76 -40.99L24.95 -41.03L25.13 -40.99L25.3 -40.9L25.47 -40.83L25.64 -40.76L25.82 -40.74L26 -40.8L26.32 -40.76L26.6 -40.6L26.42 -40.48L26.3 -40.3L26.22 -40.14L26.1 -40L26.04 -39.68L26.2 -39.4L26.51 -39.41L26.8 -39.3L26.7 -39.13L26.57 -38.99L26.48 -38.8L26.5 -38.6L26.42 -38.39L26.3 -38.2L26.55 -38.19L26.74 -38.03L26.98 -37.99L27.2 -37.9L27.33 -37.66L27.4 -37.4L27.43 -37.22L27.47 -37.04L27.47 -36.85L27.6 -36.7L27.77 -36.59L27.97 -36.62L28.15 -36.69L28.3 -36.8L28.49 -36.71L28.68 -36.64L28.9 -36.68L29.1 -36.6L29.25 -36.46L29.35 -36.29L29.54 -36.23L29.7 -36.1L29.82 -36.37L30.03 -36.58L30.33 -36.57L30.6 -36.7L30.88 -36.7L31.1 -36.52L31.37 -36.54L31.6 -36.7L31.89 -36.69L32.11 -36.5L32.33 -36.32L32.5 -36.1L32.74 -35.97L33.01 -36L33.24 -36.16L33.5 -36.2L33.73 -36.22L33.93 -36.35L34.11 -36.47L34.3 -36.6L34.51 -36.71L34.74 -36.73L34.97 -36.64L35.2 -36.7L35.45 -36.73L35.7 -36.72L35.95 -36.73L36.2 -36.7L35.93 -36.57L35.8 -36.3L35.81 -36.07L35.77 -35.84L35.86 -35.63L35.9 -35.4L35.85 -35.22L35.89 -35.04L36.01 -34.89L36 -34.7L35.97 -34.45L35.8 -34.27L35.72 -34.03L35.5 -33.9L35.41 -33.67L35.3 -33.45L35.18 -33.23L35.1 -33L34.99 -32.7L34.9 -32.4L34.69 -32.27L34.54 -32.08L34.52 -31.84L34.5 -31.6L34.34 -31.46L34.2 -31.3L34 -31.21L33.8 -31.1L33.62 -31.21L33.4 -31.21L33.19 -31.19L33 -31.1L32.79 -31.12L32.59 -31.18L32.41 -31.29L32.2 -31.3L31.99 -31.39L31.84 -31.56L31.62 -31.58L31.4 -31.6L31.2 -31.51L31 -31.59L30.78 -31.6L30.6 -31.5L30.35 -31.54L30.11 -31.48L29.96 -31.26L29.7 -31.2L29.49 -31.17L29.28 -31.1L29.12 -30.95L28.9 -30.9L28.72 -30.97L28.61 -31.12L28.44 -31.17L28.32 -31.31L28.14 -31.24L27.96 -31.28L27.78 -31.32L27.6 -31.3L27.3 -31.27L27.04 -31.42L26.81 -31.62L26.5 -31.6L26.18 -31.5L25.85 -31.55L25.52 -31.5L25.2 -31.6L24.86 -31.65L24.53 -31.59L24.41 -31.72L24.33 -31.88L24.16 -31.93L24 -32L23.82 -32.11L23.62 -32.16L23.4 -32.14L23.2 -32.2L23.13 -32.5L22.9 -32.7L22.6 -32.84L22.26 -32.85L21.93 -32.93L21.6 -32.9L21.44 -32.8L21.27 -32.73L21.08 -32.74L20.9 -32.7L20.65 -32.68L20.45 -32.53L20.33 -32.31L20.1 -32.2L20.1 -31.95L20.11 -31.7L19.94 -31.51L19.8 -31.3L19.65 -31.01L19.35 -30.87L19.29 -30.56L19.1 -30.3L18.8 -30.36L18.52 -30.49L18.24 -30.62L18 -30.8L17.85 -30.94L17.75 -31.11L17.56 -31.17L17.36 -31.22L17.17 -31.24L16.98 -31.3L16.8 -31.2L16.6 -31.2L16.31 -31.22L16.04 -31.32L15.8 -31.51L15.5 -31.5L15.35 -31.66L15.26 -31.87L15.28 -32.09L15.2 -32.3L14.97 -32.39L14.75 -32.5L14.51 -32.58L14.3 -32.7L14.04 -32.9L13.72 -32.9L13.41 -32.87L13.1 -32.9L12.83 -32.82L12.55 -32.87L12.27 -32.78L12 -32.9L11.74 -32.98L11.47 -32.92L11.24 -33.07L11.1 -33.3L11.05 -33.57L10.9 -33.8L10.75 -33.94L10.55 -33.99L10.4 -34.12L10.3 -34.3L10.4 -34.49L10.54 -34.66L10.62 -34.87L10.8 -35L10.74 -35.23L10.79 -35.46L10.88 -35.69L11.1 -35.8L10.92 -35.94L10.85 -36.15L10.66 -36.25L10.5 -36.4L10.61 -36.6L10.65 -36.82L10.8 -36.99L11 -37.1L10.79 -37.16L10.62 -37.3L10.42 -37.21L10.2 -37.2L10.02 -37.12L9.83 -37.13L9.67 -37.23L9.5 -37.3L9.19 -37.21L8.88 -37.3L8.69 -37.04L8.4 -36.9L8.11 -36.92L7.86 -37.08L7.58 -37.04L7.3 -37.1L7.04 -37.13L6.8 -37.21L6.54 -37.19L6.3 -37.1L6.02 -37.08L5.76 -36.99L5.56 -36.8L5.3 -36.7L5.16 -36.57L4.98 -36.52L4.8 -36.56L4.62 -36.6L4.3 -36.74L4 -36.9L3.75 -36.94L3.49 -36.97L3.24 -36.89L3 -36.8L2.73 -36.81L2.51 -36.67L2.25 -36.67L2 -36.6L1.82 -36.48L1.61 -36.47L1.41 -36.4L1.2 -36.4L0.99 -36.37L0.78 -36.32L0.65 -36.15L0.5 -36L0.25 -35.91L0.02 -35.79L-0.24 -35.71L-0.5 -35.8L-0.67 -35.71L-0.83 -35.62L-1.03 -35.62L-1.2 -35.7L-1.41 -35.49L-1.7 -35.39L-1.93 -35.21L-2.2 -35.1L-2.42 -35.13L-2.58 -35.3L-2.79 -35.38L-3 -35.3L-3.27 -35.39L-3.55 -35.39L-3.81 -35.24L-4.1 -35.3L-4.37 -35.45L-4.67 -35.52L-4.89 -35.73L-5.2 -35.8L-5.36 -35.69L-5.55 -35.67L-5.73 -35.72L-5.9 -35.8ZM28 -41.6L28.08 -41.83L28.26 -42L28.21 -42.23L28.24 -42.47L28.21 -42.71L28.31 -42.93L28.47 -43.11L28.6 -43.3L28.68 -43.63L28.86 -43.93L28.78 -44.26L28.8 -44.6L28.9 -44.89L29.14 -45.07L29.42 -45.11L29.7 -45.2L29.72 -45.41L29.86 -45.56L29.96 -45.75L29.95 -45.95L30.08 -46.12L30.29 -46.16L30.41 -46.33L30.6 -46.4L30.88 -46.42L31.15 -46.49L31.42 -46.58L31.7 -46.6L31.89 -46.44L32.11 -46.33L32.36 -46.29L32.59 -46.41L32.79 -46.31L32.99 -46.19L33.21 -46.13L33.4 -46L33.17 -45.89L32.93 -45.79L32.74 -45.62L32.6 -45.4L32.62 -45.22L32.69 -45.04L32.81 -44.89L33 -44.84L33.33 -44.72L33.6 -44.5L33.79 -44.39L34.02 -44.35L34.2 -44.48L34.43 -44.51L34.64 -44.53L34.81 -44.68L34.98 -44.81L35.2 -44.8L35.39 -44.81L35.55 -44.89L35.71 -44.99L35.81 -45.15L35.99 -45.07L36.18 -45.1L36.3 -45.26L36.5 -45.3L36.63 -45.09L36.84 -44.96L37.04 -44.8L37.3 -44.8L37.59 -44.69L37.89 -44.74L38.13 -44.55L38.3 -44.3L38.51 -44.22L38.64 -44.03L38.72 -43.83L38.86 -43.66L39.05 -43.53L39.27 -43.53L39.49 -43.54L39.7 -43.5L39.89 -43.43L40.01 -43.25L40.07 -43.05L40.25 -42.94L40.44 -42.9L40.62 -42.81L40.83 -42.81L41 -42.7L41.06 -42.38L41.12 -42.05L41.43 -41.9L41.6 -41.6L41.43 -41.52L41.27 -41.42L41.15 -41.28L41.01 -41.16L40.87 -41.03L40.68 -40.97L40.49 -41.03L40.3 -41L40.04 -41.02L39.79 -40.95L39.54 -40.97L39.29 -41.06L39.05 -40.97L38.81 -40.91L38.55 -40.9L38.3 -40.9L38.14 -41.06L37.95 -41.17L37.73 -41.07L37.5 -41.12L37.34 -41.26L37.13 -41.34L36.92 -41.29L36.7 -41.3L36.51 -41.44L36.43 -41.66L36.22 -41.72L36 -41.75L35.84 -41.91L35.61 -41.93L35.42 -42.01L35.2 -42L34.96 -41.97L34.79 -41.8L34.59 -41.92L34.35 -41.91L34.12 -41.93L33.91 -41.83L33.72 -41.94L33.5 -42L33.32 -41.93L33.16 -41.83L32.97 -41.85L32.78 -41.85L32.6 -41.82L32.4 -41.83L32.27 -41.69L32.1 -41.6L31.86 -41.49L31.59 -41.46L31.43 -41.23L31.2 -41.1L30.95 -41.03L30.69 -41.03L30.46 -41.14L30.2 -41.21L29.96 -41.11L29.7 -41.09L29.45 -41.13L29.2 -41.2L28.96 -41.43L28.63 -41.49L28.33 -41.63L28 -41.6ZM34.9 -45.4L35.11 -45.55L35.18 -45.81L35.18 -46.05L35.2 -46.3L35.41 -46.33L35.58 -46.47L35.77 -46.54L35.98 -46.57L36.18 -46.63L36.39 -46.64L36.59 -46.7L36.8 -46.7L37.03 -46.72L37.23 -46.82L37.42 -46.69L37.65 -46.69L37.84 -46.8L37.99 -46.96L38.18 -47.06L38.4 -47.1L38.63 -47.14L38.84 -47.23L39.07 -47.16L39.3 -47.2L39.14 -47.13L38.98 -47.05L38.91 -46.88L38.78 -46.75L38.65 -46.64L38.54 -46.5L38.36 -46.47L38.2 -46.4L38.11 -46.24L37.97 -46.12L37.9 -45.95L37.8 -45.8L37.5 -45.69L37.22 -45.54L36.91 -45.47L36.6 -45.4L36.37 -45.37L36.17 -45.47L35.94 -45.47L35.75 -45.35L35.54 -45.41L35.32 -45.37L35.11 -45.37L34.9 -45.4ZM-5.7 -50.1L-5.53 -50.23L-5.41 -50.41L-5.19 -50.43L-5.01 -50.54L-4.8 -50.54L-4.59 -50.53L-4.4 -50.45L-4.2 -50.4L-3.98 -50.38L-3.8 -50.49L-3.6 -50.54L-3.4 -50.6L-3.24 -50.71L-3.07 -50.8L-2.89 -50.74L-2.7 -50.72L-2.52 -50.8L-2.33 -50.8L-2.17 -50.69L-2 -50.6L-1.76 -50.71L-1.52 -50.79L-1.26 -50.85L-1 -50.8L-0.81 -50.73L-0.61 -50.78L-0.41 -50.74L-0.25 -50.63L-0.06 -50.7L0.14 -50.65L0.31 -50.75L0.5 -50.8L0.76 -50.83L1.02 -50.85L1.2 -51.04L1.4 -51.2L1.25 -51.3L1.08 -51.38L0.91 -51.45L0.8 -51.6L1.04 -51.65L1.28 -51.73L1.4 -51.95L1.6 -52.1L1.68 -52.4L1.7 -52.7L1.48 -52.76L1.27 -52.68L1.09 -52.8L0.9 -52.9L0.71 -52.97L0.52 -52.9L0.35 -52.98L0.2 -53.1L0.23 -53.37L0.1 -53.6L-0.02 -53.92L-0.3 -54.1L-0.55 -54.22L-0.69 -54.45L-0.95 -54.52L-1.2 -54.6L-1.43 -54.86L-1.5 -55.2L-1.58 -55.39L-1.64 -55.6L-1.83 -55.68L-2 -55.8L-2.13 -55.95L-2.32 -56.03L-2.51 -56.08L-2.7 -56.1L-2.59 -56.28L-2.6 -56.5L-2.42 -56.59L-2.23 -56.66L-2.13 -56.84L-2 -57L-1.9 -57.25L-1.8 -57.5L-1.95 -57.61L-2.12 -57.69L-2.31 -57.7L-2.5 -57.7L-2.78 -57.73L-3.05 -57.69L-3.32 -57.63L-3.6 -57.6L-3.93 -57.69L-4.2 -57.9L-4 -58.13L-3.75 -58.29L-3.46 -58.36L-3.2 -58.5L-3.4 -58.51L-3.6 -58.58L-3.8 -58.53L-4 -58.6L-4.25 -58.54L-4.5 -58.49L-4.77 -58.45L-5 -58.6L-5.13 -58.29L-5.3 -58L-5.36 -57.81L-5.36 -57.61L-5.43 -57.41L-5.6 -57.3L-5.73 -57.16L-5.77 -56.97L-5.81 -56.79L-5.8 -56.6L-5.67 -56.38L-5.5 -56.2L-5.47 -56.02L-5.53 -55.85L-5.63 -55.69L-5.6 -55.5L-5.42 -55.61L-5.22 -55.69L-5 -55.71L-4.8 -55.6L-4.76 -55.38L-4.86 -55.19L-4.9 -54.99L-5 -54.8L-4.7 -54.79L-4.4 -54.8L-4.15 -54.74L-3.89 -54.75L-3.63 -54.79L-3.4 -54.9L-3.4 -54.59L-3.3 -54.3L-3.15 -54.05L-2.9 -53.9L-2.85 -53.63L-3 -53.4L-3.18 -53.29L-3.38 -53.23L-3.58 -53.34L-3.8 -53.3L-4.02 -53.31L-4.2 -53.17L-4.42 -53.18L-4.6 -53.3L-4.49 -53.05L-4.4 -52.8L-4.22 -52.63L-4.1 -52.4L-4.37 -52.29L-4.6 -52.1L-4.9 -51.95L-5.2 -51.8L-4.95 -51.7L-4.73 -51.56L-4.46 -51.51L-4.2 -51.6L-3.96 -51.52L-3.71 -51.47L-3.46 -51.39L-3.2 -51.4L-3.42 -51.34L-3.6 -51.2L-3.9 -51.3L-4.2 -51.2L-4.29 -50.94L-4.5 -50.77L-4.76 -50.73L-5 -50.6L-5.2 -50.49L-5.43 -50.46L-5.53 -50.26L-5.7 -50.1ZM-6 -52.2L-6.12 -52.38L-6.2 -52.58L-6.13 -52.79L-6.1 -53L-6.24 -53.29L-6.2 -53.6L-6.08 -53.8L-5.96 -54.01L-5.79 -54.16L-5.6 -54.3L-5.6 -54.5L-5.67 -54.68L-5.75 -54.87L-5.9 -55L-6.19 -55.14L-6.5 -55.2L-6.78 -55.16L-7.06 -55.16L-7.31 -55.31L-7.6 -55.3L-7.75 -55.17L-7.91 -55.06L-8.1 -54.99L-8.3 -55L-8.53 -54.86L-8.6 -54.6L-8.79 -54.54L-8.97 -54.49L-9.15 -54.61L-9.35 -54.59L-9.54 -54.54L-9.71 -54.46L-9.89 -54.37L-10 -54.2L-9.91 -54.03L-9.79 -53.88L-9.73 -53.69L-9.8 -53.5L-10.03 -53.3L-10.1 -53L-9.95 -52.9L-9.78 -52.84L-9.59 -52.77L-9.5 -52.6L-9.74 -52.55L-9.93 -52.4L-10.08 -52.2L-10.3 -52.1L-10.13 -51.92L-10 -51.7L-9.72 -51.67L-9.5 -51.5L-9.24 -51.45L-9 -51.58L-8.75 -51.63L-8.5 -51.6L-8.26 -51.74L-7.98 -51.76L-7.75 -51.89L-7.5 -52L-7.32 -52.02L-7.14 -52L-6.99 -52.11L-6.8 -52.1L-6.62 -52.22L-6.4 -52.19L-6.2 -52.14L-6 -52.2ZM-22.6 -63.9L-22.53 -64.13L-22.33 -64.26L-22.12 -64.35L-21.9 -64.4L-22.11 -64.46L-22.23 -64.64L-22.43 -64.67L-22.6 -64.8L-22.79 -64.75L-22.98 -64.73L-23.18 -64.78L-23.36 -64.68L-23.51 -64.81L-23.71 -64.86L-23.9 -64.95L-24.1 -64.9L-24.01 -65.19L-23.77 -65.38L-23.48 -65.43L-23.21 -65.56L-22.94 -65.71L-22.64 -65.75L-22.38 -65.62L-22.1 -65.5L-22.38 -65.51L-22.66 -65.55L-22.95 -65.56L-23.19 -65.72L-23.49 -65.74L-23.76 -65.83L-24.07 -65.8L-24.3 -65.6L-24.18 -65.84L-23.96 -65.99L-23.75 -66.14L-23.5 -66.2L-23.17 -66.31L-22.84 -66.21L-22.71 -66.34L-22.55 -66.43L-22.38 -66.39L-22.2 -66.4L-21.91 -66.45L-21.66 -66.29L-21.54 -66.04L-21.33 -65.84L-21.06 -65.83L-20.81 -65.92L-20.54 -65.95L-20.3 -65.8L-20.12 -65.8L-19.93 -65.83L-19.74 -65.81L-19.58 -65.92L-19.43 -66.03L-19.24 -66.07L-19.09 -66.19L-18.9 -66.2L-18.67 -66.24L-18.45 -66.29L-18.21 -66.28L-18 -66.38L-17.77 -66.45L-17.53 -66.38L-17.33 -66.26L-17.1 -66.2L-16.78 -66.22L-16.46 -66.18L-16.22 -66.41L-15.9 -66.5L-15.72 -66.44L-15.54 -66.45L-15.37 -66.35L-15.17 -66.39L-14.98 -66.38L-14.83 -66.27L-14.68 -66.15L-14.5 -66.1L-14.58 -65.86L-14.6 -65.6L-14.31 -65.49L-14.17 -65.22L-13.87 -65.22L-13.6 -65.1L-13.83 -64.84L-14.17 -64.78L-14.4 -64.55L-14.7 -64.4L-14.89 -64.49L-15.1 -64.45L-15.3 -64.38L-15.47 -64.27L-15.65 -64.18L-15.84 -64.16L-15.99 -64.01L-16.2 -64L-16.39 -64.04L-16.59 -64L-16.77 -63.92L-16.95 -63.87L-17.15 -63.9L-17.34 -63.86L-17.5 -63.73L-17.7 -63.7L-17.88 -63.67L-18.05 -63.64L-18.17 -63.5L-18.32 -63.4L-18.5 -63.44L-18.64 -63.56L-18.82 -63.52L-19 -63.5L-19.24 -63.47L-19.48 -63.43L-19.73 -63.48L-19.95 -63.35L-20.17 -63.48L-20.43 -63.48L-20.64 -63.61L-20.8 -63.8L-21.04 -63.75L-21.28 -63.79L-21.49 -63.91L-21.69 -64.05L-21.95 -64L-22.12 -63.8L-22.37 -63.8L-22.6 -63.9ZM11 -78.6L11.34 -78.53L11.67 -78.66L11.97 -78.5L12.31 -78.46L12.53 -78.19L12.85 -78.07L13.2 -78.07L13.5 -77.9L13.78 -77.88L14.06 -77.86L14.23 -77.62L14.5 -77.5L14.76 -77.31L14.84 -77.01L15.12 -76.89L15.33 -76.66L15.63 -76.75L15.91 -76.63L16.21 -76.63L16.5 -76.6L16.81 -76.72L16.98 -76.99L17.29 -76.96L17.6 -77L17.7 -77.32L17.93 -77.57L18.26 -77.66L18.5 -77.9L18.85 -77.81L19.21 -77.75L19.57 -77.68L19.94 -77.67L20.31 -77.78L20.7 -77.8L21.01 -78.05L21.2 -78.4L21.38 -78.56L21.57 -78.71L21.81 -78.77L22.04 -78.87L22.29 -78.83L22.52 -78.73L22.74 -78.89L23 -78.9L23.39 -79.03L23.8 -79.05L24.19 -79.22L24.43 -79.57L24.82 -79.66L25.22 -79.69L25.63 -79.67L26 -79.5L26.31 -79.62L26.6 -79.78L26.79 -80.05L27 -80.3L26.24 -80.01L25.47 -79.77L24.62 -79.92L23.87 -79.52L23.27 -80.12L22.44 -80.26L21.71 -80.61L21 -81L20.36 -80.91L19.73 -81.04L19.1 -80.98L18.46 -80.92L17.8 -80.82L17.14 -80.95L16.59 -80.6L16 -80.3L15.46 -80.28L14.98 -80.53L14.45 -80.46L13.99 -80.18L13.46 -80.09L12.96 -80.28L12.52 -79.99L12 -79.9L11.8 -79.91L11.63 -79.8L11.45 -79.72L11.33 -79.56L11.14 -79.58L10.95 -79.53L10.79 -79.43L10.6 -79.4L10.79 -79.26L10.86 -79.03L10.88 -78.8L11 -78.6ZM52.5 -71.5L52.63 -71.37L52.7 -71.19L52.87 -71.12L53.03 -71.03L53.2 -70.99L53.36 -70.91L53.52 -70.82L53.7 -70.8L53.95 -70.69L54.22 -70.64L54.47 -70.78L54.76 -70.77L55.02 -70.71L55.26 -70.59L55.53 -70.68L55.8 -70.6L56.01 -70.73L56.25 -70.7L56.4 -70.9L56.63 -70.97L56.87 -70.95L57.06 -70.81L57.3 -70.83L57.5 -70.7L57.26 -70.66L57.05 -70.76L56.82 -70.85L56.69 -71.06L56.56 -71.24L56.4 -71.4L56.21 -71.52L56 -71.6L55.83 -71.81L55.71 -72.05L55.57 -72.29L55.4 -72.5L55.58 -72.71L55.68 -72.97L55.78 -73.22L55.8 -73.5L56.04 -73.58L56.27 -73.68L56.52 -73.72L56.77 -73.65L56.82 -73.92L57.04 -74.08L57.26 -74.22L57.5 -74.3L57.69 -74.52L57.86 -74.75L58.16 -74.82L58.36 -75.05L58.67 -75.04L58.94 -75.2L59.18 -75L59.5 -75L59.83 -75.1L60.05 -75.36L60.4 -75.3L60.7 -75.5L61.02 -75.42L61.35 -75.4L61.68 -75.4L62 -75.5L62.42 -75.57L62.79 -75.36L63.21 -75.35L63.57 -75.55L63.98 -75.62L64.27 -75.91L64.59 -76.17L65 -76.2L65.27 -76.4L65.6 -76.4L65.92 -76.45L66.23 -76.49L66.54 -76.6L66.86 -76.69L67.17 -76.6L67.5 -76.6L67.67 -76.71L67.82 -76.86L68.02 -76.83L68.22 -76.88L68.43 -76.87L68.61 -76.98L68.82 -77.01L69 -76.9L68.75 -76.62L68.4 -76.52L68.03 -76.48L67.7 -76.64L67.41 -76.83L67.06 -76.84L66.76 -76.99L66.5 -77.2L66.04 -77.32L65.6 -77.12L65.14 -77.14L64.71 -77.31L64.24 -77.22L63.92 -76.85L63.46 -76.78L63 -76.8L62.62 -76.92L62.24 -76.84L61.85 -76.71L61.48 -76.87L61.19 -76.58L60.78 -76.51L60.39 -76.53L60 -76.5L59.7 -76.29L59.34 -76.31L58.98 -76.34L58.67 -76.51L58.34 -76.43L58.09 -76.2L57.84 -75.97L57.5 -75.9L57.29 -75.74L57.04 -75.72L56.8 -75.62L56.63 -75.44L56.4 -75.34L56.15 -75.31L55.91 -75.24L55.7 -75.1L55.51 -74.96L55.46 -74.73L55.3 -74.58L55.15 -74.41L54.92 -74.41L54.73 -74.28L54.53 -74.19L54.3 -74.2L54.09 -73.95L53.88 -73.71L53.57 -73.58L53.3 -73.4L53.42 -73.23L53.46 -73.03L53.65 -72.94L53.8 -72.8L53.6 -72.61L53.32 -72.6L53.17 -72.37L52.9 -72.3L52.67 -72.2L52.56 -71.97L52.51 -71.74L52.5 -71.5ZM58.5 -70.3L60 -69.9L60.5 -70.1L59.2 -70.5L58.5 -70.3ZM95 -79L95.35 -79.07L95.66 -78.88L95.99 -78.76L96.2 -78.48L96.53 -78.49L96.85 -78.41L97.17 -78.39L97.5 -78.4L97.82 -78.35L98.14 -78.34L98.47 -78.34L98.75 -78.51L99.1 -78.53L99.35 -78.77L99.69 -78.86L100 -78.7L100.27 -78.7L100.54 -78.74L100.78 -78.87L100.99 -79.04L101.22 -79.18L101.45 -79.33L101.73 -79.42L102 -79.3L102.41 -79.43L102.82 -79.29L103.2 -79.11L103.5 -78.82L103.84 -79.04L104.24 -79.09L104.62 -79.2L105 -79.3L104.86 -79.41L104.75 -79.55L104.59 -79.64L104.5 -79.8L104.4 -79.96L104.34 -80.14L104.2 -80.28L104 -80.3L103.44 -80.36L102.89 -80.39L102.4 -80.12L101.87 -79.92L101.32 -80.02L100.82 -80.26L100.28 -80.49L100 -81L99.56 -80.71L99.04 -80.64L98.53 -80.68L98.01 -80.65L97.51 -80.57L97.01 -80.48L96.5 -80.37L96 -80.5L95.85 -80.31L95.65 -80.19L95.55 -79.97L95.51 -79.74L95.4 -79.54L95.32 -79.33L95.18 -79.15L95 -79ZM137.5 -75L137.71 -74.92L137.92 -74.88L138.14 -74.93L138.32 -75.06L138.52 -74.98L138.72 -74.92L138.9 -74.8L139 -74.6L139.28 -74.57L139.56 -74.54L139.74 -74.32L139.97 -74.16L140.17 -73.96L140.45 -73.89L140.73 -73.81L141 -73.9L141.26 -74L141.53 -73.96L141.81 -74.03L142.06 -73.91L142.34 -73.86L142.54 -73.66L142.72 -73.44L143 -73.4L143.43 -73.4L143.83 -73.55L144.27 -73.56L144.64 -73.8L144.97 -74.06L145.28 -74.35L145.7 -74.49L146 -74.8L146.5 -74.9L146.99 -75.01L147.5 -74.97L148 -74.97L148.52 -74.99L149.02 -74.91L149.51 -75.06L150 -75.2L149.78 -75.35L149.55 -75.49L149.34 -75.68L149.05 -75.68L148.78 -75.62L148.53 -75.74L148.27 -75.78L148 -75.8L147.66 -75.55L147.24 -75.53L146.89 -75.74L146.5 -75.85L146.08 -75.89L145.72 -75.67L145.3 -75.69L145 -76L144.46 -76.05L143.92 -76.09L143.52 -76.48L142.98 -76.63L142.54 -76.28L141.98 -76.3L141.56 -75.93L141 -75.9L140.65 -75.9L140.37 -75.71L140.02 -75.71L139.75 -75.93L139.4 -75.87L139.15 -75.63L138.85 -75.81L138.5 -75.8L138.27 -75.55L137.94 -75.47L137.66 -75.29L137.5 -75ZM178.6 -71.2L181 -71L182.6 -71.3L180.5 -71.5L178.6 -71.2ZM-180 -65L-179.81 -64.93L-179.65 -64.81L-179.45 -64.87L-179.25 -64.79L-179.07 -64.71L-178.87 -64.73L-178.7 -64.63L-178.5 -64.6L-178.26 -64.85L-177.99 -65.06L-177.65 -65.19L-177.3 -65.12L-176.97 -64.99L-176.62 -65.04L-176.3 -65.14L-176 -65.3L-175.66 -65.23L-175.33 -65.11L-175.01 -64.95L-174.66 -64.97L-174.42 -64.69L-174.06 -64.61L-173.71 -64.57L-173.4 -64.4L-173.14 -64.49L-172.86 -64.54L-172.58 -64.46L-172.3 -64.5L-172.38 -64.75L-172.59 -64.9L-172.63 -65.15L-172.6 -65.4L-172.41 -65.51L-172.19 -65.57L-172.04 -65.73L-171.86 -65.86L-171.65 -65.93L-171.44 -65.98L-171.22 -65.92L-171 -66L-170.68 -66.04L-170.39 -65.89L-170.1 -66.01L-169.8 -66.1L-170.04 -66.19L-170.28 -66.27L-170.42 -66.48L-170.56 -66.69L-170.81 -66.68L-171.06 -66.68L-171.25 -66.85L-171.5 -66.9L-171.8 -67.19L-172.22 -67.24L-172.61 -67.14L-173 -67.05L-173.38 -67.08L-173.74 -67.23L-174.11 -67.11L-174.5 -67.1L-174.76 -67.24L-174.97 -67.44L-175.23 -67.58L-175.5 -67.7L-175.9 -67.7L-176.21 -67.95L-176.57 -67.83L-176.9 -67.64L-177.22 -67.81L-177.56 -67.93L-177.74 -68.24L-178 -68.5L-178.26 -68.47L-178.52 -68.45L-178.78 -68.45L-179.04 -68.52L-179.3 -68.56L-179.51 -68.73L-179.73 -68.9L-180 -68.9L-180.63 -68.87L-181.25 -68.91L-181.88 -68.8L-182.5 -68.96L-183.16 -68.99L-183.76 -69.26L-184.39 -69.11L-185 -68.9L-185.21 -68.42L-185.08 -67.92L-185.22 -67.45L-185.23 -66.95L-185.27 -66.44L-185.39 -65.94L-185.09 -65.51L-185 -65ZM142 -46L142.18 -46.05L142.37 -46.07L142.56 -46.05L142.74 -46.01L142.95 -46.02L143.11 -46.15L143.18 -46.34L143.3 -46.5L143.31 -46.77L143.25 -47.03L143.29 -47.31L143.5 -47.5L143.42 -47.7L143.23 -47.81L143.11 -47.99L143.12 -48.21L143.04 -48.4L143.02 -48.6L142.99 -48.8L143 -49L143.2 -49L143.36 -48.88L143.5 -48.75L143.68 -48.68L143.87 -48.72L144.02 -48.84L144.21 -48.89L144.4 -48.9L144.26 -49.11L144.26 -49.36L144.03 -49.46L143.92 -49.68L143.78 -49.87L143.74 -50.11L143.6 -50.29L143.5 -50.5L143.55 -50.84L143.49 -51.18L143.47 -51.36L143.42 -51.53L143.28 -51.64L143.2 -51.8L143.09 -51.97L143.03 -52.16L142.94 -52.35L142.97 -52.55L143.06 -52.74L143.22 -52.88L143.21 -53.09L143.2 -53.3L143.06 -53.56L142.81 -53.73L142.71 -54.01L142.7 -54.3L142.43 -54.19L142.2 -54L142.37 -53.87L142.43 -53.67L142.48 -53.47L142.6 -53.3L142.55 -53.11L142.46 -52.94L142.27 -52.86L142.15 -52.7L142.04 -52.53L142 -52.34L141.88 -52.19L141.7 -52.1L141.6 -51.83L141.65 -51.54L141.82 -51.29L141.8 -51L141.78 -50.68L141.92 -50.39L142 -50.09L142.1 -49.8L141.94 -49.49L142 -49.15L141.89 -48.83L142 -48.5L142.04 -48.31L142.01 -48.12L141.9 -47.95L141.93 -47.75L141.93 -47.55L142.02 -47.37L141.95 -47.19L141.9 -47L141.94 -46.72L142.13 -46.52L142.03 -46.27L142 -46ZM140 -41.5L140.32 -41.5L140.63 -41.53L140.96 -41.57L141.2 -41.8L141.36 -42L141.58 -42.12L141.55 -42.38L141.7 -42.6L141.88 -42.49L142.08 -42.44L142.28 -42.37L142.49 -42.4L142.62 -42.23L142.82 -42.16L143 -42.06L143.2 -42L143.41 -42.11L143.55 -42.3L143.78 -42.27L144 -42.36L144.18 -42.51L144.24 -42.74L144.41 -42.88L144.6 -43L144.79 -43.17L145.04 -43.19L145.26 -43.27L145.5 -43.3L145.54 -43.55L145.47 -43.79L145.26 -43.95L145.2 -44.2L144.99 -44.02L144.72 -43.96L144.44 -43.95L144.2 -44.1L143.94 -44.23L143.67 -44.28L143.46 -44.48L143.2 -44.6L143 -44.64L142.84 -44.75L142.77 -44.93L142.67 -45.1L142.48 -45.18L142.28 -45.14L142.15 -45.28L142 -45.4L141.77 -45.37L141.6 -45.2L141.64 -44.98L141.81 -44.83L141.73 -44.61L141.8 -44.4L141.7 -44.12L141.76 -43.84L141.61 -43.6L141.4 -43.4L141.15 -43.46L140.89 -43.41L140.63 -43.42L140.4 -43.3L140.37 -43.12L140.34 -42.93L140.48 -42.8L140.5 -42.6L140.35 -42.46L140.21 -42.32L140 -42.38L139.8 -42.3L139.86 -42.08L140.03 -41.93L139.98 -41.72L140 -41.5ZM141.4 -41.4L141.48 -41.15L141.61 -40.92L141.63 -40.64L141.5 -40.4L141.57 -40.17L141.65 -39.94L141.85 -39.8L142 -39.6L141.8 -39.47L141.68 -39.26L141.69 -39.02L141.6 -38.8L141.44 -38.63L141.21 -38.59L141.12 -38.39L141 -38.2L141.12 -37.96L141.1 -37.7L141.07 -37.45L141 -37.2L141.02 -36.98L140.96 -36.76L140.82 -36.58L140.7 -36.4L140.8 -36.23L140.94 -36.09L140.99 -35.89L140.9 -35.7L140.79 -35.51L140.64 -35.36L140.52 -35.17L140.3 -35.1L140.06 -34.97L139.8 -34.9L139.48 -35.01L139.2 -35.2L139.08 -35.07L139 -34.9L138.87 -34.77L138.8 -34.6L138.5 -34.59L138.2 -34.6L137.95 -34.66L137.7 -34.74L137.46 -34.65L137.2 -34.6L137 -34.5L136.9 -34.3L136.67 -34.09L136.62 -33.78L136.31 -33.73L136.1 -33.5L135.79 -33.48L135.5 -33.6L135.33 -33.7L135.19 -33.83L135.22 -34.03L135.1 -34.2L135.21 -34.43L135.4 -34.6L135.2 -34.67L135 -34.62L134.78 -34.59L134.6 -34.7L134.33 -34.62L134.07 -34.73L133.87 -34.54L133.6 -34.5L133.32 -34.41L133.08 -34.24L132.78 -34.16L132.5 -34.3L132.22 -34.25L131.95 -34.14L131.69 -34L131.4 -34L131.15 -33.93L130.9 -34L131.01 -34.23L131.2 -34.4L131.37 -34.52L131.49 -34.68L131.59 -34.86L131.69 -35.04L131.88 -35.15L131.98 -35.35L132.19 -35.4L132.4 -35.4L132.66 -35.39L132.89 -35.5L133.15 -35.41L133.4 -35.5L133.72 -35.52L133.99 -35.69L134.3 -35.67L134.6 -35.6L134.86 -35.47L135.15 -35.52L135.42 -35.55L135.7 -35.5L135.87 -35.73L136.1 -35.9L136.21 -36.2L136.44 -36.41L136.56 -36.7L136.8 -36.9L137.05 -36.87L137.3 -36.8L137.45 -37.11L137.74 -37.31L138.06 -37.4L138.4 -37.4L138.59 -37.68L138.78 -37.96L139.08 -38.09L139.4 -38.2L139.51 -38.4L139.53 -38.63L139.66 -38.82L139.8 -39L139.88 -39.31L140 -39.6L140.02 -39.78L140.07 -39.95L140.04 -40.13L140 -40.3L139.94 -40.55L140.03 -40.79L140.12 -41.03L140.3 -41.2L140.58 -41.19L140.86 -41.26L141.11 -41.42L141.4 -41.4ZM129.9 -33.6L130.09 -33.71L130.26 -33.85L130.48 -33.89L130.7 -33.9L131.01 -33.77L131.3 -33.6L131.52 -33.5L131.66 -33.3L131.79 -33.11L131.9 -32.9L131.75 -32.78L131.64 -32.63L131.51 -32.49L131.39 -32.35L131.31 -32.17L131.34 -31.97L131.37 -31.79L131.4 -31.6L131.25 -31.39L131.04 -31.25L130.8 -31.16L130.6 -31L130.35 -31.21L130.2 -31.5L130.32 -31.68L130.31 -31.9L130.34 -32.1L130.4 -32.3L130.25 -32.4L130.1 -32.5L129.93 -32.56L129.8 -32.7L129.88 -32.92L129.94 -33.14L129.89 -33.37L129.9 -33.6ZM132.4 -33.3L132.63 -33.44L132.87 -33.57L133.02 -33.79L133.2 -34L133.47 -33.98L133.74 -34.02L133.93 -34.21L134.2 -34.3L134.43 -34.08L134.7 -33.9L134.47 -33.82L134.35 -33.62L134.36 -33.38L134.2 -33.2L133.89 -33.11L133.58 -32.99L133.25 -32.93L133 -32.7L132.91 -32.91L132.79 -33.09L132.6 -33.21L132.4 -33.3ZM121 -25.1L121.23 -25.13L121.46 -25.13L121.68 -25.06L121.9 -25L121.78 -24.73L121.61 -24.49L121.62 -24.19L121.6 -23.9L121.48 -23.66L121.28 -23.48L121.04 -23.33L120.95 -23.06L121.08 -22.81L121.06 -22.53L120.89 -22.29L120.9 -22L120.74 -22.15L120.63 -22.33L120.47 -22.46L120.3 -22.6L120.28 -22.83L120.11 -22.98L120.16 -23.19L120.1 -23.4L120.31 -23.59L120.38 -23.87L120.36 -24.15L120.5 -24.4L120.49 -24.64L120.64 -24.83L120.83 -24.95L121 -25.1ZM108.6 -19.2L108.85 -19.42L108.91 -19.75L109.21 -19.86L109.5 -20L109.83 -20.03L110.1 -19.85L110.37 -20.04L110.7 -20L110.9 -19.83L111 -19.6L110.84 -19.39L110.76 -19.14L110.69 -18.89L110.5 -18.7L110.25 -18.53L110.1 -18.26L109.8 -18.21L109.5 -18.2L109.3 -18.28L109.09 -18.33L108.91 -18.45L108.7 -18.5L108.69 -18.68L108.67 -18.85L108.6 -19.02L108.6 -19.2ZM79.9 -9.8L80.15 -9.7L80.4 -9.6L80.48 -9.43L80.46 -9.25L80.59 -9.11L80.66 -8.95L80.73 -8.77L80.89 -8.67L81.07 -8.63L81.2 -8.5L81.42 -8.24L81.7 -8.06L81.81 -7.74L81.8 -7.4L81.88 -7.17L81.8 -6.94L81.79 -6.71L81.7 -6.5L81.41 -6.37L81.17 -6.16L80.85 -6.12L80.6 -5.9L80.42 -5.98L80.23 -5.99L80.15 -6.17L80 -6.3L80.05 -6.55L80.08 -6.8L80.14 -7.05L80.16 -7.3L79.99 -7.49L79.93 -7.75L79.78 -7.96L79.7 -8.2L79.75 -8.41L79.78 -8.63L79.72 -8.83L79.61 -9.02L79.72 -9.2L79.85 -9.38L79.82 -9.6L79.9 -9.8ZM120.6 -18.5L120.86 -18.44L121.08 -18.28L121.34 -18.33L121.6 -18.4L121.77 -18.32L121.96 -18.32L122.12 -18.24L122.3 -18.2L122.23 -17.9L122.2 -17.6L122.11 -17.3L122.2 -17L122.25 -16.65L122.08 -16.35L121.87 -16.1L121.6 -15.9L121.66 -15.71L121.67 -15.5L121.75 -15.31L121.72 -15.1L121.62 -14.92L121.61 -14.71L121.6 -14.49L121.7 -14.3L121.89 -14.23L122.1 -14.21L122.3 -14.14L122.5 -14.1L122.67 -14.03L122.85 -14.06L122.96 -13.91L123.1 -13.8L123.26 -13.52L123.47 -13.27L123.77 -13.14L124 -12.9L123.83 -12.82L123.64 -12.85L123.5 -12.99L123.3 -13L123.15 -13.14L122.96 -13.17L122.76 -13.18L122.6 -13.3L122.37 -13.52L122.06 -13.53L121.86 -13.76L121.6 -13.9L121.44 -13.8L121.27 -13.72L121.08 -13.75L120.9 -13.8L120.68 -14.06L120.6 -14.4L120.33 -14.58L120.1 -14.8L120.04 -15.01L119.9 -15.18L119.86 -15.39L119.9 -15.6L120.08 -15.79L120.3 -15.9L120.45 -16.13L120.4 -16.4L120.37 -16.68L120.43 -16.95L120.44 -17.23L120.4 -17.5L120.38 -17.76L120.36 -18.03L120.46 -18.27L120.6 -18.5ZM122 -7L122.26 -7.06L122.45 -7.25L122.69 -7.35L122.9 -7.5L123.05 -7.63L123.24 -7.68L123.42 -7.73L123.6 -7.8L123.8 -7.88L123.99 -7.99L124.09 -8.21L124.3 -8.3L124.37 -8.49L124.45 -8.69L124.63 -8.79L124.8 -8.9L124.99 -8.9L125.14 -9.01L125.32 -9.02L125.5 -9L125.63 -9.13L125.76 -9.26L125.94 -9.3L126.1 -9.4L126.17 -9.21L126.31 -9.08L126.32 -8.88L126.28 -8.69L126.37 -8.53L126.42 -8.36L126.46 -8.18L126.5 -8L126.55 -7.74L126.58 -7.49L126.56 -7.22L126.4 -7L126.34 -6.81L126.32 -6.62L126.27 -6.42L126.1 -6.3L125.97 -6.09L125.78 -5.92L125.57 -5.78L125.4 -5.6L125.38 -5.88L125.2 -6.1L124.95 -6.14L124.7 -6.17L124.45 -6.09L124.2 -6.2L124.06 -6.37L123.95 -6.56L124.06 -6.77L124 -7L123.82 -7.05L123.69 -7.19L123.55 -7.3L123.4 -7.4L123.1 -7.38L122.8 -7.3L122.62 -7.21L122.47 -7.06L122.28 -6.98L122.1 -6.9L122 -7ZM124.2 -12.5L124.44 -12.45L124.67 -12.39L124.9 -12.47L125.1 -12.6L125.26 -12.43L125.3 -12.2L125.47 -12.05L125.7 -12L125.62 -11.76L125.61 -11.5L125.57 -11.25L125.6 -11L125.32 -11.14L125 -11.1L124.83 -11.22L124.62 -11.25L124.58 -11.47L124.4 -11.6L124.45 -11.84L124.47 -12.09L124.4 -12.34L124.2 -12.5ZM124.3 -11.4L125 -11.3L125.2 -10.2L124.8 -10L124.4 -10.6L124.3 -11.4ZM121.9 -11.9L122.6 -11.7L123.1 -11.2L122.7 -10.5L122 -10.6L121.9 -11.9ZM122.9 -10.9L123.5 -10.4L123.2 -9.2L122.5 -9.6L122.4 -10.4L122.9 -10.9ZM123.9 -11.2L124.1 -10.3L123.4 -9.5L123.7 -10.5L123.9 -11.2ZM123.8 -10.1L124.5 -10.1L124.4 -9.6L123.8 -9.7ZM117.2 -8.4L117.47 -8.61L117.67 -8.88L117.88 -9.16L118.2 -9.3L118.4 -9.39L118.52 -9.57L118.64 -9.75L118.63 -9.97L118.81 -10.06L118.95 -10.2L119.11 -10.33L119.3 -10.4L119.48 -10.58L119.53 -10.82L119.51 -11.07L119.6 -11.3L119.71 -11.15L119.81 -10.98L119.85 -10.79L119.8 -10.6L119.62 -10.5L119.53 -10.32L119.56 -10.12L119.46 -9.94L119.3 -9.84L119.16 -9.71L118.97 -9.69L118.8 -9.6L118.71 -9.42L118.72 -9.22L118.55 -9.11L118.48 -8.92L118.29 -8.89L118.09 -8.86L117.9 -8.78L117.8 -8.6L117.51 -8.47L117.2 -8.4ZM120.3 -13.5L121.2 -13.5L121.5 -13L121.2 -12.3L120.4 -12.5L120.3 -13.5ZM109 -1.5L109.13 -1.67L109.34 -1.71L109.47 -1.85L109.6 -2L109.79 -1.94L109.98 -1.93L110.18 -1.87L110.3 -1.7L110.54 -1.61L110.78 -1.65L110.95 -1.84L111.2 -1.9L111.42 -2.05L111.48 -2.32L111.55 -2.55L111.6 -2.8L111.78 -2.85L111.97 -2.82L112.13 -2.92L112.32 -2.94L112.46 -3.07L112.61 -3.2L112.8 -3.15L113 -3.2L113.01 -3.42L113.14 -3.59L113.17 -3.8L113.24 -3.99L113.4 -4.13L113.56 -4.26L113.69 -4.43L113.9 -4.5L114.07 -4.62L114.27 -4.66L114.42 -4.8L114.6 -4.9L114.76 -5.07L114.98 -5.13L115.17 -5.27L115.4 -5.3L115.65 -5.39L115.8 -5.6L115.98 -5.68L116.08 -5.85L116.19 -6.01L116.2 -6.2L116.31 -6.39L116.39 -6.59L116.56 -6.73L116.7 -6.9L117 -6.86L117.3 -6.8L117.48 -6.65L117.57 -6.44L117.57 -6.2L117.7 -6L117.96 -5.98L118.14 -5.78L118.39 -5.75L118.6 -5.6L118.9 -5.45L119.2 -5.3L118.98 -5.2L118.74 -5.15L118.54 -5.01L118.4 -4.8L118.27 -4.62L118.07 -4.51L118.02 -4.29L117.9 -4.1L117.83 -3.88L117.66 -3.74L117.64 -3.51L117.7 -3.3L117.77 -3.03L117.72 -2.76L117.8 -2.5L118 -2.3L118.14 -2.17L118.2 -1.98L118.32 -1.84L118.43 -1.68L118.49 -1.5L118.58 -1.32L118.71 -1.17L118.9 -1.1L118.62 -1.08L118.36 -0.96L118.09 -0.83L117.8 -0.9L117.86 -0.65L117.74 -0.42L117.56 -0.24L117.5 -0L117.55 0.2L117.55 0.4L117.44 0.59L117.5 0.8L117.34 1L117.24 1.24L117.01 1.36L116.8 1.5L116.74 1.68L116.77 1.87L116.62 2L116.6 2.2L116.43 2.44L116.2 2.62L116.29 2.91L116.2 3.2L116.19 3.53L116 3.8L115.71 3.81L115.45 3.95L115.17 4L114.9 4.1L114.78 3.96L114.72 3.79L114.58 3.66L114.5 3.5L114.29 3.44L114.12 3.32L113.9 3.33L113.7 3.4L113.5 3.36L113.38 3.2L113.19 3.25L113 3.2L112.75 3.23L112.52 3.14L112.32 3.29L112.1 3.4L111.97 3.13L111.7 3L111.51 2.99L111.35 3.08L111.16 3.1L111 3L110.8 2.97L110.61 2.91L110.4 2.9L110.2 2.9L110.08 2.64L110.03 2.36L110 2.07L110.1 1.8L110.04 1.62L109.87 1.52L109.73 1.39L109.54 1.39L109.62 1.21L109.56 1.03L109.45 0.87L109.4 0.7L109.33 0.5L109.21 0.31L109.22 0.09L109.1 -0.1L109.09 -0.28L109.13 -0.46L109.11 -0.65L109 -0.8L109.03 -0.98L109.1 -1.15L109.03 -1.32L109 -1.5ZM95.3 -5.5L95.59 -5.47L95.84 -5.31L96.13 -5.29L96.4 -5.2L96.68 -5.22L96.95 -5.16L97.22 -5.26L97.5 -5.2L97.65 -5.09L97.75 -4.94L97.93 -4.88L98.11 -4.84L98.19 -4.66L98.14 -4.47L98.24 -4.3L98.4 -4.2L98.58 -4.15L98.7 -4L98.89 -4.01L99.04 -3.91L99.09 -3.73L99.19 -3.58L99.32 -3.46L99.4 -3.3L99.53 -3.12L99.56 -2.9L99.76 -2.81L99.92 -2.66L100.1 -2.52L100.17 -2.3L100.39 -2.26L100.6 -2.2L100.79 -2.2L100.98 -2.2L101.17 -2.15L101.3 -2L101.57 -1.87L101.7 -1.6L101.99 -1.57L102.23 -1.42L102.41 -1.2L102.6 -1L102.73 -0.85L102.75 -0.65L102.93 -0.59L103.1 -0.5L103.32 -0.48L103.53 -0.43L103.6 -0.22L103.8 -0.1L103.72 0.12L103.71 0.35L103.74 0.58L103.8 0.8L104.14 0.88L104.4 1.1L104.36 1.27L104.33 1.45L104.47 1.58L104.49 1.77L104.67 2.05L104.9 2.3L105.08 2.3L105.25 2.33L105.41 2.42L105.6 2.4L105.68 2.61L105.82 2.77L106 2.9L106.1 3.1L106.07 3.41L106.09 3.72L106.03 4.02L105.9 4.3L105.88 4.5L105.85 4.7L105.95 4.87L106.01 5.06L105.96 5.26L105.82 5.41L105.75 5.6L105.8 5.8L105.6 5.88L105.39 5.86L105.18 5.82L105 5.7L104.78 5.87L104.5 5.9L104.31 5.65L104.02 5.55L103.88 5.29L103.8 5L103.63 4.91L103.44 4.9L103.29 4.8L103.16 4.66L103.01 4.55L102.83 4.49L102.68 4.37L102.6 4.2L102.41 4.03L102.29 3.81L102.1 3.64L102 3.4L101.85 3.28L101.71 3.15L101.51 3.11L101.38 2.96L101.27 2.8L101.16 2.65L101.12 2.46L101 2.3L100.85 2L100.6 1.78L100.44 1.5L100.3 1.2L100.15 1.11L100.03 0.98L99.99 0.8L99.86 0.67L99.74 0.53L99.68 0.36L99.71 0.18L99.7 -0L99.53 -0.21L99.44 -0.48L99.24 -0.66L99.1 -0.9L98.95 -1.14L98.69 -1.26L98.55 -1.52L98.6 -1.8L98.33 -1.93L98.04 -2.01L97.8 -2.2L97.7 -2.5L97.68 -2.77L97.5 -2.97L97.29 -3.12L97.1 -3.3L96.88 -3.46L96.66 -3.62L96.44 -3.81L96.4 -4.1L96.1 -4.24L95.88 -4.48L95.64 -4.69L95.4 -4.9L95.32 -5.2L95.3 -5.5ZM105.2 6.8L105.41 6.63L105.55 6.4L105.78 6.25L105.9 6L106.1 6.08L106.3 6.01L106.5 5.96L106.7 6L107.04 6.05L107.38 6.01L107.71 6.12L108 6.3L108.21 6.33L108.36 6.48L108.45 6.66L108.6 6.8L108.84 6.81L109.08 6.86L109.31 6.93L109.54 6.97L109.81 6.94L110.03 7.08L110.27 7L110.5 6.9L110.69 6.81L110.79 6.64L110.93 6.49L111.1 6.4L111.27 6.53L111.46 6.62L111.66 6.54L111.87 6.58L112.09 6.53L112.3 6.6L112.51 6.69L112.6 6.9L112.7 7.06L112.85 7.17L112.98 7.31L113 7.5L113.16 7.34L113.38 7.29L113.59 7.32L113.8 7.38L113.99 7.51L114.08 7.71L114.28 7.81L114.5 7.8L114.5 8.03L114.54 8.26L114.47 8.48L114.4 8.7L114.13 8.64L113.86 8.7L113.66 8.5L113.4 8.4L113.22 8.34L113.04 8.39L112.86 8.35L112.69 8.44L112.52 8.43L112.35 8.36L112.17 8.37L112 8.3L111.84 8.16L111.63 8.1L111.42 8.12L111.22 8.05L111.01 8.04L110.81 8.11L110.6 8.16L110.4 8.1L110.25 7.99L110.06 7.98L109.9 7.87L109.73 7.83L109.54 7.8L109.36 7.83L109.18 7.81L109 7.8L108.79 7.61L108.5 7.6L108.28 7.78L108 7.8L107.79 7.78L107.61 7.67L107.4 7.64L107.2 7.6L106.99 7.59L106.81 7.47L106.62 7.37L106.4 7.4L106.23 7.15L105.97 7.01L105.69 6.91L105.4 6.9L105.2 6.8ZM112.7 6.9L114 6.9L113.8 7.2L112.8 7.2ZM114.5 8.1L115.3 8.2L115.7 8.4L115.2 8.8L114.5 8.4ZM116 8.3L116.7 8.3L116.5 8.9L116 8.8ZM116.8 8.5L117.8 8.1L119 8.3L118.8 8.8L117.5 8.9L116.8 9ZM119.8 8.6L121 8.4L122.8 8.2L123 8.5L121.5 8.8L120 8.9ZM119 9.5L120.2 9.6L120.8 10.1L120 10.3L119.1 9.8ZM123.6 10.3L123.84 10.1L123.96 9.8L124.21 9.61L124.5 9.5L124.72 9.37L124.98 9.38L125.16 9.2L125.3 9L125.5 8.85L125.72 8.73L125.96 8.79L126.22 8.81L126.37 8.62L126.53 8.43L126.75 8.33L127 8.3L126.85 8.4L126.76 8.56L126.6 8.65L126.5 8.8L126.3 8.93L126.07 9.01L125.83 8.93L125.59 8.98L125.53 9.22L125.35 9.39L125.2 9.57L125 9.7L124.84 9.97L124.55 10.09L124.24 10.1L124 10.3L123.8 10.22L123.6 10.3ZM119.4 5.5L119.63 5.46L119.85 5.54L120.07 5.58L120.3 5.6L120.33 5.37L120.51 5.22L120.57 5.02L120.65 4.82L120.58 4.61L120.57 4.4L120.5 4.19L120.4 4L120.37 3.71L120.37 3.43L120.45 3.15L120.6 2.9L120.75 3.07L120.89 3.24L121.08 3.36L121.3 3.4L121.34 3.7L121.24 3.97L121.02 4.19L121 4.5L121.1 4.65L121.24 4.77L121.41 4.85L121.6 4.8L121.75 4.91L121.93 4.96L122.12 4.97L122.3 5L122.4 4.85L122.54 4.74L122.69 4.64L122.8 4.5L122.66 4.26L122.6 4L122.47 3.86L122.3 3.76L122.24 3.59L122.2 3.4L122.14 3.23L122 3.11L121.88 2.96L121.89 2.78L121.88 2.59L121.8 2.42L121.68 2.27L121.5 2.2L121.38 1.99L121.32 1.75L121.17 1.57L121 1.4L121.17 1.3L121.33 1.19L121.46 1.04L121.6 0.9L121.84 0.89L122.04 0.76L122.27 0.77L122.5 0.8L122.71 0.83L122.91 0.75L123.12 0.8L123.3 0.9L123.4 0.6L123.21 0.6L123.01 0.61L122.83 0.53L122.71 0.37L122.53 0.4L122.36 0.47L122.18 0.46L122 0.5L121.74 0.73L121.52 1L121.35 1.07L121.25 1.23L121.09 1.33L120.9 1.3L120.71 1.18L120.63 0.97L120.43 0.88L120.3 0.7L120.27 0.49L120.29 0.28L120.22 0.08L120.1 -0.1L120.25 -0.21L120.36 -0.36L120.5 -0.49L120.7 -0.5L120.92 -0.43L121.15 -0.41L121.38 -0.41L121.6 -0.5L121.88 -0.53L122.15 -0.47L122.42 -0.39L122.7 -0.4L122.99 -0.44L123.25 -0.29L123.52 -0.37L123.8 -0.4L123.99 -0.37L124.17 -0.44L124.32 -0.54L124.5 -0.6L124.69 -0.8L124.92 -0.97L125.1 -1.2L125.1 -1.5L124.83 -1.32L124.5 -1.3L124.31 -1.14L124.1 -0.99L123.86 -0.89L123.6 -0.9L123.31 -0.97L123.04 -0.84L122.74 -0.81L122.5 -1L122.33 -0.89L122.13 -0.92L121.94 -0.96L121.78 -1.06L121.61 -1.12L121.45 -1.2L121.29 -1.3L121.1 -1.3L120.92 -1.1L120.66 -1.08L120.46 -0.91L120.2 -0.9L120.02 -0.71L120.01 -0.44L119.82 -0.26L119.8 -0L119.74 0.22L119.64 0.42L119.49 0.59L119.4 0.8L119.34 1.05L119.28 1.3L119.19 1.54L119.2 1.8L118.99 1.99L118.84 2.24L118.74 2.51L118.8 2.8L118.79 2.99L118.84 3.17L118.91 3.34L119 3.5L119.07 3.67L119.21 3.79L119.32 3.95L119.5 4L119.61 4.17L119.62 4.37L119.58 4.57L119.53 4.76L119.51 4.94L119.46 5.13L119.4 5.31L119.4 5.5ZM127.5 -2.1L127.67 -1.97L127.82 -1.82L128.01 -1.7L128.1 -1.5L128.11 -1.3L128.11 -1.09L127.98 -0.92L128 -0.7L128.2 -0.79L128.35 -0.95L128.57 -1.02L128.7 -1.2L128.64 -1L128.65 -0.8L128.6 -0.6L128.6 -0.4L128.43 -0.31L128.24 -0.34L128.07 -0.27L127.9 -0.2L128.07 -0.05L128.16 0.16L128.23 0.37L128.2 0.6L127.93 0.65L127.7 0.8L127.84 0.5L127.79 0.17L127.73 -0.16L127.5 -0.4L127.49 -0.63L127.46 -0.86L127.55 -1.09L127.72 -1.25L127.8 -1.48L127.78 -1.72L127.6 -1.88L127.5 -2.1ZM128 3.2L129.5 2.9L130.8 3.3L130.4 3.7L129 3.5L128 3.6ZM126 3.1L126.9 3.1L127.2 3.5L126.7 3.9L126 3.6ZM131 1L131.18 0.88L131.37 0.78L131.58 0.81L131.8 0.8L131.92 0.62L132.1 0.51L132.29 0.43L132.5 0.4L132.79 0.37L133.07 0.44L133.32 0.58L133.5 0.8L133.78 0.97L134.1 0.9L134.02 1.07L134.07 1.25L133.96 1.4L133.9 1.57L134.08 1.66L134.16 1.83L134.22 2.01L134.2 2.2L134.35 2.51L134.52 2.81L134.79 3.03L135 3.3L135.17 3.1L135.39 2.94L135.64 2.86L135.9 2.8L135.88 2.56L135.99 2.35L136.17 2.21L136.35 2.07L136.58 2.02L136.74 1.85L136.91 1.71L137 1.5L137.2 1.44L137.4 1.42L137.6 1.46L137.8 1.4L137.97 1.53L138.08 1.73L138.28 1.83L138.5 1.8L138.7 1.7L138.91 1.68L139.11 1.77L139.3 1.88L139.48 2.01L139.7 2.02L139.79 2.22L139.9 2.4L140.16 2.52L140.45 2.51L140.74 2.47L141 2.6L141.12 2.83L141.37 2.92L141.61 2.96L141.85 2.94L142.09 3.01L142.24 3.21L142.47 3.26L142.7 3.3L142.96 3.34L143.21 3.41L143.39 3.6L143.52 3.83L143.76 3.75L144.01 3.77L144.26 3.69L144.5 3.8L144.75 3.75L144.98 3.87L145.14 4.05L145.31 4.23L145.45 4.44L145.7 4.52L145.81 4.75L145.8 5L145.81 5.29L146 5.5L146.18 5.64L146.4 5.63L146.59 5.73L146.71 5.91L146.92 5.95L147.13 5.88L147.3 6.02L147.5 6.1L147.53 6.29L147.63 6.46L147.78 6.6L147.8 6.8L147.54 6.87L147.37 7.09L147.13 7.18L146.9 7.3L147.01 7.51L147.14 7.7L147.28 7.9L147.5 8L147.69 8.14L147.83 8.33L147.96 8.54L148.2 8.6L148.36 8.78L148.41 9.03L148.61 9.16L148.8 9.3L149 9.38L149.18 9.51L149.4 9.5L149.6 9.6L149.76 9.69L149.95 9.69L150.03 9.87L150.2 9.94L150.37 10.04L150.56 10.02L150.71 10.13L150.8 10.3L150.61 10.35L150.43 10.39L150.31 10.54L150.2 10.7L150.01 10.72L149.84 10.81L149.66 10.78L149.49 10.7L149.35 10.57L149.26 10.41L149.08 10.34L148.9 10.3L148.62 10.43L148.32 10.36L148.05 10.26L147.8 10.1L147.51 9.9L147.17 9.83L147.1 9.66L146.97 9.54L146.97 9.36L146.9 9.2L146.75 9.08L146.67 8.9L146.55 8.76L146.42 8.63L146.35 8.43L146.18 8.33L146.04 8.19L146 8L145.89 7.85L145.74 7.75L145.55 7.77L145.4 7.65L145.23 7.56L145.05 7.6L144.87 7.54L144.7 7.6L144.49 7.64L144.29 7.73L144.07 7.75L143.9 7.9L143.85 8.22L143.65 8.48L143.49 8.75L143.3 9L143.11 9.03L142.95 9.14L142.8 9.28L142.6 9.3L142.42 9.29L142.25 9.22L142.08 9.26L141.9 9.27L141.73 9.21L141.55 9.19L141.38 9.13L141.2 9.2L141.02 9.05L140.98 8.82L140.82 8.67L140.63 8.55L140.52 8.35L140.34 8.21L140.11 8.2L139.9 8.1L139.63 8.2L139.38 8.35L139.08 8.3L138.8 8.4L138.6 8.41L138.4 8.35L138.2 8.37L138 8.4L137.97 8.17L137.89 7.96L137.93 7.73L137.9 7.5L138.1 7.33L138.35 7.25L138.47 7.02L138.6 6.8L138.64 6.57L138.52 6.38L138.47 6.15L138.3 6L138.22 5.67L138 5.4L137.79 5.16L137.5 5.03L137.2 5L136.9 4.9L136.72 4.78L136.5 4.79L136.29 4.85L136.09 4.75L135.88 4.7L135.67 4.71L135.46 4.65L135.3 4.5L135.04 4.5L134.79 4.44L134.63 4.23L134.4 4.1L134.17 4.06L133.99 3.93L133.83 3.74L133.6 3.7L133.43 3.85L133.2 3.86L132.99 3.9L132.8 4L132.75 3.82L132.62 3.68L132.45 3.61L132.29 3.53L132.2 3.38L132.08 3.24L132.05 3.07L132 2.9L132.18 3L132.38 2.96L132.56 2.87L132.72 2.76L132.88 2.66L133.07 2.65L133.26 2.62L133.4 2.5L133.34 2.28L133.2 2.1L132.97 2.09L132.74 2.05L132.5 2.06L132.3 2.2L132.02 2.2L131.79 2.05L131.72 1.77L131.5 1.6L131.36 1.44L131.15 1.38L131.01 1.22L131 1ZM148.4 5.5L148.69 5.54L148.94 5.71L149.21 5.61L149.5 5.6L149.68 5.57L149.85 5.52L150.02 5.44L150.2 5.5L150.35 5.38L150.54 5.37L150.72 5.45L150.9 5.4L151.16 5.39L151.35 5.22L151.41 4.97L151.6 4.8L151.72 4.65L151.83 4.49L152.02 4.39L152.1 4.2L152.3 4.47L152.3 4.8L152.16 5.05L151.9 5.16L151.79 5.41L151.6 5.6L151.45 5.69L151.28 5.75L151.1 5.74L150.92 5.75L150.83 5.92L150.64 5.97L150.62 6.16L150.5 6.3L150.19 6.38L149.86 6.43L149.62 6.2L149.3 6.1L149.06 6.1L148.86 5.97L148.63 5.91L148.4 5.9ZM150.7 2.6L151.8 3.2L152.8 4.2L153 4.7L152.4 4.2L151.2 3ZM154.6 5L155.4 5.7L155.9 6.5L155.5 6.8L154.8 6ZM159.6 9.3L160.6 9.6L160.8 9.9L159.9 9.8ZM160.6 8.4L161.3 8.9L161.5 9.6L160.9 9ZM113.5 22L113.78 21.85L114.1 21.8L114.31 21.58L114.6 21.5L114.81 21.32L114.96 21.09L115.24 21.11L115.5 21L115.78 20.84L116.08 20.74L116.38 20.63L116.7 20.6L117.02 20.65L117.34 20.59L117.56 20.34L117.9 20.3L118.12 20.19L118.35 20.13L118.59 20.19L118.8 20.3L119.09 20.17L119.28 19.92L119.59 19.97L119.9 19.9L120.16 19.76L120.44 19.67L120.69 19.49L121 19.5L121.18 19.32L121.31 19.11L121.49 18.93L121.6 18.7L121.69 18.48L121.88 18.33L121.99 18.12L122.2 18L122.19 17.82L122.26 17.65L122.24 17.47L122.3 17.3L122.48 17.06L122.54 16.76L122.76 16.56L123 16.4L123.19 16.56L123.37 16.75L123.53 16.95L123.6 17.2L123.6 16.97L123.64 16.74L123.75 16.53L123.8 16.3L124.1 16.23L124.4 16.2L124.43 16L124.48 15.8L124.55 15.6L124.6 15.4L124.84 15.32L125 15.14L125.16 14.94L125.2 14.7L125.38 14.59L125.58 14.55L125.72 14.4L125.9 14.3L126.07 14.22L126.25 14.18L126.36 14.02L126.5 13.9L126.69 13.81L126.9 13.78L127.11 13.81L127.3 13.9L127.36 14.19L127.53 14.44L127.76 14.62L128 14.8L128.26 14.77L128.5 14.88L128.75 14.97L129 14.9L129.3 14.94L129.6 14.9L129.51 14.65L129.4 14.4L129.5 14.17L129.72 14.04L129.8 13.82L129.9 13.6L129.92 13.41L130.04 13.26L130.2 13.16L130.3 13L130.47 12.88L130.63 12.77L130.75 12.6L130.8 12.4L131.03 12.26L131.3 12.2L131.5 12.21L131.67 12.11L131.8 12.26L132 12.3L132.29 12.16L132.6 12.1L132.68 11.93L132.68 11.75L132.65 11.57L132.6 11.4L132.73 11.6L132.94 11.73L133.17 11.77L133.4 11.8L133.66 11.89L133.92 11.79L134.16 11.89L134.4 12L134.61 12.13L134.85 12.1L135.09 12.08L135.3 12.2L135.49 12.17L135.65 12.05L135.83 11.98L136 11.9L136.2 11.93L136.34 12.08L136.51 12.17L136.7 12.2L136.7 12.4L136.75 12.6L136.73 12.8L136.7 13L136.47 13.05L136.33 13.23L136.11 13.2L135.9 13.3L135.97 13.5L135.9 13.7L135.96 13.9L135.9 14.1L135.76 14.27L135.56 14.39L135.51 14.61L135.4 14.8L135.68 14.9L135.88 15.12L136.13 15.3L136.2 15.6L136.46 15.67L136.73 15.63L136.85 15.88L137.1 16L137.28 16L137.45 16.02L137.57 16.16L137.75 16.21L137.9 16.52L138.1 16.8L138.28 17.02L138.57 17.06L138.83 17.18L139.1 17.1L139.12 17.38L139.3 17.6L139.54 17.55L139.77 17.48L139.98 17.59L140.2 17.7L140.36 17.58L140.51 17.46L140.71 17.47L140.9 17.4L140.97 17.14L141.05 16.88L141.19 16.65L141.3 16.4L141.24 16.22L141.27 16.03L141.38 15.88L141.42 15.69L141.52 15.53L141.64 15.38L141.69 15.18L141.6 15L141.76 14.69L141.7 14.35L141.69 14.02L141.6 13.7L141.54 13.48L141.5 13.26L141.46 13.03L141.5 12.8L141.69 12.62L141.71 12.35L141.87 12.15L141.9 11.9L141.92 11.64L141.97 11.38L142.03 11.11L142.2 10.9L142.37 10.83L142.5 10.7L142.71 10.91L142.8 11.2L142.81 11.39L142.91 11.55L143.01 11.71L143 11.9L143.13 12.12L143.29 12.31L143.27 12.57L143.4 12.8L143.4 13.11L143.24 13.37L143.34 13.65L143.5 13.9L143.76 13.96L144.03 13.95L144.27 14.07L144.5 14.2L144.7 14.42L144.96 14.54L145.17 14.74L145.3 15L145.13 15.22L145.13 15.5L145.22 15.75L145.3 16L145.4 16.28L145.58 16.51L145.79 16.72L145.9 17L145.96 17.28L146.09 17.54L146.11 17.83L146.2 18.1L146.14 18.32L146.24 18.52L146.27 18.73L146.4 18.9L146.69 19.08L146.86 19.37L147.17 19.47L147.5 19.5L147.56 19.72L147.75 19.84L147.97 19.82L148.17 19.93L148.33 20.06L148.42 20.25L148.58 20.4L148.8 20.4L148.96 20.58L149.08 20.78L149.23 20.97L149.3 21.2L149.44 21.45L149.5 21.74L149.44 22.04L149.6 22.3L149.84 22.18L150.1 22.1L150.26 22.26L150.37 22.46L150.61 22.47L150.8 22.6L150.94 22.8L150.96 23.05L150.82 23.25L150.8 23.5L150.97 23.69L151.2 23.8L151.42 23.93L151.6 24.1L151.86 24.29L152.11 24.49L152.28 24.76L152.5 25L152.64 25.16L152.76 25.34L152.88 25.54L153.1 25.6L153.11 25.83L153.08 26.05L153.02 26.28L153.1 26.5L153.05 26.71L153.08 26.92L153.04 27.13L153.08 27.34L153.15 27.55L153.35 27.66L153.43 27.87L153.6 28L153.6 28.18L153.54 28.35L153.47 28.52L153.44 28.69L153.45 28.88L153.55 29.04L153.55 29.22L153.5 29.4L153.38 29.63L153.37 29.88L153.31 30.14L153.1 30.3L152.98 30.62L153.03 30.96L152.9 31.26L152.9 31.6L152.68 31.75L152.55 31.98L152.62 32.25L152.5 32.5L152.27 32.61L152.15 32.82L151.94 32.95L151.7 33L151.64 33.22L151.51 33.41L151.36 33.58L151.3 33.8L151.15 33.99L151.15 34.23L151.1 34.46L150.9 34.6L150.79 34.9L150.7 35.2L150.49 35.3L150.32 35.46L150.31 35.69L150.2 35.9L150.32 36.13L150.25 36.38L150.04 36.54L150 36.8L150.1 36.97L150.08 37.17L149.99 37.34L149.9 37.5L149.7 37.73L149.4 37.8L149.13 37.86L148.85 37.91L148.59 37.78L148.3 37.8L148.06 37.8L147.84 37.91L147.63 38.04L147.4 38.1L147.21 38.11L147.02 38.16L146.89 38.3L146.75 38.42L146.72 38.62L146.6 38.77L146.42 38.84L146.3 39L146.04 38.87L145.83 38.68L145.67 38.43L145.4 38.3L145.15 38.35L144.9 38.4L144.68 38.2L144.4 38.1L144.16 38.25L144.04 38.5L143.87 38.72L143.6 38.8L143.43 38.71L143.24 38.68L143.04 38.66L142.86 38.73L142.67 38.73L142.51 38.62L142.32 38.55L142.2 38.4L141.93 38.22L141.65 38.06L141.31 38.15L141 38L140.81 37.75L140.6 37.53L140.28 37.54L140 37.4L139.86 37.26L139.67 37.19L139.6 37.01L139.55 36.83L139.5 36.65L139.52 36.46L139.51 36.27L139.6 36.1L139.43 36L139.24 35.92L139.08 35.79L139 35.6L138.77 35.55L138.55 35.45L138.32 35.51L138.1 35.6L138.28 35.51L138.42 35.38L138.51 35.2L138.5 35L138.36 34.69L138.2 34.4L138.11 34.6L138.05 34.82L137.82 34.89L137.7 35.1L137.47 35.16L137.27 35.28L137.03 35.29L136.8 35.3L137.01 35.15L137.24 35.04L137.37 34.82L137.5 34.6L137.59 34.34L137.75 34.12L137.85 33.87L137.9 33.6L137.98 33.42L137.93 33.24L137.86 33.07L137.8 32.9L137.68 33.17L137.41 33.31L137.13 33.43L137 33.7L136.84 33.79L136.73 33.94L136.58 34.05L136.4 34.1L136.26 34.33L136.01 34.41L136.03 34.67L135.9 34.9L135.71 34.84L135.53 34.74L135.39 34.59L135.2 34.5L135.12 34.2L135.2 33.9L135.04 33.74L134.89 33.56L134.74 33.39L134.6 33.2L134.48 33.07L134.32 32.98L134.25 32.81L134.1 32.7L133.92 32.66L133.77 32.56L133.67 32.41L133.62 32.24L133.33 32.08L133 32L132.83 31.95L132.65 31.96L132.48 32.02L132.3 32L132.03 31.93L131.76 31.83L131.55 31.64L131.3 31.5L131.05 31.6L130.8 31.54L130.58 31.66L130.42 31.87L130.19 31.79L129.96 31.72L129.74 31.63L129.5 31.6L129.18 31.73L128.83 31.67L128.51 31.76L128.2 31.9L127.9 31.9L127.6 31.96L127.31 32.08L127.1 32.3L126.87 32.18L126.61 32.11L126.34 32.05L126.1 32.2L125.95 32.47L125.7 32.65L125.41 32.76L125.1 32.7L124.86 32.72L124.62 32.76L124.41 32.88L124.2 33L124.2 33.27L124.05 33.51L123.88 33.7L123.7 33.9L123.48 34.01L123.25 34.06L123.02 33.98L122.8 33.9L122.51 34.03L122.2 34L121.95 33.95L121.72 34.04L121.52 33.9L121.3 33.8L121.13 33.85L120.95 33.83L120.77 33.84L120.6 33.9L120.42 33.94L120.24 33.88L120.06 33.9L119.9 34L119.82 34.19L119.67 34.33L119.48 34.41L119.3 34.5L119.11 34.61L118.94 34.75L118.71 34.81L118.5 34.7L118.24 34.89L118 35.1L117.83 35.19L117.63 35.16L117.46 35.09L117.3 35L117.13 34.94L116.95 34.88L116.76 34.89L116.6 35L116.32 34.84L116 34.86L115.73 34.69L115.6 34.4L115.33 34.2L115 34.2L115.07 33.9L115 33.6L115.18 33.54L115.36 33.48L115.56 33.45L115.7 33.3L115.73 33.1L115.7 32.9L115.64 32.72L115.65 32.54L115.73 32.37L115.8 32.2L115.77 31.9L115.7 31.6L115.57 31.34L115.33 31.16L115.37 30.85L115.2 30.6L115.21 30.32L115.12 30.05L115.14 29.76L115 29.5L114.94 29.3L114.82 29.14L114.7 28.98L114.6 28.8L114.54 28.61L114.44 28.43L114.32 28.27L114.2 28.1L114.24 27.89L114.15 27.69L114.08 27.49L114 27.3L113.91 27.08L113.79 26.88L113.62 26.71L113.5 26.5L113.45 26.27L113.43 26.04L113.41 25.81L113.3 25.6L113.41 25.75L113.55 25.88L113.73 25.92L113.9 26L113.79 25.73L113.85 25.44L113.76 25.15L113.5 25L113.34 24.72L113.4 24.4L113.5 24.19L113.68 24.04L113.76 23.83L113.8 23.6L113.66 23.34L113.55 23.07L113.56 22.77L113.7 22.5L113.67 22.22L113.5 22ZM144.7 40.7L144.89 40.7L145.07 40.62L145.27 40.65L145.4 40.8L145.66 40.85L145.89 40.99L146.13 41.09L146.4 41.1L146.75 41.1L147.09 41.13L147.28 41.12L147.46 41.08L147.6 40.95L147.7 40.8L148.02 40.74L148.3 40.9L148.32 41.21L148.44 41.5L148.43 41.81L148.3 42.1L148.19 42.37L148.15 42.67L147.99 42.92L147.9 43.2L147.75 43.42L147.5 43.5L147.25 43.58L147 43.5L146.75 43.56L146.5 43.55L146.25 43.51L146 43.5L145.86 43.26L145.85 42.99L145.58 42.92L145.4 42.7L145.34 42.5L145.18 42.38L145.2 42.18L145.1 42L145.05 41.77L144.87 41.62L144.84 41.39L144.7 41.2L144.63 40.95L144.7 40.7ZM172.7 34.4L172.92 34.51L173.17 34.56L173.34 34.75L173.4 35L173.57 35.18L173.8 35.3L174.05 35.33L174.3 35.3L174.42 35.53L174.36 35.78L174.47 36L174.6 36.2L174.8 36.2L174.99 36.25L175.16 36.36L175.3 36.5L175.44 36.63L175.63 36.67L175.72 36.83L175.8 37L176.08 37.2L176.32 37.42L176.59 37.63L176.8 37.9L177.1 37.88L177.4 37.9L177.66 37.67L178 37.6L178.27 37.55L178.5 37.7L178.51 37.94L178.54 38.18L178.44 38.4L178.3 38.6L178.19 38.76L178.17 38.95L178.07 39.11L177.9 39.2L177.67 39.14L177.45 39.2L177.22 39.22L177 39.2L176.98 39.38L176.9 39.54L176.91 39.72L176.9 39.9L176.81 40.09L176.84 40.3L176.63 40.37L176.53 40.56L176.35 40.64L176.18 40.75L176.1 40.93L176 41.1L175.88 41.34L175.7 41.53L175.45 41.61L175.2 41.7L174.91 41.55L174.7 41.3L174.76 41.05L174.78 40.8L174.94 40.6L175.1 40.4L174.91 40.36L174.79 40.21L174.75 40.02L174.6 39.9L174.41 39.78L174.21 39.67L174.01 39.58L173.8 39.5L174.02 39.34L174.16 39.1L174.34 38.89L174.6 38.8L174.54 38.63L174.56 38.45L174.6 38.27L174.61 38.1L174.62 37.91L174.72 37.76L174.75 37.58L174.7 37.4L174.57 37.24L174.46 37.07L174.35 36.9L174.3 36.7L174.28 36.51L174.22 36.33L174.13 36.16L173.96 36.06L173.84 35.92L173.71 35.79L173.55 35.7L173.4 35.6L173.36 35.42L173.26 35.27L173.22 35.1L173.19 34.92L173.03 34.83L172.89 34.71L172.85 34.53L172.7 34.4ZM172.6 40.5L172.67 40.67L172.79 40.81L172.93 40.93L173.1 41L173.4 40.92L173.7 40.96L173.93 41.16L174.2 41.3L174.18 41.55L174.2 41.8L174.12 42.13L173.93 42.41L173.6 42.52L173.4 42.8L173.23 42.95L173.04 43.08L172.87 43.24L172.7 43.4L172.4 43.57L172.3 43.9L172.01 43.9L171.79 44.08L171.55 44.19L171.3 44.3L171.26 44.52L171.13 44.71L171 44.9L170.8 45L170.66 45.2L170.67 45.44L170.6 45.67L170.6 45.9L170.49 46.04L170.33 46.12L170.2 46.25L170.04 46.32L169.89 46.42L169.71 46.43L169.59 46.57L169.4 46.6L169.14 46.54L168.9 46.63L168.65 46.56L168.4 46.6L168.27 46.45L168.08 46.38L167.91 46.29L167.77 46.15L167.61 46.3L167.4 46.32L167.2 46.26L167 46.2L166.71 46.05L166.5 45.8L166.58 45.62L166.71 45.46L166.77 45.26L166.9 45.1L167.02 44.95L167.03 44.75L167.11 44.57L167.28 44.48L167.41 44.35L167.54 44.21L167.73 44.19L167.9 44.1L168.16 44.17L168.44 44.18L168.61 43.95L168.9 43.9L169.15 43.92L169.36 43.8L169.5 43.59L169.74 43.52L169.99 43.51L170.2 43.38L170.3 43.15L170.5 43L170.59 42.84L170.64 42.67L170.79 42.55L170.88 42.39L170.96 42.22L171.11 42.11L171.25 41.98L171.3 41.8L171.39 41.63L171.57 41.55L171.73 41.47L171.9 41.4L172.01 41.15L172.1 40.9L172.33 40.68L172.6 40.5ZM164 20.3L164.24 20.3L164.46 20.42L164.69 20.5L164.9 20.6L165.15 20.82L165.46 20.93L165.69 21.18L166 21.3L166.18 21.28L166.36 21.3L166.52 21.39L166.63 21.54L166.67 21.71L166.72 21.89L166.9 21.94L167 22.1L166.84 22.28L166.6 22.3L166.33 22.09L165.98 22.12L165.74 21.92L165.5 21.7L165.39 21.54L165.31 21.37L165.16 21.24L164.98 21.16L164.84 21.04L164.74 20.87L164.59 20.75L164.4 20.7L164.19 20.51L164 20.3ZM177.3 17.4L178.2 17.3L178.6 18L177.9 18.3L177.3 18.1L177.3 17.4ZM178.5 16.6L179.4 16.4L180 16.2L179.6 16.8L178.8 16.9ZM166.6 15L167.2 15.3L167.3 15.9L166.8 15.7ZM168.2 17.6L168.5 17.6L168.4 17.9ZM49.3 12L49.33 12.29L49.4 12.58L49.57 12.82L49.8 13L49.86 13.18L49.91 13.35L49.91 13.54L49.91 13.73L49.91 13.92L49.92 14.12L50.1 14.23L50.2 14.4L50.23 14.67L50.22 14.94L50.34 15.18L50.5 15.4L50.37 15.71L50.2 16L50.21 16.24L50.07 16.43L49.94 16.62L49.8 16.8L49.81 17.06L49.71 17.3L49.71 17.56L49.6 17.8L49.53 18.11L49.42 18.41L49.24 18.68L49.2 19L49.06 19.32L49.15 19.65L49 19.94L48.8 20.2L48.78 20.55L48.73 20.89L48.59 21.01L48.49 21.15L48.49 21.34L48.4 21.5L48.28 21.83L48.13 22.14L48.04 22.48L47.9 22.8L47.66 23.04L47.59 23.36L47.58 23.69L47.5 24L47.27 24.14L47.16 24.39L47.03 24.63L47.1 24.9L46.79 25.01L46.48 24.9L46.21 25.06L46 25.3L45.77 25.24L45.55 25.31L45.41 25.49L45.2 25.6L45.02 25.4L44.76 25.37L44.55 25.23L44.3 25.2L44.2 24.96L44 24.8L43.82 24.62L43.7 24.4L43.61 24.21L43.6 24L43.53 23.8L43.58 23.59L43.54 23.38L43.61 23.17L43.46 23.01L43.4 22.8L43.39 22.58L43.24 22.41L43.22 22.2L43.3 22L43.45 21.77L43.44 21.49L43.63 21.3L43.8 21.1L43.87 20.93L43.98 20.79L43.98 20.61L43.9 20.44L44.14 20.21L44.4 20L44.29 19.74L44.07 19.55L44.19 19.28L44.1 19L44.03 18.81L43.89 18.66L43.95 18.46L43.94 18.26L43.97 18.07L43.98 17.88L44.04 17.69L44 17.5L44.28 17.33L44.41 17.03L44.48 16.71L44.4 16.4L44.52 16.26L44.68 16.17L44.84 16.08L45 16L45.13 15.86L45.23 15.7L45.43 15.73L45.6 15.63L45.77 15.68L45.94 15.76L46.11 15.68L46.3 15.7L46.53 15.51L46.83 15.51L47.01 15.31L47.2 15.1L47.33 14.91L47.43 14.69L47.62 14.56L47.8 14.4L47.83 14.15L47.99 13.96L48.2 13.83L48.3 13.6L48.43 13.37L48.69 13.28L48.7 13.03L48.8 12.8L48.95 12.6L49.16 12.47L49.2 12.23L49.3 12ZM12.4 -38L12.61 -38.12L12.85 -38.11L13.07 -38.15L13.3 -38.2L13.59 -38.05L13.9 -38.12L14.21 -38.11L14.5 -38L14.79 -38.01L15.08 -38.03L15.33 -38.19L15.6 -38.3L15.48 -38.05L15.54 -37.79L15.37 -37.6L15.2 -37.4L15.24 -37.22L15.19 -37.04L15.2 -36.86L15.1 -36.7L14.92 -36.68L14.75 -36.76L14.57 -36.74L14.4 -36.8L14.07 -36.88L13.74 -36.98L13.57 -37.04L13.39 -37.08L13.33 -37.26L13.2 -37.4L12.97 -37.37L12.78 -37.49L12.55 -37.53L12.4 -37.7L12.4 -38ZM8.2 -41L8.46 -40.89L8.74 -40.92L8.98 -41.05L9.2 -41.2L9.5 -41.13L9.7 -40.9L9.65 -40.7L9.66 -40.49L9.79 -40.32L9.8 -40.1L9.62 -39.92L9.59 -39.67L9.61 -39.44L9.6 -39.2L9.3 -39.1L9 -39L8.75 -38.93L8.5 -38.9L8.37 -39.08L8.29 -39.28L8.3 -39.5L8.4 -39.7L8.48 -39.86L8.51 -40.04L8.55 -40.22L8.5 -40.4L8.36 -40.7L8.2 -41ZM8.6 -42.9L9.4 -43L9.5 -42.2L9.2 -41.4L8.7 -41.7L8.6 -42.9ZM23.5 -35.6L23.64 -35.41L23.87 -35.37L24.08 -35.45L24.3 -35.4L24.55 -35.26L24.84 -35.26L25.12 -35.36L25.4 -35.3L25.64 -35.35L25.85 -35.46L26.05 -35.31L26.3 -35.3L26.2 -35.15L26.1 -35L25.78 -34.96L25.45 -34.9L25.13 -34.78L24.8 -34.9L24.49 -35.02L24.25 -35.23L23.93 -35.13L23.6 -35.2L23.56 -35.4L23.5 -35.6ZM32.3 -35.1L32.5 -35.17L32.71 -35.11L32.83 -35.28L33 -35.4L33.23 -35.42L33.41 -35.57L33.54 -35.75L33.74 -35.85L33.97 -35.89L34.17 -35.77L34.37 -35.66L34.6 -35.7L34.56 -35.46L34.41 -35.26L34.17 -35.18L34 -35L33.72 -34.95L33.43 -34.97L33.26 -34.73L33 -34.6L32.71 -34.71L32.4 -34.7L32.4 -34.91L32.3 -35.1ZM22.8 -38.9L24.1 -38.6L24.5 -38L23.9 -38.4L22.8 -38.9ZM2.4 -39.6L3.2 -39.9L3.4 -39.6L2.8 -39.4ZM11 -55.4L12.4 -56.1L12.6 -55.6L12.1 -55L11.2 -55.2ZM9.8 -55.4L10.6 -55.5L10.7 -55.1L10 -55.1ZM18.1 -57.3L18.9 -57.8L18.7 -57.1L18.2 -56.9ZM-15.6 -28.1L-15.4 -28.1L-15.5 -27.8ZM53.3 -12.6L54.5 -12.6L54.1 -12.3L53.5 -12.3ZM39.2 5.8L39.6 6L39.4 6.4ZM8.5 -3.7L8.9 -3.7L8.7 -3.3ZM92.7 -13.5L93 -12.5L92.7 -11.5L92.5 -12.3ZM93.7 -7.2L93.9 -7L93.8 -6.8ZM57.4 20L57.8 20.2L57.6 20.5ZM55.3 21L55.8 21.1L55.5 21.4ZM55.4 4.6L55.6 4.7L55.5 4.8ZM144.6 -13.3L144.9 -13.6L144.8 -13.2ZM-172.8 13.5L-172.2 13.5L-172.5 13.8ZM-172 13.8L-171.4 13.9L-171.8 14.1ZM-175.3 21.1L-175 21.1L-175.2 21.3ZM-149.6 17.5L-149.2 17.6L-149.4 17.9Z"/><path id="bound" fill="none" stroke="#1e1e1e" stroke-width="0.8" stroke-opacity="0.95" vector-effect="non-scaling-stroke" d="M66.8 -69.4L65.5 -68.6L64.5 -67.6L63 -66.4L61 -65.2L59.6 -64L59.2 -62.5L59.4 -61L59 -59.5L59.5 -58L59.3 -56.5L59.8 -55.2L59.5 -54L59.8 -52.6L60.8 -51.6L59.5 -51.2L58 -51.1L56.5 -51.2L55 -50.8L53.5 -51.3L52.2 -51.5L50.8 -51.6L49.5 -51L48.3 -50.2L47 -49.8L46.8 -48.8L47.3 -47.8L47.6 -46.5L47.6 -45.6L47.1 -44.6L47.5 -43.8L47.5 -43L48.4 -42.2L47.6 -41.6L46.5 -41.9L45.2 -42.4L44 -42.7L42.5 -43.1L41 -43.3L40 -43.4"/><path id="thick" fill="none" stroke="#3a3a3a" stroke-width="1.45" stroke-linejoin="round" vector-effect="non-scaling-stroke" d="M4.8 -61.6L5.2 -62.3L6.5 -62.8L8.2 -63.3L9.8 -63.9L10.8 -64.6L12 -65.3L12.9 -66.1L13.8 -67L15 -67.9L16.3 -68.6L17.8 -69.3L19.5 -69.8L21.3 -70.2L23.3 -70.6L25.5 -70.9L27.5 -70.9L29.3 -70.5L31 -70.2M-137 -58.8L-135.8 -58.2L-134.8 -57.3L-133.8 -56.3L-132.6 -55.3L-131.2 -54.3L-130 -53.3L-128.8 -52.4L-127.9 -51.4L-126.8 -50.6L-125.3 -50L-124 -49.4L-123.3 -48.6M-73.7 41.6L-74.1 43.2L-74.6 45L-75.2 46.8L-75.4 48.6L-75.3 50.4L-74.8 52L-73.6 53.2L-72.2 54.2L-70.6 54.9L-69 55.3M-52.6 -65.5L-53.2 -66.6L-53.6 -67.8L-52 -68.7L-51.5 -69.6L-53 -70.4L-54.5 -71.2L-55.3 -72.3L-56 -73.5L-57.5 -74.6L-59 -75.7M-23 -69.9L-22.2 -70.8L-22.4 -71.8L-21.8 -72.9L-21 -74L-19.6 -74.8L-19 -76L-18.8 -77.2"/></defs>
<g fill="none" stroke-width="2.2">

<clipPath id="cpA"><rect x="49.8" y="24.3" width="633.65" height="260.6"/></clipPath>
<g clip-path="url(#cpA)">
<use href="#coast" transform="matrix(1.78 0 0 1.86 363.33 173.21)"/>
<use href="#bound" transform="matrix(1.78 0 0 1.86 363.33 173.21)"/>
<use href="#thick" transform="matrix(1.78 0 0 1.86 363.33 173.21)"/>
<rect x="398.98" y="33.61" width="8.91" height="9.31" stroke="#4575b4"/>
<rect x="407.89" y="33.61" width="8.91" height="9.31" stroke="#4575b4"/>
<rect x="381.15" y="42.91" width="8.91" height="9.31" stroke="#4575b4"/>
<rect x="398.98" y="42.91" width="8.91" height="9.31" stroke="#4575b4"/>
<rect x="568.31" y="52.22" width="8.91" height="9.31" stroke="#4575b4"/>
<rect x="577.22" y="70.84" width="8.91" height="9.31" stroke="#d73027"/>
<rect x="390.06" y="80.14" width="8.91" height="9.31" stroke="#d73027"/>
<rect x="541.57" y="80.14" width="8.91" height="9.31" stroke="#d73027"/>
<rect x="550.48" y="80.14" width="8.91" height="9.31" stroke="#d73027"/>
<rect x="559.39" y="80.14" width="8.91" height="9.31" stroke="#d73027"/>
<rect x="381.15" y="89.45" width="8.91" height="9.31" stroke="#d73027"/>
<rect x="345.5" y="98.76" width="8.91" height="9.31" stroke="#d73027"/>
<rect x="372.24" y="98.76" width="8.91" height="9.31" stroke="#d73027"/>
<rect x="425.71" y="98.76" width="8.91" height="9.31" stroke="#d73027"/>
<rect x="461.36" y="98.76" width="8.91" height="9.31" stroke="#d73027"/>
<rect x="470.27" y="98.76" width="8.91" height="9.31" stroke="#d73027"/>
<rect x="479.18" y="98.76" width="8.91" height="9.31" stroke="#d73027"/>
<rect x="488.1" y="98.76" width="8.91" height="9.31" stroke="#e0f3f8"/>
<rect x="550.48" y="98.76" width="8.91" height="9.31" stroke="#d73027"/>
<rect x="372.24" y="108.06" width="8.91" height="9.31" stroke="#d73027"/>
<rect x="407.89" y="108.06" width="8.91" height="9.31" stroke="#d73027"/>
<rect x="416.8" y="108.06" width="8.91" height="9.31" stroke="#d73027"/>
<rect x="479.18" y="108.06" width="8.91" height="9.31" stroke="#d73027"/>
<rect x="488.1" y="108.06" width="8.91" height="9.31" stroke="#d73027"/>
<rect x="497.01" y="108.06" width="8.91" height="9.31" stroke="#d73027"/>
<rect x="470.27" y="117.37" width="8.91" height="9.31" stroke="#d73027"/>
<rect x="497.01" y="117.37" width="8.91" height="9.31" stroke="#d73027"/>
<rect x="505.92" y="117.37" width="8.91" height="9.31" stroke="#d73027"/>
<rect x="514.83" y="117.37" width="8.91" height="9.31" stroke="#abd9e9"/>
<rect x="523.75" y="117.37" width="8.91" height="9.31" stroke="#abd9e9"/>
<rect x="407.89" y="126.68" width="8.91" height="9.31" stroke="#d73027"/>
<rect x="416.8" y="126.68" width="8.91" height="9.31" stroke="#d73027"/>
<rect x="497.01" y="126.68" width="8.91" height="9.31" stroke="#d73027"/>
<rect x="541.57" y="126.68" width="8.91" height="9.31" stroke="#d73027"/>
<rect x="229.65" y="135.99" width="8.91" height="9.31" stroke="#d73027"/>
<rect x="327.68" y="135.99" width="8.91" height="9.31" stroke="#d73027"/>
<rect x="336.59" y="135.99" width="8.91" height="9.31" stroke="#d73027"/>
<rect x="345.5" y="135.99" width="8.91" height="9.31" stroke="#d73027"/>
<rect x="354.42" y="135.99" width="8.91" height="9.31" stroke="#d73027"/>
<rect x="363.33" y="135.99" width="8.91" height="9.31" stroke="#d73027"/>
<rect x="372.24" y="135.99" width="8.91" height="9.31" stroke="#d73027"/>
<rect x="532.66" y="135.99" width="8.91" height="9.31" stroke="#4575b4"/>
<rect x="577.22" y="135.99" width="8.91" height="9.31" stroke="#74add1"/>
<rect x="327.68" y="145.29" width="8.91" height="9.31" stroke="#d73027"/>
<rect x="345.5" y="145.29" width="8.91" height="9.31" stroke="#d73027"/>
<rect x="354.42" y="145.29" width="8.91" height="9.31" stroke="#d73027"/>
<rect x="363.33" y="145.29" width="8.91" height="9.31" stroke="#d73027"/>
<rect x="372.24" y="145.29" width="8.91" height="9.31" stroke="#d73027"/>
<rect x="381.15" y="145.29" width="8.91" height="9.31" stroke="#d73027"/>
<rect x="398.98" y="145.29" width="8.91" height="9.31" stroke="#d73027"/>
<rect x="416.8" y="145.29" width="8.91" height="9.31" stroke="#d73027"/>
<rect x="425.71" y="145.29" width="8.91" height="9.31" stroke="#d73027"/>
<rect x="434.62" y="145.29" width="8.91" height="9.31" stroke="#d73027"/>
<rect x="541.57" y="145.29" width="8.91" height="9.31" stroke="#d73027"/>
<rect x="550.48" y="145.29" width="8.91" height="9.31" stroke="#e0f3f8"/>
<rect x="577.22" y="145.29" width="8.91" height="9.31" stroke="#4575b4"/>
<rect x="345.5" y="154.6" width="8.91" height="9.31" stroke="#d73027"/>
<rect x="354.42" y="154.6" width="8.91" height="9.31" stroke="#d73027"/>
<rect x="363.33" y="154.6" width="8.91" height="9.31" stroke="#d73027"/>
<rect x="372.24" y="154.6" width="8.91" height="9.31" stroke="#d73027"/>
<rect x="381.15" y="154.6" width="8.91" height="9.31" stroke="#d73027"/>
<rect x="407.89" y="154.6" width="8.91" height="9.31" stroke="#d73027"/>
<rect x="416.8" y="154.6" width="8.91" height="9.31" stroke="#d73027"/>
<rect x="425.71" y="154.6" width="8.91" height="9.31" stroke="#d73027"/>
<rect x="434.62" y="154.6" width="8.91" height="9.31" stroke="#d73027"/>
<rect x="505.92" y="154.6" width="8.91" height="9.31" stroke="#d73027"/>
<rect x="577.22" y="154.6" width="8.91" height="9.31" stroke="#f46d43"/>
<rect x="657.43" y="154.6" width="8.91" height="9.31" stroke="#d73027"/>
<rect x="666.34" y="154.6" width="8.91" height="9.31" stroke="#d73027"/>
<rect x="238.56" y="163.91" width="8.91" height="9.31" stroke="#4575b4"/>
<rect x="372.24" y="163.91" width="8.91" height="9.31" stroke="#d73027"/>
<rect x="381.15" y="163.91" width="8.91" height="9.31" stroke="#d73027"/>
<rect x="390.06" y="163.91" width="8.91" height="9.31" stroke="#d73027"/>
<rect x="416.8" y="163.91" width="8.91" height="9.31" stroke="#d73027"/>
<rect x="425.71" y="163.91" width="8.91" height="9.31" stroke="#d73027"/>
<rect x="666.34" y="163.91" width="8.91" height="9.31" stroke="#d73027"/>
<rect x="407.89" y="173.21" width="8.91" height="9.31" stroke="#d73027"/>
<rect x="416.8" y="173.21" width="8.91" height="9.31" stroke="#d73027"/>
<rect x="425.71" y="173.21" width="8.91" height="9.31" stroke="#d73027"/>
<rect x="603.95" y="173.21" width="8.91" height="9.31" stroke="#4575b4"/>
<rect x="220.73" y="182.52" width="8.91" height="9.31" stroke="#d73027"/>
<rect x="229.65" y="182.52" width="8.91" height="9.31" stroke="#d73027"/>
<rect x="381.15" y="182.52" width="8.91" height="9.31" stroke="#d73027"/>
<rect x="416.8" y="182.52" width="8.91" height="9.31" stroke="#d73027"/>
<rect x="425.71" y="182.52" width="8.91" height="9.31" stroke="#d73027"/>
<rect x="568.31" y="182.52" width="8.91" height="9.31" stroke="#4575b4"/>
<rect x="639.6" y="182.52" width="8.91" height="9.31" stroke="#fee090"/>
<rect x="60.32" y="191.83" width="8.91" height="9.31" stroke="#d73027"/>
<rect x="416.8" y="191.83" width="8.91" height="9.31" stroke="#fdae61"/>
<rect x="425.71" y="191.83" width="8.91" height="9.31" stroke="#d73027"/>
<rect x="443.54" y="191.83" width="8.91" height="9.31" stroke="#d73027"/>
<rect x="78.14" y="201.14" width="8.91" height="9.31" stroke="#d73027"/>
<rect x="238.56" y="201.14" width="8.91" height="9.31" stroke="#d73027"/>
<rect x="381.15" y="201.14" width="8.91" height="9.31" stroke="#d73027"/>
<rect x="390.06" y="201.14" width="8.91" height="9.31" stroke="#d73027"/>
<rect x="398.98" y="201.14" width="8.91" height="9.31" stroke="#d73027"/>
<rect x="407.89" y="201.14" width="8.91" height="9.31" stroke="#d73027"/>
<rect x="416.8" y="201.14" width="8.91" height="9.31" stroke="#d73027"/>
<rect x="425.71" y="201.14" width="8.91" height="9.31" stroke="#d73027"/>
<rect x="470.27" y="201.14" width="8.91" height="9.31" stroke="#d73027"/>
<rect x="78.14" y="210.44" width="8.91" height="9.31" stroke="#f46d43"/>
<rect x="390.06" y="210.44" width="8.91" height="9.31" stroke="#d73027"/>
<rect x="398.98" y="210.44" width="8.91" height="9.31" stroke="#d73027"/>
<rect x="407.89" y="210.44" width="8.91" height="9.31" stroke="#d73027"/>
<rect x="416.8" y="210.44" width="8.91" height="9.31" stroke="#d73027"/>
<rect x="443.54" y="210.44" width="8.91" height="9.31" stroke="#d73027"/>
<rect x="398.98" y="219.75" width="8.91" height="9.31" stroke="#d73027"/>
<rect x="407.89" y="219.75" width="8.91" height="9.31" stroke="#d73027"/>
<rect x="416.8" y="219.75" width="8.91" height="9.31" stroke="#d73027"/>
<rect x="443.54" y="219.75" width="8.91" height="9.31" stroke="#d73027"/>
<rect x="407.89" y="229.06" width="8.91" height="9.31" stroke="#d73027"/>
<rect x="416.8" y="229.06" width="8.91" height="9.31" stroke="#d73027"/>
<rect x="523.75" y="70.84" width="8.91" height="9.31" stroke="#000000"/>
<rect x="550.48" y="70.84" width="8.91" height="9.31" stroke="#000000"/>
<rect x="372.24" y="80.14" width="8.91" height="9.31" stroke="#000000"/>
<rect x="523.75" y="80.14" width="8.91" height="9.31" stroke="#000000"/>
<rect x="532.66" y="80.14" width="8.91" height="9.31" stroke="#000000"/>
<rect x="488.1" y="89.45" width="8.91" height="9.31" stroke="#000000"/>
<rect x="497.01" y="98.76" width="8.91" height="9.31" stroke="#000000"/>
<rect x="381.15" y="108.06" width="8.91" height="9.31" stroke="#000000"/>
<rect x="158.35" y="117.37" width="8.91" height="9.31" stroke="#000000"/>
<rect x="416.8" y="117.37" width="8.91" height="9.31" stroke="#000000"/>
<rect x="532.66" y="117.37" width="8.91" height="9.31" stroke="#000000"/>
<rect x="550.48" y="117.37" width="8.91" height="9.31" stroke="#000000"/>
<rect x="185.09" y="126.68" width="8.91" height="9.31" stroke="#000000"/>
<rect x="505.92" y="126.68" width="8.91" height="9.31" stroke="#000000"/>
<rect x="514.83" y="126.68" width="8.91" height="9.31" stroke="#000000"/>
<rect x="523.75" y="126.68" width="8.91" height="9.31" stroke="#000000"/>
<rect x="550.48" y="126.68" width="8.91" height="9.31" stroke="#000000"/>
<rect x="559.39" y="126.68" width="8.91" height="9.31" stroke="#000000"/>
<rect x="194" y="135.99" width="8.91" height="9.31" stroke="#000000"/>
<rect x="220.73" y="135.99" width="8.91" height="9.31" stroke="#000000"/>
<rect x="247.47" y="135.99" width="8.91" height="9.31" stroke="#000000"/>
<rect x="505.92" y="135.99" width="8.91" height="9.31" stroke="#000000"/>
<rect x="541.57" y="135.99" width="8.91" height="9.31" stroke="#000000"/>
<rect x="550.48" y="135.99" width="8.91" height="9.31" stroke="#000000"/>
<rect x="194" y="145.29" width="8.91" height="9.31" stroke="#000000"/>
<rect x="202.91" y="145.29" width="8.91" height="9.31" stroke="#000000"/>
<rect x="497.01" y="145.29" width="8.91" height="9.31" stroke="#000000"/>
<rect x="211.82" y="154.6" width="8.91" height="9.31" stroke="#000000"/>
<rect x="497.01" y="154.6" width="8.91" height="9.31" stroke="#000000"/>
<rect x="220.73" y="163.91" width="8.91" height="9.31" stroke="#000000"/>
<rect x="407.89" y="163.91" width="8.91" height="9.31" stroke="#000000"/>
<rect x="657.43" y="173.21" width="8.91" height="9.31" stroke="#000000"/>
<rect x="666.34" y="173.21" width="8.91" height="9.31" stroke="#000000"/>
<rect x="621.78" y="182.52" width="8.91" height="9.31" stroke="#000000"/>
<rect x="398.98" y="191.83" width="8.91" height="9.31" stroke="#000000"/>
<rect x="229.65" y="201.14" width="8.91" height="9.31" stroke="#000000"/>
<rect x="675.25" y="201.14" width="8.91" height="9.31" stroke="#000000"/>
<rect x="229.65" y="229.06" width="8.91" height="9.31" stroke="#000000"/>
<rect x="247.47" y="229.06" width="8.91" height="9.31" stroke="#000000"/>
<rect x="390.06" y="229.06" width="8.91" height="9.31" stroke="#000000"/>
<rect x="256.38" y="238.36" width="8.91" height="9.31" stroke="#000000"/>
<rect x="238.56" y="247.67" width="8.91" height="9.31" stroke="#000000"/>
</g>
<path d="M49.8 24.3H683.45V284.9" fill="none" stroke="#666" stroke-width="1"/>
<path d="M49.8 24.3V284.9H683.45" fill="none" stroke="#aaa" stroke-width="1.6"/>
<line x1="46.8" x2="49.8" y1="24.3" y2="24.3" stroke="#333" stroke-width="1.1"/>
<text x="44.6" y="29" class="tk" text-anchor="end">80</text>
<line x1="46.8" x2="49.8" y1="98.76" y2="98.76" stroke="#333" stroke-width="1.1"/>
<text x="44.6" y="103.46" class="tk" text-anchor="end">40</text>
<line x1="46.8" x2="49.8" y1="173.21" y2="173.21" stroke="#333" stroke-width="1.1"/>
<text x="44.6" y="177.91" class="tk" text-anchor="end">0</text>
<line x1="46.8" x2="49.8" y1="247.67" y2="247.67" stroke="#333" stroke-width="1.1"/>
<text x="44.6" y="252.37" class="tk" text-anchor="end">-40</text>
<line x1="185.09" x2="185.09" y1="284.9" y2="287.9" stroke="#333" stroke-width="1.1"/>
<line x1="363.33" x2="363.33" y1="284.9" y2="287.9" stroke="#333" stroke-width="1.1"/>
<line x1="541.57" x2="541.57" y1="284.9" y2="287.9" stroke="#333" stroke-width="1.1"/>
<text x="49.5" y="14.5" class="ttl">A) TP and observations of rainfall 1955-2005</text>
<clipPath id="cpB"><rect x="46.8" y="343.4" width="636.7" height="260.9"/></clipPath>
<g clip-path="url(#cpB)">
<use href="#coast" transform="matrix(1.79 0 0 1.86 361.84 492.49)"/>
<use href="#bound" transform="matrix(1.79 0 0 1.86 361.84 492.49)"/>
<use href="#thick" transform="matrix(1.79 0 0 1.86 361.84 492.49)"/>
<rect x="397.66" y="352.72" width="8.95" height="9.32" stroke="#4575b4"/>
<rect x="406.61" y="352.72" width="8.95" height="9.32" stroke="#4575b4"/>
<rect x="379.75" y="362.04" width="8.95" height="9.32" stroke="#4575b4"/>
<rect x="397.66" y="362.04" width="8.95" height="9.32" stroke="#4575b4"/>
<rect x="567.8" y="371.35" width="8.95" height="9.32" stroke="#4575b4"/>
<rect x="576.76" y="389.99" width="8.95" height="9.32" stroke="#d73027"/>
<rect x="370.79" y="399.31" width="8.95" height="9.32" stroke="#d73027"/>
<rect x="540.94" y="399.31" width="8.95" height="9.32" stroke="#d73027"/>
<rect x="558.85" y="399.31" width="8.95" height="9.32" stroke="#d73027"/>
<rect x="379.75" y="408.62" width="8.95" height="9.32" stroke="#d73027"/>
<rect x="343.93" y="417.94" width="8.95" height="9.32" stroke="#d73027"/>
<rect x="424.52" y="417.94" width="8.95" height="9.32" stroke="#d73027"/>
<rect x="460.34" y="417.94" width="8.95" height="9.32" stroke="#d73027"/>
<rect x="469.3" y="417.94" width="8.95" height="9.32" stroke="#d73027"/>
<rect x="478.25" y="417.94" width="8.95" height="9.32" stroke="#d73027"/>
<rect x="487.21" y="417.94" width="8.95" height="9.32" stroke="#e0f3f8"/>
<rect x="549.89" y="417.94" width="8.95" height="9.32" stroke="#d73027"/>
<rect x="370.79" y="427.26" width="8.95" height="9.32" stroke="#d73027"/>
<rect x="379.75" y="427.26" width="8.95" height="9.32" stroke="#d73027"/>
<rect x="406.61" y="427.26" width="8.95" height="9.32" stroke="#d73027"/>
<rect x="415.57" y="427.26" width="8.95" height="9.32" stroke="#d73027"/>
<rect x="478.25" y="427.26" width="8.95" height="9.32" stroke="#d73027"/>
<rect x="487.21" y="427.26" width="8.95" height="9.32" stroke="#d73027"/>
<rect x="496.16" y="427.26" width="8.95" height="9.32" stroke="#d73027"/>
<rect x="415.57" y="436.58" width="8.95" height="9.32" stroke="#d73027"/>
<rect x="469.3" y="436.58" width="8.95" height="9.32" stroke="#d73027"/>
<rect x="496.16" y="436.58" width="8.95" height="9.32" stroke="#d73027"/>
<rect x="505.12" y="436.58" width="8.95" height="9.32" stroke="#d73027"/>
<rect x="514.07" y="436.58" width="8.95" height="9.32" stroke="#abd9e9"/>
<rect x="523.03" y="436.58" width="8.95" height="9.32" stroke="#abd9e9"/>
<rect x="549.89" y="436.58" width="8.95" height="9.32" stroke="#d73027"/>
<rect x="406.61" y="445.9" width="8.95" height="9.32" stroke="#d73027"/>
<rect x="496.16" y="445.9" width="8.95" height="9.32" stroke="#d73027"/>
<rect x="505.12" y="445.9" width="8.95" height="9.32" stroke="#d73027"/>
<rect x="549.89" y="445.9" width="8.95" height="9.32" stroke="#d73027"/>
<rect x="558.85" y="445.9" width="8.95" height="9.32" stroke="#d73027"/>
<rect x="531.98" y="455.21" width="8.95" height="9.32" stroke="#4575b4"/>
<rect x="576.76" y="455.21" width="8.95" height="9.32" stroke="#74add1"/>
<rect x="200.65" y="464.53" width="8.95" height="9.32" stroke="#4575b4"/>
<rect x="343.93" y="464.53" width="8.95" height="9.32" stroke="#d73027"/>
<rect x="549.89" y="464.53" width="8.95" height="9.32" stroke="#e0f3f8"/>
<rect x="576.76" y="464.53" width="8.95" height="9.32" stroke="#4575b4"/>
<rect x="343.93" y="473.85" width="8.95" height="9.32" stroke="#d73027"/>
<rect x="352.88" y="473.85" width="8.95" height="9.32" stroke="#d73027"/>
<rect x="361.84" y="473.85" width="8.95" height="9.32" stroke="#e0f3f8"/>
<rect x="379.75" y="473.85" width="8.95" height="9.32" stroke="#d73027"/>
<rect x="424.52" y="473.85" width="8.95" height="9.32" stroke="#d73027"/>
<rect x="433.48" y="473.85" width="8.95" height="9.32" stroke="#d73027"/>
<rect x="576.76" y="473.85" width="8.95" height="9.32" stroke="#74add1"/>
<rect x="657.35" y="473.85" width="8.95" height="9.32" stroke="#d73027"/>
<rect x="666.31" y="473.85" width="8.95" height="9.32" stroke="#d73027"/>
<rect x="236.47" y="483.17" width="8.95" height="9.32" stroke="#4575b4"/>
<rect x="388.7" y="483.17" width="8.95" height="9.32" stroke="#d73027"/>
<rect x="424.52" y="483.17" width="8.95" height="9.32" stroke="#d73027"/>
<rect x="666.31" y="483.17" width="8.95" height="9.32" stroke="#d73027"/>
<rect x="406.61" y="492.49" width="8.95" height="9.32" stroke="#d73027"/>
<rect x="415.57" y="492.49" width="8.95" height="9.32" stroke="#d73027"/>
<rect x="424.52" y="492.49" width="8.95" height="9.32" stroke="#d73027"/>
<rect x="603.62" y="492.49" width="8.95" height="9.32" stroke="#4575b4"/>
<rect x="657.35" y="492.49" width="8.95" height="9.32" stroke="#d73027"/>
<rect x="666.31" y="492.49" width="8.95" height="9.32" stroke="#d73027"/>
<rect x="218.56" y="501.8" width="8.95" height="9.32" stroke="#d73027"/>
<rect x="227.51" y="501.8" width="8.95" height="9.32" stroke="#d73027"/>
<rect x="415.57" y="501.8" width="8.95" height="9.32" stroke="#d73027"/>
<rect x="424.52" y="501.8" width="8.95" height="9.32" stroke="#d73027"/>
<rect x="621.53" y="501.8" width="8.95" height="9.32" stroke="#4575b4"/>
<rect x="639.44" y="501.8" width="8.95" height="9.32" stroke="#fee090"/>
<rect x="415.57" y="511.12" width="8.95" height="9.32" stroke="#fdae61"/>
<rect x="424.52" y="511.12" width="8.95" height="9.32" stroke="#d73027"/>
<rect x="442.43" y="511.12" width="8.95" height="9.32" stroke="#d73027"/>
<rect x="236.47" y="520.44" width="8.95" height="9.32" stroke="#d73027"/>
<rect x="388.7" y="520.44" width="8.95" height="9.32" stroke="#d73027"/>
<rect x="397.66" y="520.44" width="8.95" height="9.32" stroke="#d73027"/>
<rect x="406.61" y="520.44" width="8.95" height="9.32" stroke="#d73027"/>
<rect x="415.57" y="520.44" width="8.95" height="9.32" stroke="#d73027"/>
<rect x="75.28" y="529.76" width="8.95" height="9.32" stroke="#f46d43"/>
<rect x="388.7" y="529.76" width="8.95" height="9.32" stroke="#d73027"/>
<rect x="397.66" y="529.76" width="8.95" height="9.32" stroke="#d73027"/>
<rect x="406.61" y="529.76" width="8.95" height="9.32" stroke="#d73027"/>
<rect x="415.57" y="529.76" width="8.95" height="9.32" stroke="#d73027"/>
<rect x="442.43" y="529.76" width="8.95" height="9.32" stroke="#d73027"/>
<rect x="388.7" y="539.07" width="8.95" height="9.32" stroke="#d73027"/>
<rect x="397.66" y="539.07" width="8.95" height="9.32" stroke="#d73027"/>
<rect x="406.61" y="539.07" width="8.95" height="9.32" stroke="#d73027"/>
<rect x="415.57" y="539.07" width="8.95" height="9.32" stroke="#d73027"/>
<rect x="227.51" y="548.39" width="8.95" height="9.32" stroke="#d73027"/>
<rect x="245.42" y="548.39" width="8.95" height="9.32" stroke="#d73027"/>
<rect x="388.7" y="548.39" width="8.95" height="9.32" stroke="#d73027"/>
<rect x="406.61" y="548.39" width="8.95" height="9.32" stroke="#d73027"/>
<rect x="415.57" y="548.39" width="8.95" height="9.32" stroke="#d73027"/>
<rect x="523.03" y="389.99" width="8.95" height="9.32" stroke="#000000"/>
<rect x="549.89" y="389.99" width="8.95" height="9.32" stroke="#000000"/>
<rect x="388.7" y="399.31" width="8.95" height="9.32" stroke="#000000"/>
<rect x="523.03" y="399.31" width="8.95" height="9.32" stroke="#000000"/>
<rect x="531.98" y="399.31" width="8.95" height="9.32" stroke="#000000"/>
<rect x="549.89" y="399.31" width="8.95" height="9.32" stroke="#000000"/>
<rect x="487.21" y="408.62" width="8.95" height="9.32" stroke="#000000"/>
<rect x="370.79" y="417.94" width="8.95" height="9.32" stroke="#000000"/>
<rect x="496.16" y="417.94" width="8.95" height="9.32" stroke="#000000"/>
<rect x="155.87" y="436.58" width="8.95" height="9.32" stroke="#000000"/>
<rect x="531.98" y="436.58" width="8.95" height="9.32" stroke="#000000"/>
<rect x="182.74" y="445.9" width="8.95" height="9.32" stroke="#000000"/>
<rect x="415.57" y="445.9" width="8.95" height="9.32" stroke="#000000"/>
<rect x="514.07" y="445.9" width="8.95" height="9.32" stroke="#000000"/>
<rect x="523.03" y="445.9" width="8.95" height="9.32" stroke="#000000"/>
<rect x="540.94" y="445.9" width="8.95" height="9.32" stroke="#000000"/>
<rect x="191.69" y="455.21" width="8.95" height="9.32" stroke="#000000"/>
<rect x="218.56" y="455.21" width="8.95" height="9.32" stroke="#000000"/>
<rect x="227.51" y="455.21" width="8.95" height="9.32" stroke="#000000"/>
<rect x="245.42" y="455.21" width="8.95" height="9.32" stroke="#000000"/>
<rect x="326.02" y="455.21" width="8.95" height="9.32" stroke="#000000"/>
<rect x="334.97" y="455.21" width="8.95" height="9.32" stroke="#000000"/>
<rect x="343.93" y="455.21" width="8.95" height="9.32" stroke="#000000"/>
<rect x="352.88" y="455.21" width="8.95" height="9.32" stroke="#000000"/>
<rect x="361.84" y="455.21" width="8.95" height="9.32" stroke="#000000"/>
<rect x="370.79" y="455.21" width="8.95" height="9.32" stroke="#000000"/>
<rect x="505.12" y="455.21" width="8.95" height="9.32" stroke="#000000"/>
<rect x="540.94" y="455.21" width="8.95" height="9.32" stroke="#000000"/>
<rect x="549.89" y="455.21" width="8.95" height="9.32" stroke="#000000"/>
<rect x="191.69" y="464.53" width="8.95" height="9.32" stroke="#000000"/>
<rect x="326.02" y="464.53" width="8.95" height="9.32" stroke="#000000"/>
<rect x="352.88" y="464.53" width="8.95" height="9.32" stroke="#000000"/>
<rect x="370.79" y="464.53" width="8.95" height="9.32" stroke="#000000"/>
<rect x="379.75" y="464.53" width="8.95" height="9.32" stroke="#000000"/>
<rect x="397.66" y="464.53" width="8.95" height="9.32" stroke="#000000"/>
<rect x="415.57" y="464.53" width="8.95" height="9.32" stroke="#000000"/>
<rect x="424.52" y="464.53" width="8.95" height="9.32" stroke="#000000"/>
<rect x="433.48" y="464.53" width="8.95" height="9.32" stroke="#000000"/>
<rect x="496.16" y="464.53" width="8.95" height="9.32" stroke="#000000"/>
<rect x="540.94" y="464.53" width="8.95" height="9.32" stroke="#000000"/>
<rect x="209.6" y="473.85" width="8.95" height="9.32" stroke="#000000"/>
<rect x="406.61" y="473.85" width="8.95" height="9.32" stroke="#000000"/>
<rect x="415.57" y="473.85" width="8.95" height="9.32" stroke="#000000"/>
<rect x="496.16" y="473.85" width="8.95" height="9.32" stroke="#000000"/>
<rect x="505.12" y="473.85" width="8.95" height="9.32" stroke="#000000"/>
<rect x="218.56" y="483.17" width="8.95" height="9.32" stroke="#000000"/>
<rect x="370.79" y="483.17" width="8.95" height="9.32" stroke="#000000"/>
<rect x="379.75" y="483.17" width="8.95" height="9.32" stroke="#000000"/>
<rect x="406.61" y="483.17" width="8.95" height="9.32" stroke="#000000"/>
<rect x="415.57" y="483.17" width="8.95" height="9.32" stroke="#000000"/>
<rect x="379.75" y="501.8" width="8.95" height="9.32" stroke="#000000"/>
<rect x="567.8" y="501.8" width="8.95" height="9.32" stroke="#000000"/>
<rect x="57.37" y="511.12" width="8.95" height="9.32" stroke="#000000"/>
<rect x="397.66" y="511.12" width="8.95" height="9.32" stroke="#000000"/>
<rect x="75.28" y="520.44" width="8.95" height="9.32" stroke="#000000"/>
<rect x="227.51" y="520.44" width="8.95" height="9.32" stroke="#000000"/>
<rect x="379.75" y="520.44" width="8.95" height="9.32" stroke="#000000"/>
<rect x="424.52" y="520.44" width="8.95" height="9.32" stroke="#000000"/>
<rect x="469.3" y="520.44" width="8.95" height="9.32" stroke="#000000"/>
<rect x="675.26" y="520.44" width="8.95" height="9.32" stroke="#000000"/>
<rect x="442.43" y="539.07" width="8.95" height="9.32" stroke="#000000"/>
<rect x="254.38" y="557.71" width="8.95" height="9.32" stroke="#000000"/>
<rect x="236.47" y="567.03" width="8.95" height="9.32" stroke="#000000"/>
</g>
<path d="M46.8 343.4H683.5V604.3" fill="none" stroke="#666" stroke-width="1"/>
<path d="M46.8 343.4V604.3H683.5" fill="none" stroke="#aaa" stroke-width="1.6"/>
<line x1="43.8" x2="46.8" y1="343.4" y2="343.4" stroke="#333" stroke-width="1.1"/>
<text x="41.6" y="348.1" class="tk" text-anchor="end">80</text>
<line x1="43.8" x2="46.8" y1="417.94" y2="417.94" stroke="#333" stroke-width="1.1"/>
<text x="41.6" y="422.64" class="tk" text-anchor="end">40</text>
<line x1="43.8" x2="46.8" y1="492.49" y2="492.49" stroke="#333" stroke-width="1.1"/>
<text x="41.6" y="497.19" class="tk" text-anchor="end">0</text>
<line x1="43.8" x2="46.8" y1="567.03" y2="567.03" stroke="#333" stroke-width="1.1"/>
<text x="41.6" y="571.73" class="tk" text-anchor="end">-40</text>
<line x1="182.74" x2="182.74" y1="604.3" y2="607.3" stroke="#333" stroke-width="1.1"/>
<line x1="361.84" x2="361.84" y1="604.3" y2="607.3" stroke="#333" stroke-width="1.1"/>
<line x1="540.94" x2="540.94" y1="604.3" y2="607.3" stroke="#333" stroke-width="1.1"/>
<text x="46.5" y="332.9" class="ttl">B) TP and observations of rainfall 1975-2005</text>
<clipPath id="cpC"><rect x="48.1" y="655.4" width="634.3" height="260.5"/></clipPath>
<g clip-path="url(#cpC)">
<use href="#coast" transform="matrix(1.78 0 0 1.86 361.95 804.26)"/>
<use href="#bound" transform="matrix(1.78 0 0 1.86 361.95 804.26)"/>
<use href="#thick" transform="matrix(1.78 0 0 1.86 361.95 804.26)"/>
<rect x="397.63" y="664.7" width="8.92" height="9.3" stroke="#4575b4"/>
<rect x="406.56" y="664.7" width="8.92" height="9.3" stroke="#4575b4"/>
<rect x="379.79" y="674.01" width="8.92" height="9.3" stroke="#4575b4"/>
<rect x="397.63" y="674.01" width="8.92" height="9.3" stroke="#4575b4"/>
<rect x="567.14" y="683.31" width="8.92" height="9.3" stroke="#4575b4"/>
<rect x="549.3" y="701.92" width="8.92" height="9.3" stroke="#d73027"/>
<rect x="576.06" y="701.92" width="8.92" height="9.3" stroke="#d73027"/>
<rect x="370.87" y="711.22" width="8.92" height="9.3" stroke="#d73027"/>
<rect x="522.53" y="711.22" width="8.92" height="9.3" stroke="#d73027"/>
<rect x="531.45" y="711.22" width="8.92" height="9.3" stroke="#d73027"/>
<rect x="540.37" y="711.22" width="8.92" height="9.3" stroke="#d73027"/>
<rect x="549.3" y="711.22" width="8.92" height="9.3" stroke="#d73027"/>
<rect x="558.22" y="711.22" width="8.92" height="9.3" stroke="#d73027"/>
<rect x="344.11" y="729.83" width="8.92" height="9.3" stroke="#d73027"/>
<rect x="424.4" y="729.83" width="8.92" height="9.3" stroke="#d73027"/>
<rect x="469" y="729.83" width="8.92" height="9.3" stroke="#d73027"/>
<rect x="477.93" y="729.83" width="8.92" height="9.3" stroke="#d73027"/>
<rect x="486.85" y="729.83" width="8.92" height="9.3" stroke="#d73027"/>
<rect x="549.3" y="729.83" width="8.92" height="9.3" stroke="#d73027"/>
<rect x="379.79" y="739.13" width="8.92" height="9.3" stroke="#d73027"/>
<rect x="406.56" y="739.13" width="8.92" height="9.3" stroke="#d73027"/>
<rect x="415.48" y="739.13" width="8.92" height="9.3" stroke="#d73027"/>
<rect x="477.93" y="739.13" width="8.92" height="9.3" stroke="#d73027"/>
<rect x="486.85" y="739.13" width="8.92" height="9.3" stroke="#d73027"/>
<rect x="495.77" y="739.13" width="8.92" height="9.3" stroke="#d73027"/>
<rect x="415.48" y="748.44" width="8.92" height="9.3" stroke="#d73027"/>
<rect x="469" y="748.44" width="8.92" height="9.3" stroke="#d73027"/>
<rect x="504.69" y="748.44" width="8.92" height="9.3" stroke="#d73027"/>
<rect x="513.61" y="748.44" width="8.92" height="9.3" stroke="#e0f3f8"/>
<rect x="522.53" y="748.44" width="8.92" height="9.3" stroke="#f46d43"/>
<rect x="183.52" y="757.74" width="8.92" height="9.3" stroke="#4575b4"/>
<rect x="406.56" y="757.74" width="8.92" height="9.3" stroke="#d73027"/>
<rect x="415.48" y="757.74" width="8.92" height="9.3" stroke="#d73027"/>
<rect x="495.77" y="757.74" width="8.92" height="9.3" stroke="#d73027"/>
<rect x="504.69" y="757.74" width="8.92" height="9.3" stroke="#d73027"/>
<rect x="504.69" y="767.04" width="8.92" height="9.3" stroke="#d73027"/>
<rect x="531.45" y="767.04" width="8.92" height="9.3" stroke="#4575b4"/>
<rect x="576.06" y="767.04" width="8.92" height="9.3" stroke="#74add1"/>
<rect x="201.37" y="776.35" width="8.92" height="9.3" stroke="#4575b4"/>
<rect x="549.3" y="776.35" width="8.92" height="9.3" stroke="#e0f3f8"/>
<rect x="576.06" y="776.35" width="8.92" height="9.3" stroke="#4575b4"/>
<rect x="344.11" y="785.65" width="8.92" height="9.3" stroke="#d73027"/>
<rect x="353.03" y="785.65" width="8.92" height="9.3" stroke="#d73027"/>
<rect x="379.79" y="785.65" width="8.92" height="9.3" stroke="#d73027"/>
<rect x="424.4" y="785.65" width="8.92" height="9.3" stroke="#d73027"/>
<rect x="433.32" y="785.65" width="8.92" height="9.3" stroke="#d73027"/>
<rect x="576.06" y="785.65" width="8.92" height="9.3" stroke="#74add1"/>
<rect x="656.35" y="785.65" width="8.92" height="9.3" stroke="#d73027"/>
<rect x="665.27" y="785.65" width="8.92" height="9.3" stroke="#d73027"/>
<rect x="237.05" y="794.95" width="8.92" height="9.3" stroke="#4575b4"/>
<rect x="379.79" y="794.95" width="8.92" height="9.3" stroke="#d73027"/>
<rect x="388.71" y="794.95" width="8.92" height="9.3" stroke="#d73027"/>
<rect x="406.56" y="794.95" width="8.92" height="9.3" stroke="#d73027"/>
<rect x="424.4" y="794.95" width="8.92" height="9.3" stroke="#d73027"/>
<rect x="665.27" y="794.95" width="8.92" height="9.3" stroke="#d73027"/>
<rect x="406.56" y="804.26" width="8.92" height="9.3" stroke="#d73027"/>
<rect x="415.48" y="804.26" width="8.92" height="9.3" stroke="#d73027"/>
<rect x="424.4" y="804.26" width="8.92" height="9.3" stroke="#d73027"/>
<rect x="602.82" y="804.26" width="8.92" height="9.3" stroke="#4575b4"/>
<rect x="656.35" y="804.26" width="8.92" height="9.3" stroke="#d73027"/>
<rect x="665.27" y="804.26" width="8.92" height="9.3" stroke="#d73027"/>
<rect x="219.21" y="813.56" width="8.92" height="9.3" stroke="#d73027"/>
<rect x="228.13" y="813.56" width="8.92" height="9.3" stroke="#d73027"/>
<rect x="379.79" y="813.56" width="8.92" height="9.3" stroke="#d73027"/>
<rect x="415.48" y="813.56" width="8.92" height="9.3" stroke="#d73027"/>
<rect x="424.4" y="813.56" width="8.92" height="9.3" stroke="#d73027"/>
<rect x="638.51" y="813.56" width="8.92" height="9.3" stroke="#fee090"/>
<rect x="58.63" y="822.86" width="8.92" height="9.3" stroke="#d73027"/>
<rect x="397.63" y="822.86" width="8.92" height="9.3" stroke="#4575b4"/>
<rect x="415.48" y="822.86" width="8.92" height="9.3" stroke="#fdae61"/>
<rect x="424.4" y="822.86" width="8.92" height="9.3" stroke="#d73027"/>
<rect x="442.24" y="822.86" width="8.92" height="9.3" stroke="#d73027"/>
<rect x="76.47" y="832.17" width="8.92" height="9.3" stroke="#d73027"/>
<rect x="228.13" y="832.17" width="8.92" height="9.3" stroke="#d73027"/>
<rect x="237.05" y="832.17" width="8.92" height="9.3" stroke="#d73027"/>
<rect x="388.71" y="832.17" width="8.92" height="9.3" stroke="#d73027"/>
<rect x="397.63" y="832.17" width="8.92" height="9.3" stroke="#d73027"/>
<rect x="406.56" y="832.17" width="8.92" height="9.3" stroke="#d73027"/>
<rect x="415.48" y="832.17" width="8.92" height="9.3" stroke="#d73027"/>
<rect x="424.4" y="832.17" width="8.92" height="9.3" stroke="#d73027"/>
<rect x="469" y="832.17" width="8.92" height="9.3" stroke="#d73027"/>
<rect x="674.19" y="832.17" width="8.92" height="9.3" stroke="#4575b4"/>
<rect x="76.47" y="841.47" width="8.92" height="9.3" stroke="#f46d43"/>
<rect x="388.71" y="841.47" width="8.92" height="9.3" stroke="#d73027"/>
<rect x="442.24" y="841.47" width="8.92" height="9.3" stroke="#d73027"/>
<rect x="406.56" y="850.77" width="8.92" height="9.3" stroke="#d73027"/>
<rect x="415.48" y="850.77" width="8.92" height="9.3" stroke="#d73027"/>
<rect x="388.71" y="860.08" width="8.92" height="9.3" stroke="#d73027"/>
<rect x="406.56" y="860.08" width="8.92" height="9.3" stroke="#d73027"/>
<rect x="415.48" y="860.08" width="8.92" height="9.3" stroke="#d73027"/>
<rect x="522.53" y="701.92" width="8.92" height="9.3" stroke="#000000"/>
<rect x="388.71" y="711.22" width="8.92" height="9.3" stroke="#000000"/>
<rect x="379.79" y="720.52" width="8.92" height="9.3" stroke="#000000"/>
<rect x="486.85" y="720.52" width="8.92" height="9.3" stroke="#000000"/>
<rect x="370.87" y="729.83" width="8.92" height="9.3" stroke="#000000"/>
<rect x="460.08" y="729.83" width="8.92" height="9.3" stroke="#000000"/>
<rect x="495.77" y="729.83" width="8.92" height="9.3" stroke="#000000"/>
<rect x="370.87" y="739.13" width="8.92" height="9.3" stroke="#000000"/>
<rect x="156.76" y="748.44" width="8.92" height="9.3" stroke="#000000"/>
<rect x="495.77" y="748.44" width="8.92" height="9.3" stroke="#000000"/>
<rect x="531.45" y="748.44" width="8.92" height="9.3" stroke="#000000"/>
<rect x="549.3" y="748.44" width="8.92" height="9.3" stroke="#000000"/>
<rect x="513.61" y="757.74" width="8.92" height="9.3" stroke="#000000"/>
<rect x="522.53" y="757.74" width="8.92" height="9.3" stroke="#000000"/>
<rect x="540.37" y="757.74" width="8.92" height="9.3" stroke="#000000"/>
<rect x="549.3" y="757.74" width="8.92" height="9.3" stroke="#000000"/>
<rect x="558.22" y="757.74" width="8.92" height="9.3" stroke="#000000"/>
<rect x="192.45" y="767.04" width="8.92" height="9.3" stroke="#000000"/>
<rect x="219.21" y="767.04" width="8.92" height="9.3" stroke="#000000"/>
<rect x="228.13" y="767.04" width="8.92" height="9.3" stroke="#000000"/>
<rect x="245.97" y="767.04" width="8.92" height="9.3" stroke="#000000"/>
<rect x="326.26" y="767.04" width="8.92" height="9.3" stroke="#000000"/>
<rect x="335.19" y="767.04" width="8.92" height="9.3" stroke="#000000"/>
<rect x="344.11" y="767.04" width="8.92" height="9.3" stroke="#000000"/>
<rect x="353.03" y="767.04" width="8.92" height="9.3" stroke="#000000"/>
<rect x="361.95" y="767.04" width="8.92" height="9.3" stroke="#000000"/>
<rect x="370.87" y="767.04" width="8.92" height="9.3" stroke="#000000"/>
<rect x="540.37" y="767.04" width="8.92" height="9.3" stroke="#000000"/>
<rect x="549.3" y="767.04" width="8.92" height="9.3" stroke="#000000"/>
<rect x="192.45" y="776.35" width="8.92" height="9.3" stroke="#000000"/>
<rect x="326.26" y="776.35" width="8.92" height="9.3" stroke="#000000"/>
<rect x="344.11" y="776.35" width="8.92" height="9.3" stroke="#000000"/>
<rect x="353.03" y="776.35" width="8.92" height="9.3" stroke="#000000"/>
<rect x="370.87" y="776.35" width="8.92" height="9.3" stroke="#000000"/>
<rect x="379.79" y="776.35" width="8.92" height="9.3" stroke="#000000"/>
<rect x="397.63" y="776.35" width="8.92" height="9.3" stroke="#000000"/>
<rect x="415.48" y="776.35" width="8.92" height="9.3" stroke="#000000"/>
<rect x="424.4" y="776.35" width="8.92" height="9.3" stroke="#000000"/>
<rect x="433.32" y="776.35" width="8.92" height="9.3" stroke="#000000"/>
<rect x="495.77" y="776.35" width="8.92" height="9.3" stroke="#000000"/>
<rect x="540.37" y="776.35" width="8.92" height="9.3" stroke="#000000"/>
<rect x="210.29" y="785.65" width="8.92" height="9.3" stroke="#000000"/>
<rect x="406.56" y="785.65" width="8.92" height="9.3" stroke="#000000"/>
<rect x="415.48" y="785.65" width="8.92" height="9.3" stroke="#000000"/>
<rect x="495.77" y="785.65" width="8.92" height="9.3" stroke="#000000"/>
<rect x="504.69" y="785.65" width="8.92" height="9.3" stroke="#000000"/>
<rect x="219.21" y="794.95" width="8.92" height="9.3" stroke="#000000"/>
<rect x="370.87" y="794.95" width="8.92" height="9.3" stroke="#000000"/>
<rect x="415.48" y="794.95" width="8.92" height="9.3" stroke="#000000"/>
<rect x="567.14" y="813.56" width="8.92" height="9.3" stroke="#000000"/>
<rect x="620.67" y="813.56" width="8.92" height="9.3" stroke="#000000"/>
<rect x="379.79" y="832.17" width="8.92" height="9.3" stroke="#000000"/>
<rect x="397.63" y="841.47" width="8.92" height="9.3" stroke="#000000"/>
<rect x="406.56" y="841.47" width="8.92" height="9.3" stroke="#000000"/>
<rect x="415.48" y="841.47" width="8.92" height="9.3" stroke="#000000"/>
<rect x="397.63" y="850.77" width="8.92" height="9.3" stroke="#000000"/>
<rect x="442.24" y="850.77" width="8.92" height="9.3" stroke="#000000"/>
<rect x="228.13" y="860.08" width="8.92" height="9.3" stroke="#000000"/>
<rect x="245.97" y="860.08" width="8.92" height="9.3" stroke="#000000"/>
<rect x="254.89" y="869.38" width="8.92" height="9.3" stroke="#000000"/>
<rect x="237.05" y="878.69" width="8.92" height="9.3" stroke="#000000"/>
</g>
<path d="M48.1 655.4H682.4V915.9" fill="none" stroke="#666" stroke-width="1"/>
<path d="M48.1 655.4V915.9H682.4" fill="none" stroke="#aaa" stroke-width="1.6"/>
<line x1="45.1" x2="48.1" y1="655.4" y2="655.4" stroke="#333" stroke-width="1.1"/>
<text x="42.9" y="660.1" class="tk" text-anchor="end">80</text>
<line x1="45.1" x2="48.1" y1="729.83" y2="729.83" stroke="#333" stroke-width="1.1"/>
<text x="42.9" y="734.53" class="tk" text-anchor="end">40</text>
<line x1="45.1" x2="48.1" y1="804.26" y2="804.26" stroke="#333" stroke-width="1.1"/>
<text x="42.9" y="808.96" class="tk" text-anchor="end">0</text>
<line x1="45.1" x2="48.1" y1="878.69" y2="878.69" stroke="#333" stroke-width="1.1"/>
<text x="42.9" y="883.39" class="tk" text-anchor="end">-40</text>
<line x1="183.52" x2="183.52" y1="915.9" y2="918.9" stroke="#333" stroke-width="1.1"/>
<text x="183.52" y="931.1" class="tk" text-anchor="middle">-100</text>
<line x1="361.95" x2="361.95" y1="915.9" y2="918.9" stroke="#333" stroke-width="1.1"/>
<text x="361.95" y="931.1" class="tk" text-anchor="middle">0</text>
<line x1="540.37" x2="540.37" y1="915.9" y2="918.9" stroke="#333" stroke-width="1.1"/>
<text x="540.37" y="931.1" class="tk" text-anchor="middle">100</text>
<text x="47.8" y="645" class="ttl">C) TP and observations of rainfall 1985-2005</text>
</g>
<text class="ax" transform="translate(13.1 491.9) rotate(-90) scale(1.06 1)" text-anchor="middle">Latitude</text>
<text class="ax" x="365.4" y="948" text-anchor="middle">Longitude</text>
<text class="tp" transform="translate(128.9 220.7) scale(1 1.2)">TP</text>
<g fill="none"><text x="11.2" y="975.7" class="lgt">% Agreement</text>
<rect x="89.45" y="953.45" width="15.0" height="15.3" stroke="#4575b4" stroke-width="2.5"/>
<text x="110.9" y="965" class="lg">&gt;75% (increase)</text>
<rect x="89.45" y="971.65" width="15.0" height="16.7" stroke="#74add1" stroke-width="2.5"/>
<text x="110.9" y="983.9" class="lg">50-75% (increase)</text>
<rect x="205.55" y="953.45" width="15.0" height="15.3" stroke="#abd9e9" stroke-width="2.5"/>
<text x="227.1" y="965" class="lg">25-50% (increase)</text>
<rect x="205.55" y="971.65" width="15.0" height="16.7" stroke="#e0f3f8" stroke-width="2.5"/>
<text x="227.1" y="983.9" class="lg">&lt;25% (increase)</text>
<rect x="322.35" y="953.45" width="15.0" height="15.3" stroke="#fee090" stroke-width="2.5"/>
<text x="343.2" y="965" class="lg">&lt;25% (decrease)</text>
<rect x="322.35" y="971.65" width="15.0" height="16.7" stroke="#fdae61" stroke-width="2.5"/>
<text x="343.2" y="983.9" class="lg">25-50% (decrease)</text>
<rect x="441.65" y="953.45" width="15.0" height="15.3" stroke="#f46d43" stroke-width="2.5"/>
<text x="463.4" y="965" class="lg">50-75% (decrease)</text>
<rect x="441.65" y="971.65" width="15.0" height="16.7" stroke="#d73027" stroke-width="2.5"/>
<text x="463.4" y="983.9" class="lg">&gt;75% (decrease)</text>
<rect x="561.55" y="953.45" width="15.0" height="15.3" stroke="#000000" stroke-width="2.5"/>
<text x="583.2" y="965" class="lg">No Agreement</text></g>
</svg></body></html>
